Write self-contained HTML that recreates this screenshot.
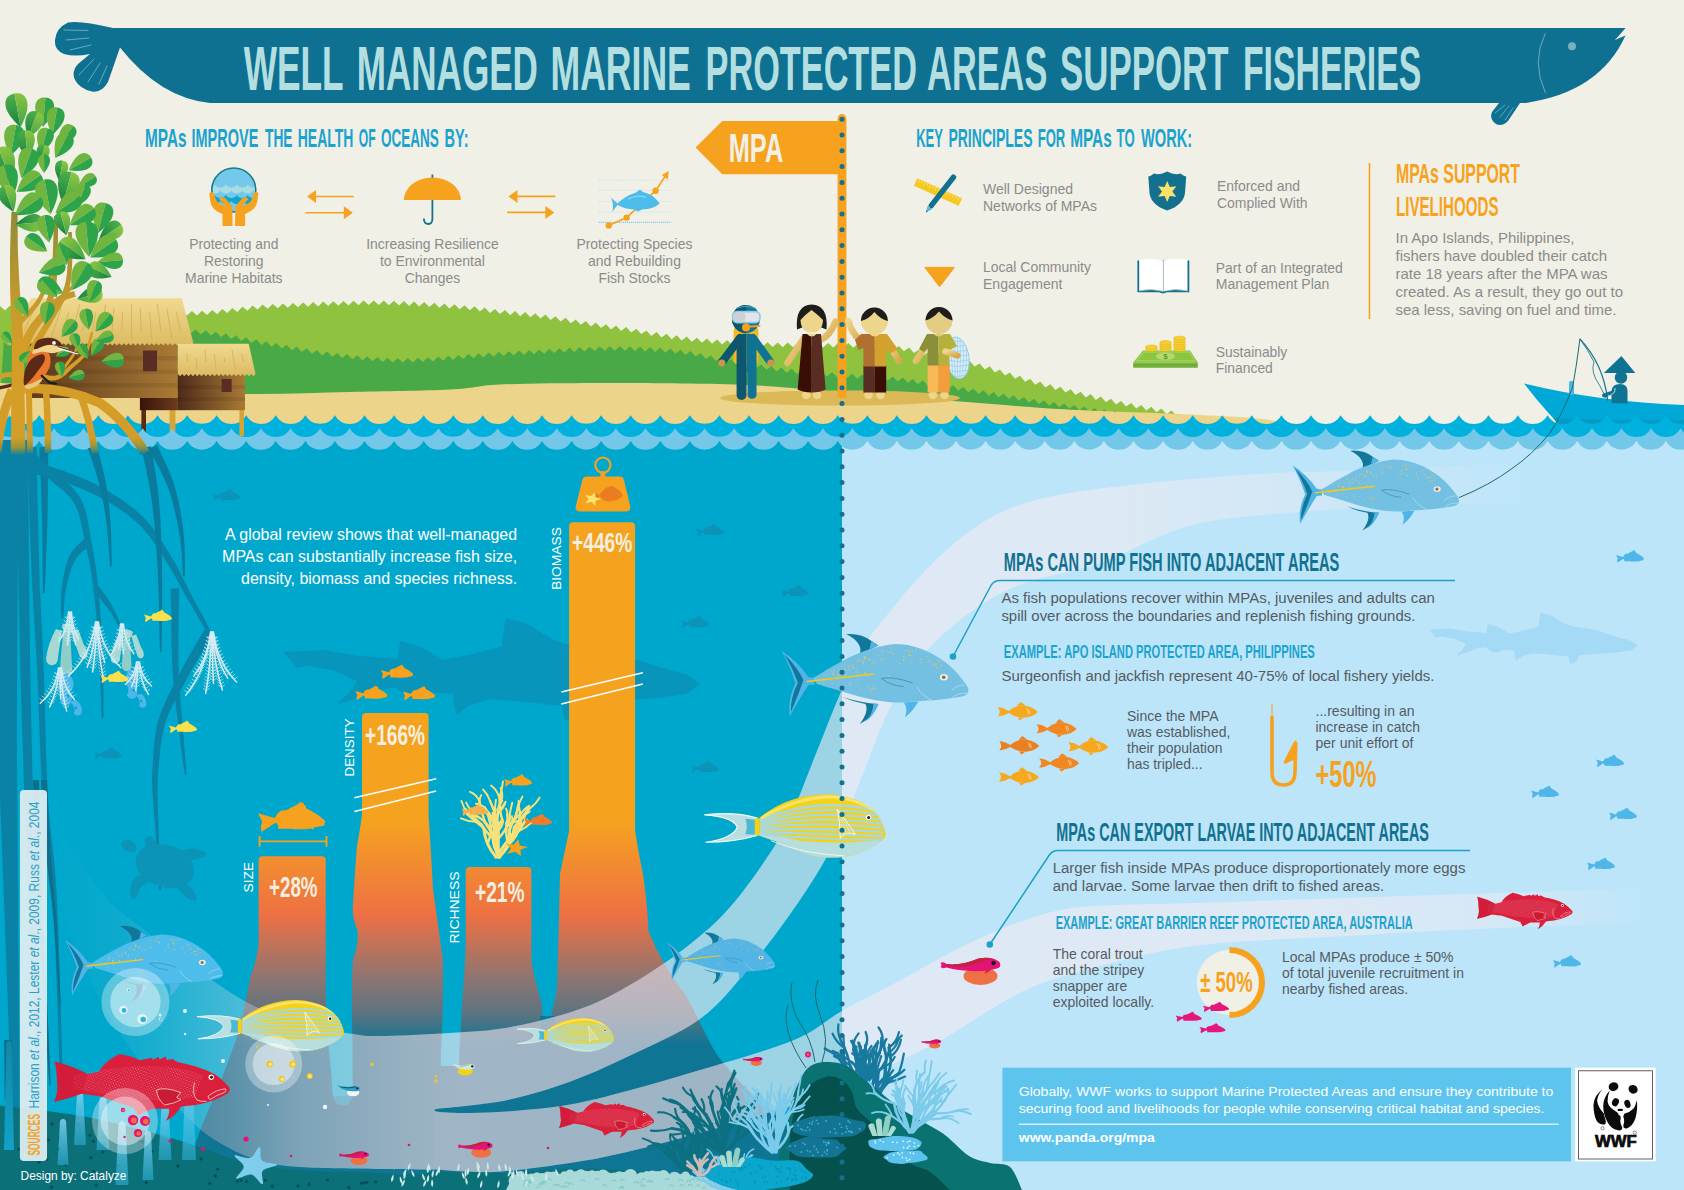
<!DOCTYPE html>
<html><head><meta charset="utf-8"><title>Well Managed Marine Protected Areas Support Fisheries</title>
<style>
html,body{margin:0;padding:0;background:#f1f0e6;}
body{width:1684px;height:1190px;overflow:hidden;}
svg{display:block;font-family:"Liberation Sans", Arial, sans-serif;}
text{white-space:pre;}
</style></head><body>
<svg width="1684" height="1190" viewBox="0 0 1684 1190">
<defs>
<linearGradient id="roof" x1="0" y1="0" x2="0" y2="1"><stop offset="0" stop-color="#f0d98f"/><stop offset="1" stop-color="#dcbb62"/></linearGradient>
<linearGradient id="wall" x1="0" y1="0" x2="1" y2="0"><stop offset="0" stop-color="#5e3a1e"/><stop offset="1" stop-color="#a87a34"/></linearGradient>
<linearGradient id="wall2" x1="0" y1="0" x2="1" y2="0"><stop offset="0" stop-color="#4e2a1a"/><stop offset="1" stop-color="#a87a34"/></linearGradient>
<linearGradient id="under" x1="0" y1="0" x2="1" y2="0"><stop offset="0" stop-color="#3a120a"/><stop offset="1" stop-color="#6b3c1e"/></linearGradient>
<clipPath id="cl"><rect x="0" y="400" width="842" height="100"/></clipPath>
<clipPath id="cr"><rect x="842" y="400" width="842" height="100"/></clipPath>
<path id="snap" d="M0.0,11.8 L16.6,16.6 L19.8,11.8 L23.0,9.1 L28.3,8.8 L32.1,6.9 L33.1,5.6 L34.7,6.1 L35.3,4.5 L36.9,5.1 L37.4,3.2 L39.0,4.0 L39.8,1.6 L41.4,2.4 L41.7,0.0 L44.1,2.1 L44.6,0.0 L46.5,4.0 L47.6,3.5 L48.1,6.9 L53.4,9.6 L60.4,13.9 L66.8,19.2 L67.3,21.1 L66.3,21.9 L66.5,24.1 L58.8,25.7 L56.1,26.2 L54.5,28.3 L53.4,27.0 L46.5,27.8 L35.3,27.8 L34.7,27.3 L19.8,27.3 L20.3,25.1 L18.7,21.6 L16.6,21.9 L3.5,30.5 L2.7,25.7 L4.3,20.3Z"/>
<path id="sf" d="M0.0,11.8 L16.6,16.6 L19.8,11.8 L23.0,9.1 L28.3,8.8 L32.1,6.9 L33.1,5.6 L34.7,6.1 L35.3,4.5 L36.9,5.1 L37.4,3.2 L39.0,4.0 L39.8,1.6 L41.4,2.4 L41.7,0.0 L44.1,2.1 L44.6,0.0 L46.5,4.0 L47.6,3.5 L48.1,6.9 L53.4,9.6 L60.4,13.9 L66.8,19.2 L67.3,21.1 L66.3,21.9 L66.5,24.1 L58.8,25.7 L56.1,26.2 L54.5,28.3 L53.4,27.0 L46.5,27.8 L35.3,27.8 L34.7,27.3 L19.8,27.3 L20.3,25.1 L18.7,21.6 L16.6,21.9 L3.5,30.5 L2.7,25.7 L4.3,20.3Z" transform="translate(-14,-7.5) scale(0.416)"/>
<g id="jack">
<path d="M0,17.8 Q16,28 27,44 L33,45 L33,51.5 L27,52 Q18,66 8.3,83.5 Q6,66 14,50 Q8,32 0,17.8Z" fill="#4fb4e6"/>
<path d="M2.5,21 Q16,34 22,47 Q17,62 9.5,79 Q9,64 16.5,50 Q11,34 2.5,21Z" fill="#12789b"/>
<path d="M64.8,1.1 Q80,0 90,8 L97,12.5 L78.4,21.1 Q82,10 64.8,1.1Z" fill="#12789b"/>
<path d="M90,8 L97,12.5 L88,16.5Z" fill="#4fb4e6"/>
<path d="M61,64 Q80,70 97,71 Q92,84 78.4,91 Q88,78 84,71 Q72,69 61,64Z" fill="#12789b"/>
<path d="M92,70.5 L97,71 Q93,82 84,89 Q92,80 92,70.5Z" fill="#4fb4e6"/>
<path d="M122.5,69.5 L137,68.6 Q131,79 123.5,84.5 Q127,76 122.5,69.5Z" fill="#4fb4e6"/>
<path d="M31.4,45.3 C40,40 49.9,33.9 62,27.5 C78,19 96.9,12.5 114,11.1 C135.4,11 156.8,22 171,35.3 C178,42 183,49 185.3,52.4 Q187.5,55 186.7,59.6 Q184,63.5 180,63.6 Q176,64.5 169.6,65.3 C160,66.8 149.6,67.4 121.1,69.5 C110,70 95,68 78.4,63.8 C65,60 50,55 35.6,51 Z" fill="var(--jb,#74c0e3)"/>
<g fill="#e8c860" opacity="0.85"><circle cx="67.2" cy="33.6" r="0.73"/><circle cx="50.2" cy="38.0" r="0.55"/><circle cx="159.9" cy="32.5" r="0.63"/><circle cx="94.4" cy="29.2" r="0.65"/><circle cx="63.1" cy="32.8" r="0.54"/><circle cx="42.4" cy="46.0" r="0.56"/><circle cx="88.9" cy="26.3" r="0.50"/><circle cx="71.0" cy="32.3" r="0.85"/><circle cx="47.6" cy="45.2" r="0.71"/><circle cx="80.6" cy="28.8" r="0.73"/><circle cx="99.7" cy="26.7" r="0.68"/><circle cx="57.1" cy="49.4" r="0.48"/><circle cx="153.5" cy="31.3" r="0.83"/><circle cx="109.5" cy="14.8" r="0.74"/><circle cx="145.7" cy="23.7" r="0.80"/><circle cx="56.2" cy="42.4" r="0.76"/><circle cx="51.7" cy="41.3" r="0.83"/><circle cx="141.2" cy="32.9" r="0.65"/><circle cx="63.7" cy="37.1" r="0.65"/><circle cx="48.6" cy="47.0" r="0.81"/><circle cx="100.9" cy="17.1" r="0.55"/><circle cx="41.4" cy="49.3" r="0.59"/><circle cx="72.0" cy="34.5" r="0.78"/><circle cx="147.0" cy="26.5" r="0.52"/><circle cx="87.6" cy="26.4" r="0.84"/><circle cx="64.2" cy="41.9" r="0.76"/><circle cx="76.0" cy="40.2" r="0.59"/><circle cx="60.4" cy="33.4" r="0.62"/><circle cx="67.8" cy="37.0" r="0.62"/><circle cx="110.6" cy="19.5" r="0.57"/><circle cx="51.4" cy="40.0" r="0.66"/><circle cx="83.2" cy="23.8" r="0.77"/><circle cx="100.6" cy="21.7" r="0.48"/><circle cx="56.8" cy="42.7" r="0.75"/><circle cx="82.2" cy="29.8" r="0.84"/><circle cx="40.4" cy="47.2" r="0.80"/><circle cx="44.0" cy="46.7" r="0.84"/><circle cx="131.1" cy="28.3" r="0.52"/><circle cx="156.4" cy="27.4" r="0.63"/><circle cx="50.0" cy="45.3" r="0.64"/><circle cx="58.5" cy="39.5" r="0.50"/><circle cx="109.7" cy="18.9" r="0.63"/><circle cx="127.1" cy="17.2" r="0.74"/><circle cx="96.6" cy="22.4" r="0.54"/><circle cx="63.7" cy="35.9" r="0.63"/><circle cx="53.0" cy="37.8" r="0.69"/><circle cx="83.7" cy="25.1" r="0.84"/><circle cx="130.7" cy="18.0" r="0.65"/><circle cx="124.6" cy="17.5" r="0.66"/><circle cx="129.3" cy="22.4" r="0.71"/><circle cx="129.2" cy="29.0" r="0.82"/><circle cx="157.8" cy="28.9" r="0.67"/><circle cx="157.2" cy="34.6" r="0.60"/><circle cx="153.0" cy="31.6" r="0.70"/><circle cx="154.8" cy="34.8" r="0.76"/><circle cx="75.5" cy="28.5" r="0.60"/><circle cx="155.0" cy="31.0" r="0.79"/><circle cx="77.4" cy="27.4" r="0.79"/><circle cx="122.1" cy="27.2" r="0.82"/><circle cx="127.4" cy="21.2" r="0.59"/><circle cx="91.3" cy="29.1" r="0.65"/><circle cx="103.5" cy="18.7" r="0.48"/><circle cx="128.0" cy="22.1" r="0.56"/><circle cx="90.4" cy="31.0" r="0.56"/><circle cx="75.0" cy="36.7" r="0.77"/><circle cx="100.5" cy="18.4" r="0.61"/><circle cx="83.4" cy="40.2" r="0.84"/><circle cx="134.8" cy="17.1" r="0.78"/><circle cx="111.6" cy="21.0" r="0.78"/><circle cx="84.2" cy="24.3" r="0.61"/><circle cx="118.6" cy="30.3" r="0.76"/><circle cx="56.4" cy="41.6" r="0.69"/><circle cx="122.2" cy="23.7" r="0.80"/><circle cx="148.7" cy="28.4" r="0.82"/><circle cx="51.1" cy="50.6" r="0.71"/><circle cx="78.4" cy="35.1" r="0.47"/><circle cx="150.4" cy="32.3" r="0.60"/><circle cx="139.4" cy="29.2" r="0.78"/><circle cx="127.0" cy="22.2" r="0.57"/><circle cx="82.9" cy="26.4" r="0.58"/><circle cx="102.4" cy="25.9" r="0.59"/><circle cx="59.2" cy="42.2" r="0.55"/><circle cx="86.7" cy="34.4" r="0.49"/><circle cx="66.7" cy="35.8" r="0.57"/><circle cx="61.2" cy="31.8" r="0.47"/><circle cx="106.7" cy="19.0" r="0.74"/><circle cx="139.0" cy="26.3" r="0.80"/><circle cx="128.3" cy="19.0" r="0.64"/><circle cx="107.5" cy="43.1" r="0.82"/><circle cx="55.9" cy="46.4" r="0.58"/><circle cx="88.9" cy="26.5" r="0.47"/><circle cx="89.4" cy="55.3" r="0.6"/><circle cx="75.7" cy="52.7" r="0.6"/><circle cx="91.8" cy="55.4" r="0.6"/><circle cx="89.8" cy="58.4" r="0.6"/><circle cx="79.6" cy="57.1" r="0.6"/><circle cx="69.5" cy="52.0" r="0.6"/><circle cx="87.2" cy="54.5" r="0.6"/><circle cx="60.4" cy="52.5" r="0.6"/><circle cx="68.8" cy="50.7" r="0.6"/><circle cx="86.9" cy="54.3" r="0.6"/><circle cx="93.6" cy="55.2" r="0.6"/><circle cx="91.8" cy="52.7" r="0.6"/></g>
<path d="M25.7,48.5 L92,41" stroke="#f5c918" stroke-width="1.7" stroke-linecap="round"/>
<path d="M100,45.5 Q112,43 131,50 M100,45.5 Q110,53 122,53.5" stroke="#2d88a6" stroke-width="0.7" fill="none"/>
<path d="M135.4,54 Q141,63 150,67" stroke="#b9e0f1" stroke-width="0.7" fill="none"/>
<path d="M170,58 Q174,52.5 183,52 M171,64.5 Q176,60 186,60" stroke="#b9e0f1" stroke-width="0.7" fill="none"/>
<ellipse cx="162.5" cy="44.3" rx="4" ry="3.2" fill="#f3ecd8"/><circle cx="162.3" cy="44.3" r="1.8" fill="#7a6f6f"/>
</g>
<g id="surgeon"><clipPath id="sgc"><path d="M54.9,23.7 C62,18 73,11 85,6.5 C97.9,2 110,0 122.8,0 C135,0 147.8,3.7 157,8 C166.5,13.1 173,19 176.5,25.6 C179,31 181.5,36 181.4,40.5 C181,44 178,46 175.2,48 C170,52 166,54.5 160.2,56.7 C152,60.5 145,62.5 135.3,63 C127,63.5 118,63 110.4,61.7 C100,59.5 92,56.5 85.4,53 C78,49.5 72,47 66.7,45.5 L54.9,41.2Z"/></clipPath>
<path d="M0,20.6 Q30,17 53,23.7 L53,41.2 Q30,48 1.2,48 Q28,44.5 33,33 Q29,22.5 0,20.6Z" fill="#b9dfe0" stroke="#f4fbfa" stroke-width="1.1"/>
<path d="M41,24.5 L53,25.6 L53,40.5 L41,40 Q44,32 41,24.5Z" fill="#4bb8d6"/>
<path d="M54.9,23.7 C62,18 73,11 85,6.5 C97.9,2 110,0 122.8,0 C135,0 147.8,3.7 157,8 C166.5,13.1 173,19 176.5,25.6 C179,31 181.5,36 181.4,40.5 C181,44 178,46 175.2,48 C170,52 166,54.5 160.2,56.7 C152,60.5 145,62.5 135.3,63 C127,63.5 118,63 110.4,61.7 C100,59.5 92,56.5 85.4,53 C78,49.5 72,47 66.7,45.5 L54.9,41.2Z" fill="#f5d21a"/>
<g clip-path="url(#sgc)"><path d="M54,38 Q75,42 97.9,46.8 Q135,50.5 185,45 L185,70 L54,70Z" fill="#b5dedd"/>
<g stroke="#a8d9e0" stroke-width="2.3" fill="none"><path d="M56,25.7 Q115,0.5 179,18.3"/><path d="M56,27.7 Q115,7.0 179,22.2"/><path d="M56,29.7 Q115,13.5 179,26.1"/><path d="M56,31.7 Q115,20.0 179,30.0"/><path d="M56,33.7 Q115,26.5 179,33.9"/><path d="M56,35.7 Q115,32.9 179,37.8"/><path d="M56,37.7 Q115,39.4 179,41.7"/><path d="M56,39.7 Q115,45.9 179,45.6"/></g>
<path d="M57,24 Q85,6 122,2.5 Q150,3 172,17" stroke="#f9e36a" stroke-width="3" fill="none"/></g>
<rect x="50.5" y="23.7" width="4.6" height="17.5" rx="1.5" fill="#f5d21a"/>
<path d="M66.7,46.5 Q100,60 140,61.5" stroke="#f4fbfa" stroke-width="0.8" fill="none"/>
<path d="M133,15 Q143,28 151,40 Q141,36 136,44 Q136,28 133,15Z" fill="none" stroke="#fdfdf5" stroke-width="0.9"/>
<path d="M135,19 L146,38 M136,24 L142,38 M136.5,30 L139,40" stroke="#fdfdf5" stroke-width="0.5"/>
<circle cx="164.2" cy="23.1" r="2.6" fill="#fff"/><circle cx="164.4" cy="23.1" r="1.5" fill="#1d1d1b"/>
</g>
<pattern id="gdots" width="3.1" height="3.1" patternUnits="userSpaceOnUse" patternTransform="rotate(20)"><circle cx="1" cy="1" r="0.45" fill="#f2b8b8"/><circle cx="2.5" cy="2.4" r="0.35" fill="#cfe4ee"/></pattern>
<g id="grouper"><path d="M0.6,7.5 Q18,12 33.7,20 L44.9,17.5 Q52,6 66,0 Q78,2 86,6.2 L92,5 L98.5,3.7 L99,6 L105,2.8 L106,5.5 L112.2,2.5 L113,6 L119,5 L123.5,8.1 Q133,10 142.2,12.5 Q152,15.5 160.9,20 Q170,26 175.8,33.7 Q177.5,36.5 174,39.5 Q168,43 160.9,46.1 Q152,49.5 142.2,51.1 L129.7,52.4 L127.2,53 Q122,62 112.2,67.3 Q116,60 116,54.9 L98.5,54.9 Q92,58 84,62 Q82,57 80,54 Q62,48 46.1,42.4 L27.4,39.9 Q14,45 0,48 Q5,38 3,27.4 Q3,16 0.6,7.5Z" fill="#da1f3d"/>
<path d="M20,21 Q60,12 100,12 Q135,14 150,22 L140,44 Q100,50 60,42 Q35,36 20,36Z" fill="url(#gdots)"/>
<path d="M0.6,7.5 Q18,12 33.7,20 L27.4,39.9 Q14,45 0,48 Q5,38 3,27.4 Q3,16 0.6,7.5Z" fill="#c91a36" opacity="0.5"/>
<path d="M102.9,36.2 Q111,32.5 127.2,38.7 L123,43.5 L127.2,46 Q120,50 111,51.1 Q104,46 102.9,36.2Z" fill="#c91a36" stroke="#f6d9c0" stroke-width="0.8"/>
<path d="M140.9,28.7 Q138,40 143.4,46.1 Q147,48 153,47.5" fill="none" stroke="#f6d9c0" stroke-width="0.8"/>
<path d="M154.6,42.4 Q162,36 172,34.9 Q173.5,36.5 171,38.5 Q163,41 157,45.5 Q154,45 154.6,42.4Z" fill="none" stroke="#f6d9c0" stroke-width="0.8"/>
<circle cx="157.7" cy="23.3" r="2.7" fill="#fdf6e6"/><circle cx="158" cy="23.4" r="1.5" fill="#3a1a10"/>
</g>
<g id="larva"><ellipse cx="40" cy="18" rx="17" ry="9" fill="#ef7045"/>
<path d="M0,5 Q3,3 6,6 Q20,8 38,0.5 Q52,-2 59,4 Q61,8 58,10 Q45,14 30,13 Q15,12 6,9.5 Q2,11 0,9 Q2,7 0,5Z" fill="#e5127a"/>
<path d="M6,6 Q20,8 38,0.5 Q46,-1 52,0.5 Q40,5 22,9 Q12,9.5 6,8Z" fill="#c4233f"/>
<path d="M46,10 L50,13 L44,16Z" fill="#d9263f"/>
<circle cx="53" cy="5" r="2.2" fill="#1d1d1b"/></g>
<g id="larvay"><ellipse cx="14" cy="9.5" rx="8" ry="4.6" fill="#f5d21a"/>
<path d="M0,1 Q6,5 15,3 Q21,1.5 24,4 Q24.5,7 21,7.5 Q12,9 6,6 Q2,4 0,1Z" fill="#cfe7e4"/>
<path d="M8,5 Q14,4 18,3" stroke="#8cc63f" stroke-width="0.8" fill="none"/>
<circle cx="21.3" cy="4.6" r="1.3" fill="#1d1d1b"/></g>
<g id="larvab"><ellipse cx="17" cy="9" rx="6.5" ry="4" fill="#f2f6f4"/>
<path d="M0,1 Q6,4 15,2.5 Q21,1.5 24,4 Q24.5,7 21,7.5 Q12,8.5 6,5.5 Q2,4 0,1Z" fill="#2f9ec4"/>
<path d="M4,3.2 Q12,5 20,3" stroke="#0d566e" stroke-width="1" fill="none"/>
<circle cx="21.3" cy="4.6" r="1.2" fill="#1d1d1b"/></g>
<linearGradient id="mg" gradientUnits="userSpaceOnUse" x1="0" y1="820" x2="0" y2="1045"><stop offset="0" stop-color="#f5a21e"/><stop offset="0.06" stop-color="#f49c25"/><stop offset="0.42" stop-color="#ee7043"/><stop offset="0.70" stop-color="#8f7571"/><stop offset="0.86" stop-color="#5b7480"/><stop offset="1" stop-color="#0e7594"/></linearGradient>
<clipPath id="moundclip"><path d="M258.6,1190 L180,1190 Q192,1150 205,1118 Q222,1080 236,1040 Q246,1005 250,978 Q258.6,955 258.6,940 L258.6,860.3 Q258.6,856.3 262.6,856.3 L321.7,856.3 Q325.7,856.3 325.7,860.3 L325.7,990 Q327,1040 331,1070 Q334,1100 336,1190Z"/><path d="M362,716.9 Q362,712.9 366,712.9 L424.6,712.9 Q428.6,712.9 428.6,716.9 L428.6,817 Q431,850 432.9,888.6 Q438,925 442.9,960 Q443.5,1010 441,1050 Q440,1100 441,1190 L352,1190 Q353,1100 352.5,1040 Q351,990 352.9,960 Q358.5,945 357.7,931 Q352,918 352.9,905.7 Q355,870 357,845.7 Q360,830 362,815Z"/><path d="M465.7,871.1 Q465.7,867.1 469.7,867.1 L527.4,867.1 Q531.4,867.1 531.4,871.1 L531.4,960 Q533,975 538,990 Q541,1000 542.5,1006 L542.5,1190 L458,1190 L459,1060 Q461,1020 463,990 Q465.7,960 465.7,940Z"/><path d="M569.1,526.3 Q569.1,522.3 573.1,522.3 L631.1,522.3 Q635.1,522.3 635.1,526.3 L635.1,831 Q638,850 642.9,874 Q647,900 648.6,931.4 Q662,965 685,994 Q698,1018 706,1035 Q716,1056 728,1068 Q745,1090 770,1110 Q800,1135 830,1190 L551,1190 L551.5,1012 Q556,1000 557,985 Q558,950 559,920 Q559.5,895 560,874 Q565,850 569.1,831Z"/><path d="M324,1096 L355,1096 L355,1190 L324,1190Z M437,1066 L462,1066 L462,1190 L437,1190Z M540,1016 L555,1016 L555,1190 L540,1190Z"/></clipPath>
<linearGradient id="bandg1" gradientUnits="userSpaceOnUse" x1="50" y1="0" x2="1684" y2="0"><stop offset="0.0000" stop-color="#f0ebf2" stop-opacity="0"/><stop offset="0.0367" stop-color="#f0ebf2" stop-opacity="0.04"/><stop offset="0.0612" stop-color="#f0ebf2" stop-opacity="0.1"/><stop offset="0.0918" stop-color="#f0ebf2" stop-opacity="0.21"/><stop offset="0.1193" stop-color="#f0ebf2" stop-opacity="0.31"/><stop offset="0.1530" stop-color="#f0ebf2" stop-opacity="0.47"/><stop offset="0.2142" stop-color="#f0ebf2" stop-opacity="0.6"/><stop offset="0.2509" stop-color="#f0ebf2" stop-opacity="0.66"/><stop offset="0.6426" stop-color="#f0ebf2" stop-opacity="0.64"/><stop offset="0.7344" stop-color="#f0ebf2" stop-opacity="0.48"/><stop offset="0.8262" stop-color="#f0ebf2" stop-opacity="0.24"/><stop offset="0.9119" stop-color="#f0ebf2" stop-opacity="0"/></linearGradient>
<linearGradient id="bandg2" gradientUnits="userSpaceOnUse" x1="50" y1="0" x2="1684" y2="0"><stop offset="0.0000" stop-color="#f0ebf2" stop-opacity="0.66"/><stop offset="0.7650" stop-color="#f0ebf2" stop-opacity="0.64"/><stop offset="0.8752" stop-color="#f0ebf2" stop-opacity="0.52"/><stop offset="0.9792" stop-color="#f0ebf2" stop-opacity="0"/></linearGradient>
<linearGradient id="tube" x1="0" y1="0" x2="0" y2="1"><stop offset="0" stop-color="#7fd0ec" stop-opacity="0.9"/><stop offset="1" stop-color="#2fb4dc" stop-opacity="0.55"/></linearGradient>
<linearGradient id="tube2" x1="0" y1="0" x2="0" y2="1"><stop offset="0" stop-color="#1487a8"/><stop offset="1" stop-color="#10a2c8"/></linearGradient>
<clipPath id="globe"><circle cx="233.8" cy="190" r="21"/></clipPath>
<linearGradient id="armL" x1="0" y1="0" x2="1" y2="1"><stop offset="0" stop-color="#edd58b"/><stop offset="1" stop-color="#d9a84e"/></linearGradient>
<clipPath id="netc"><ellipse cx="957.5" cy="358" rx="11.5" ry="21" transform="rotate(-8 957.5 358)"/></clipPath>
<linearGradient id="trunk" x1="0" y1="0" x2="0" y2="1"><stop offset="0" stop-color="#8e8b36"/><stop offset="0.45" stop-color="#c99a2c"/><stop offset="1" stop-color="#d39d28"/></linearGradient>
<linearGradient id="lf1" x1="0" y1="0" x2="0" y2="1"><stop offset="0" stop-color="#8dc63f"/><stop offset="1" stop-color="#3da548"/></linearGradient>
<linearGradient id="lf2" x1="0" y1="0" x2="0" y2="1"><stop offset="0" stop-color="#4db04a"/><stop offset="1" stop-color="#17803d"/></linearGradient>
<g id="leaf"><path d="M0,0 C-6,-8 -10.8,-16 -10,-23 C-9.2,-30 -4,-31.5 0,-31.5Z" fill="#6fb53f"/><path d="M0,0 C6,-8 10.8,-16 10,-23 C9.2,-30 4,-31.5 0,-31.5Z" fill="#2da44a"/></g>
<g id="leafb"><path d="M0,0 C-6,-8 -10.8,-16 -10,-23 C-9.2,-30 -4,-31.5 0,-31.5Z" fill="url(#lf2)"/><path d="M0,0 C6,-8 10.8,-16 10,-23 C9.2,-30 4,-31.5 0,-31.5Z" fill="url(#lf1)"/></g>
<linearGradient id="trunk2" gradientUnits="userSpaceOnUse" x1="0" y1="210" x2="0" y2="455"><stop offset="0" stop-color="#8e8b36"/><stop offset="0.4" stop-color="#c99a2c"/><stop offset="0.55" stop-color="#d39d28"/><stop offset="0.93" stop-color="#d39d28"/><stop offset="0.97" stop-color="#9a923c"/><stop offset="1" stop-color="#0a82a6"/></linearGradient>
<linearGradient id="rootg" gradientUnits="userSpaceOnUse" x1="0" y1="370" x2="0" y2="455"><stop offset="0" stop-color="#d39d28"/><stop offset="0.8" stop-color="#d39d28"/><stop offset="0.9" stop-color="#9a923c"/><stop offset="1" stop-color="#0a82a6"/></linearGradient>
</defs>
<rect width="1684" height="1190" fill="#f1f0e6"/>
<rect x="0" y="430" width="842" height="760" fill="#00a7cc"/>
<rect x="842" y="430" width="842" height="760" fill="#bce5f9"/>
<path d="M0.0,425L0.0,306.0L5.0,310.4L10.1,305.6L15.1,309.9L20.2,305.1L25.2,309.5L30.3,304.6L35.4,309.0L40.4,304.2L45.4,308.6L50.5,303.8L55.5,308.2L60.6,303.4L65.6,307.8L70.7,303.1L75.7,307.6L80.8,302.9L85.8,307.5L90.9,302.9L95.9,307.5L101.0,303.0L106.0,307.8L111.1,303.5L116.1,308.5L121.2,304.4L126.2,309.5L131.3,305.4L136.3,310.6L141.4,306.7L146.4,311.9L151.5,307.9L156.6,313.1L161.6,309.1L166.7,314.2L171.7,310.1L176.8,315.1L181.8,310.8L186.9,315.5L191.9,311.0L197.0,315.5L202.0,310.7L207.1,315.1L212.1,310.1L217.2,314.2L222.2,309.1L227.3,313.1L232.3,307.9L237.4,311.9L242.4,306.7L247.5,310.7L252.5,305.5L257.6,309.6L262.6,304.6L267.7,308.8L272.7,303.9L277.8,308.2L282.8,303.4L287.9,307.7L292.9,302.9L298.0,307.2L303.0,302.4L308.1,306.8L313.1,302.0L318.2,306.4L323.2,301.6L328.3,306.0L333.3,301.3L338.4,305.7L343.4,301.0L348.5,305.4L353.5,300.7L358.6,305.2L363.6,300.6L368.7,305.1L373.7,300.5L378.8,305.1L383.8,300.6L388.9,305.2L393.9,300.8L399.0,305.5L404.0,301.1L409.1,305.9L414.1,301.6L419.2,306.4L424.2,302.1L429.3,307.1L434.3,302.8L439.4,307.8L444.4,303.5L449.5,308.5L454.5,304.3L459.6,309.3L464.6,305.2L469.7,310.3L474.7,306.3L479.8,311.6L484.8,307.6L489.9,312.9L494.9,308.9L500.0,314.1L505.0,310.0L510.1,315.2L515.1,311.1L520.2,316.2L525.2,312.1L530.3,317.2L535.3,313.3L540.4,318.5L545.4,314.6L550.5,320.0L555.5,316.2L560.6,321.5L565.6,317.8L570.7,323.2L575.7,319.4L580.8,324.8L585.8,321.0L590.9,326.5L595.9,322.6L601.0,328.0L606.0,324.2L611.0,329.5L616.1,325.6L621.1,331.0L626.2,327.1L631.2,332.5L636.3,328.7L641.3,334.1L646.4,330.4L651.4,335.9L656.5,332.1L661.5,337.6L666.6,333.8L671.6,339.2L676.7,335.3L681.7,340.6L686.8,336.6L691.8,341.8L696.9,337.7L701.9,342.8L707.0,338.6L712.0,343.7L717.1,339.5L722.1,344.4L727.2,340.2L732.2,345.1L737.3,340.8L742.3,345.7L747.4,341.4L752.4,346.2L757.5,341.8L762.5,346.7L767.6,342.2L772.6,347.0L777.7,342.5L782.7,347.2L787.8,342.6L792.8,347.3L797.9,342.7L802.9,347.3L808.0,342.7L813.0,347.4L818.1,342.8L823.1,347.4L828.2,342.9L833.2,347.6L838.3,343.1L843.3,347.7L848.4,343.1L853.4,347.7L858.5,343.1L863.5,347.7L868.6,343.2L873.6,348.0L878.7,343.7L883.7,348.7L888.8,344.6L893.8,349.8L898.9,345.9L903.9,351.3L909.0,347.6L914.0,353.0L919.1,349.4L924.1,355.0L929.2,351.4L934.2,357.0L939.3,353.5L944.3,359.2L949.4,355.8L954.4,361.6L959.5,358.2L964.5,364.0L969.6,360.7L974.6,366.6L979.7,363.4L984.7,369.4L989.8,366.3L994.8,372.4L999.9,369.4L1004.9,375.6L1010.0,372.5L1015.0,378.7L1020.1,375.7L1025.1,381.8L1030.2,378.7L1035.2,384.7L1040.3,381.5L1045.3,387.5L1050.4,384.2L1055.4,390.1L1060.5,386.8L1065.5,392.6L1070.6,389.3L1075.6,395.1L1080.7,391.7L1085.7,397.5L1090.8,394.1L1095.8,399.9L1100.9,396.4L1105.9,402.2L1111.0,398.7L1116.0,404.4L1121.1,400.9L1126.1,406.5L1131.2,402.9L1136.2,408.5L1141.3,404.9L1146.3,410.5L1151.4,406.8L1156.4,412.3L1161.5,408.6L1166.5,414.2L1171.6,410.5L1176.6,416.0L1180.0,425Z" fill="#8fc23e"/>
<path d="M-6.3,425L-6.3,413.0L-1.2,417.6L3.8,341.7L8.8,345.9L13.9,340.9L18.9,345.0L24.0,340.0L29.1,344.2L34.1,339.2L39.1,343.3L44.2,338.3L49.2,342.5L54.3,337.5L59.3,341.7L64.4,336.7L69.4,340.9L74.5,335.9L79.5,340.1L84.6,335.1L89.6,339.3L94.7,334.4L99.7,338.6L104.8,333.7L109.8,337.9L114.9,332.8L119.9,337.0L125.0,332.0L130.0,336.1L135.1,331.1L140.1,335.3L145.2,330.3L150.2,334.5L155.3,329.5L160.4,333.9L165.4,329.0L170.5,333.5L175.5,328.8L180.6,333.4L185.6,328.8L190.7,333.6L195.7,329.4L200.8,334.4L205.8,330.3L210.9,335.6L215.9,331.7L221.0,337.1L226.0,333.4L231.1,338.9L236.1,335.3L241.2,340.9L246.2,337.3L251.3,342.9L256.3,339.3L261.4,344.9L266.4,341.2L271.5,346.7L276.5,342.9L281.6,348.4L286.6,344.7L291.7,350.2L296.7,346.5L301.8,352.0L306.8,348.3L311.9,353.7L316.9,350.0L322.0,355.4L327.0,351.5L332.1,356.8L337.1,352.9L342.2,358.1L347.2,354.1L352.3,359.3L357.3,355.3L362.4,360.4L367.4,356.3L372.5,361.3L377.5,357.1L382.6,362.0L387.6,357.7L392.7,362.4L397.7,358.0L402.8,362.6L407.8,358.0L412.9,362.5L417.9,357.7L423.0,362.1L428.0,357.2L433.1,361.5L438.1,356.5L443.2,360.7L448.2,355.7L453.3,359.9L458.3,354.9L463.4,359.1L468.4,354.0L473.5,358.2L478.5,353.2L483.6,357.4L488.6,352.5L493.7,356.7L498.7,351.8L503.8,356.1L508.8,351.2L513.9,355.5L518.9,350.6L524.0,354.9L529.0,350.0L534.1,354.3L539.1,349.4L544.2,353.7L549.2,348.8L554.3,353.1L559.3,348.2L564.4,352.5L569.4,347.6L574.5,352.0L579.5,347.1L584.6,351.5L589.6,346.7L594.7,351.1L599.7,346.4L604.8,350.8L609.8,346.2L614.8,350.7L619.9,346.1L624.9,350.7L630.0,346.2L635.0,351.0L640.1,346.6L645.1,351.4L650.2,347.0L655.2,351.9L660.3,347.6L665.3,352.7L670.4,348.6L675.4,353.7L680.5,349.7L685.5,355.0L690.6,351.1L695.6,356.5L700.7,353.2L705.7,359.0L710.8,355.4L715.8,360.9L720.9,357.2L725.9,362.8L731.0,359.1L736.0,364.6L741.1,360.9L746.1,366.4L751.2,362.7L756.2,368.1L761.3,364.4L766.3,369.8L771.4,366.0L776.4,371.4L781.5,367.5L786.5,372.8L791.6,368.8L796.6,374.0L801.7,369.9L806.7,375.0L811.8,370.8L816.8,375.8L821.9,371.5L826.9,376.5L832.0,372.2L837.0,377.2L842.1,373.0L847.1,378.0L852.2,373.7L857.2,378.7L862.3,374.4L867.3,379.3L872.4,375.0L877.4,379.9L882.5,375.7L887.5,380.7L892.6,376.5L897.6,381.6L902.7,377.6L907.7,382.8L912.8,378.9L917.8,384.2L922.9,380.3L927.9,385.7L933.0,381.9L938.0,387.3L943.1,383.6L948.1,389.0L953.2,385.2L958.2,390.7L963.3,386.9L968.3,392.3L973.4,388.5L978.4,394.0L983.5,390.2L988.5,395.7L993.6,391.9L998.6,397.4L1003.7,393.6L1008.7,399.1L1013.8,395.3L1018.8,400.8L1023.9,397.0L1028.9,402.5L1034.0,398.7L1039.0,404.1L1044.1,400.3L1049.1,405.7L1054.2,401.9L1059.2,407.3L1064.3,403.5L1069.3,408.8L1074.4,405.0L1079.4,410.3L1084.5,406.4L1089.5,411.8L1094.6,407.9L1099.6,413.1L1104.7,409.2L1109.7,414.5L1114.8,410.5L1119.8,415.7L1124.9,411.7L1129.9,417.0L1135.0,413.0L1135.0,425Z" fill="#49a946"/>
<path d="M0.0,383.0C25.0,384.2 108.0,388.2 150.0,390.0C192.0,391.8 218.7,393.7 252.0,394.0C285.3,394.3 317.0,392.7 350.0,392.0C383.0,391.3 425.0,390.9 450.0,389.6C475.0,388.4 475.8,385.6 500.0,384.5C524.2,383.4 563.3,383.2 595.0,383.0C626.7,382.8 662.3,383.1 690.0,383.5C717.7,383.9 737.3,384.3 761.0,385.7C784.7,387.1 808.8,389.7 832.0,391.6C855.2,393.5 877.5,395.3 900.0,397.0C922.5,398.7 943.3,400.2 967.0,402.0C990.7,403.8 1019.8,406.5 1042.0,408.0C1064.2,409.5 1079.2,410.1 1100.0,411.0C1120.8,411.9 1145.3,412.6 1167.0,413.5C1188.7,414.4 1214.2,415.6 1230.0,416.5C1245.8,417.4 1250.3,417.6 1262.0,419.0C1273.7,420.4 1293.7,424.0 1300.0,425.0L1300,440L0,440Z" fill="#ecd48a"/>
<ellipse cx="840" cy="398" rx="120" ry="7.6" fill="#dcb957"/>
<path d="M1524,383.5 Q1600,402 1684,405 L1684,440 L1575,440 Q1548,415 1524,383.5Z" fill="#00a8d8"/>
<path d="M1553,418 Q1620,421 1684,420 L1684,440 L1575,440 Q1562,430 1553,418Z" fill="#059ac6"/>
<rect x="1569" y="381" width="5" height="14" rx="1.5" fill="#4fb6e8"/>
<path d="M1603.8,372.9 L1621.4,356 L1635.3,372.9Z" fill="#0f7393"/>
<circle cx="1621" cy="377.5" r="6.2" fill="#0f7393"/>
<path d="M1611.5,403 L1611.5,391 Q1612,384 1620,384 Q1627.5,384 1627.5,391 L1627.5,403.5Z" fill="#0f7393"/>
<path d="M1615,392 L1604,395.5" stroke="#0f7393" stroke-width="4" stroke-linecap="round" fill="none"/>
<path d="M1615,388 Q1616,394 1608,396" stroke="#f1f0e6" stroke-width="0.8" fill="none"/>
<path d="M1607.6,400.6 Q1604,365 1579.9,338.9" stroke="#12718c" stroke-width="1.2" fill="none"/>
<path d="M1579.9,338.9 Q1588,350 1594,362 Q1590,372 1600,386 Q1603,392 1606,398" stroke="#12718c" stroke-width="0.8" fill="none"/>
<path d="M-49.6,470L-49.6,415.2A16.92,16.92 0 0 0 -20.0,415.2A16.92,16.92 0 0 0 9.6,415.2A16.92,16.92 0 0 0 39.2,415.2A16.92,16.92 0 0 0 68.8,415.2A16.92,16.92 0 0 0 98.3,415.2A16.92,16.92 0 0 0 127.9,415.2A16.92,16.92 0 0 0 157.5,415.2A16.92,16.92 0 0 0 187.1,415.2A16.92,16.92 0 0 0 216.6,415.2A16.92,16.92 0 0 0 246.2,415.2A16.92,16.92 0 0 0 275.8,415.2A16.92,16.92 0 0 0 305.4,415.2A16.92,16.92 0 0 0 334.9,415.2A16.92,16.92 0 0 0 364.5,415.2A16.92,16.92 0 0 0 394.1,415.2A16.92,16.92 0 0 0 423.7,415.2A16.92,16.92 0 0 0 453.3,415.2A16.92,16.92 0 0 0 482.8,415.2A16.92,16.92 0 0 0 512.4,415.2A16.92,16.92 0 0 0 542.0,415.2A16.92,16.92 0 0 0 571.6,415.2A16.92,16.92 0 0 0 601.1,415.2A16.92,16.92 0 0 0 630.7,415.2A16.92,16.92 0 0 0 660.3,415.2A16.92,16.92 0 0 0 689.9,415.2A16.92,16.92 0 0 0 719.4,415.2A16.92,16.92 0 0 0 749.0,415.2A16.92,16.92 0 0 0 778.6,415.2A16.92,16.92 0 0 0 808.2,415.2A16.92,16.92 0 0 0 837.8,415.2A16.92,16.92 0 0 0 867.3,415.2A16.92,16.92 0 0 0 896.9,415.2A16.92,16.92 0 0 0 926.5,415.2A16.92,16.92 0 0 0 956.1,415.2A16.92,16.92 0 0 0 985.6,415.2A16.92,16.92 0 0 0 1015.2,415.2A16.92,16.92 0 0 0 1044.8,415.2A16.92,16.92 0 0 0 1074.4,415.2A16.92,16.92 0 0 0 1103.9,415.2A16.92,16.92 0 0 0 1133.5,415.2A16.92,16.92 0 0 0 1163.1,415.2A16.92,16.92 0 0 0 1192.7,415.2A16.92,16.92 0 0 0 1222.3,415.2A16.92,16.92 0 0 0 1251.8,415.2A16.92,16.92 0 0 0 1281.4,415.2A16.92,16.92 0 0 0 1311.0,415.2A16.92,16.92 0 0 0 1340.6,415.2A16.92,16.92 0 0 0 1370.1,415.2A16.92,16.92 0 0 0 1399.7,415.2A16.92,16.92 0 0 0 1429.3,415.2A16.92,16.92 0 0 0 1458.9,415.2A16.92,16.92 0 0 0 1488.5,415.2A16.92,16.92 0 0 0 1518.0,415.2A16.92,16.92 0 0 0 1547.6,415.2A16.92,16.92 0 0 0 1577.2,415.2A16.92,16.92 0 0 0 1606.8,415.2A16.92,16.92 0 0 0 1636.3,415.2A16.92,16.92 0 0 0 1665.9,415.2A16.92,16.92 0 0 0 1695.5,415.2A16.92,16.92 0 0 0 1725.1,415.2L1725.1,470Z" fill="#00b0dd"/>
<rect x="141.4" y="405" width="4.6" height="31" fill="#5a2a14"/>
<rect x="169.6" y="398" width="5.8" height="38" fill="#d8a336"/>
<rect x="239.4" y="408" width="4.6" height="28" fill="#d8a336"/>
<rect x="139.9" y="397" width="38" height="13.2" fill="url(#under)"/>
<rect x="30" y="343" width="147.8" height="55" fill="url(#wall)"/>
<rect x="30" y="356" width="147.8" height="4.5" fill="#000" opacity="0.08"/>
<rect x="30" y="369.5" width="147.8" height="4.5" fill="#000" opacity="0.08"/>
<rect x="30" y="383" width="147.8" height="4.5" fill="#000" opacity="0.08"/>
<rect x="143" y="350.5" width="14" height="20.8" fill="#5a2d24"/>
<rect x="177.8" y="372" width="67.2" height="38.2" fill="url(#wall2)"/>
<rect x="177.8" y="385" width="67.2" height="4" fill="#000" opacity="0.08"/>
<rect x="177.8" y="397" width="67.2" height="4" fill="#000" opacity="0.08"/>
<rect x="221.6" y="379" width="10" height="13" fill="#5a2d24"/>
<path d="M31,298.3L181.8,298.3L193.4,343.3L191.1,345.5L188.8,343.3L186.4,345.5L184.1,343.3L181.8,345.5L179.5,343.3L177.2,345.5L174.9,343.3L172.5,345.5L170.2,343.3L167.9,345.5L165.6,343.3L163.3,345.5L161.0,343.3L158.6,345.5L156.3,343.3L154.0,345.5L151.7,343.3L149.4,345.5L147.1,343.3L144.7,345.5L142.4,343.3L140.1,345.5L137.8,343.3L135.5,345.5L133.1,343.3L130.8,345.5L128.5,343.3L126.2,345.5L123.9,343.3L121.6,345.5L119.2,343.3L116.9,345.5L114.6,343.3L112.3,345.5L110.0,343.3L107.7,345.5L105.3,343.3L103.0,345.5L100.7,343.3L98.4,345.5L96.1,343.3L93.7,345.5L91.4,343.3L89.1,345.5L86.8,343.3L84.5,345.5L82.2,343.3L79.8,345.5L77.5,343.3L75.2,345.5L72.9,343.3L70.6,345.5L68.3,343.3L65.9,345.5L63.6,343.3L61.3,345.5L59.0,343.3L56.7,345.5L54.4,343.3L52.0,345.5L49.7,343.3L47.4,345.5L45.1,343.3L42.8,345.5L40.4,343.3L38.1,345.5L35.8,343.3L33.5,345.5L31.2,343.3L28.9,345.5L26.5,343.3L24.2,345.5L21.9,343.3L19.6,345.5L17.3,343.3L15.0,345.5L12.6,343.3L10.3,345.5L8.0,343.3Z" fill="url(#roof)"/>
<g stroke="#d0ae55" stroke-width="0.8"><line x1="34.7" y1="308.3" x2="23.9" y2="331.3"/><line x1="41.8" y1="312.3" x2="30.3" y2="339.3"/><line x1="53.8" y1="304.3" x2="43.5" y2="331.3"/><line x1="61.1" y1="308.3" x2="50.6" y2="339.3"/><line x1="68.7" y1="312.3" x2="63.1" y2="331.3"/><line x1="79.7" y1="304.3" x2="70.8" y2="339.3"/><line x1="87.5" y1="308.3" x2="82.6" y2="331.3"/><line x1="95.7" y1="312.3" x2="91.1" y2="339.3"/><line x1="105.6" y1="304.3" x2="102.2" y2="331.3"/><line x1="113.9" y1="308.3" x2="111.3" y2="339.3"/><line x1="122.6" y1="312.3" x2="121.8" y2="331.3"/><line x1="131.5" y1="304.3" x2="131.6" y2="339.3"/><line x1="140.4" y1="308.3" x2="141.4" y2="331.3"/><line x1="149.5" y1="312.3" x2="151.9" y2="339.3"/><line x1="157.4" y1="304.3" x2="160.9" y2="331.3"/><line x1="166.8" y1="308.3" x2="172.1" y2="339.3"/><line x1="176.4" y1="312.3" x2="180.5" y2="331.3"/></g>
<path d="M177.8,343.7L248.7,343.7L255.5,374L253.3,376.2L251.2,374L249.0,376.2L246.9,374L244.7,376.2L242.6,374L240.4,376.2L238.2,374L236.1,376.2L233.9,374L231.8,376.2L229.6,374L227.4,376.2L225.3,374L223.1,376.2L221.0,374L218.8,376.2L216.7,374L214.5,376.2L212.3,374L210.2,376.2L208.0,374L205.9,376.2L203.7,374L201.5,376.2L199.4,374L197.2,376.2L195.1,374L192.9,376.2L190.8,374L188.6,376.2L186.4,374L184.3,376.2L182.1,374L180.0,376.2L177.8,374Z" fill="url(#roof)"/>
<g stroke="#d0ae55" stroke-width="0.8"><line x1="186.9" y1="353.7" x2="187.2" y2="362.0"/><line x1="196.3" y1="357.7" x2="197.0" y2="370.0"/><line x1="204.9" y1="349.7" x2="205.9" y2="362.0"/><line x1="214.4" y1="353.7" x2="216.2" y2="370.0"/><line x1="224.1" y1="357.7" x2="224.7" y2="362.0"/><line x1="232.0" y1="349.7" x2="235.4" y2="370.0"/><line x1="241.8" y1="353.7" x2="243.4" y2="362.0"/></g>
<path d="M-64.3,470L-64.3,428.2A16.92,16.92 0 0 0 -34.8,428.2A16.92,16.92 0 0 0 -5.2,428.2A16.92,16.92 0 0 0 24.4,428.2A16.92,16.92 0 0 0 54.0,428.2A16.92,16.92 0 0 0 83.5,428.2A16.92,16.92 0 0 0 113.1,428.2A16.92,16.92 0 0 0 142.7,428.2A16.92,16.92 0 0 0 172.3,428.2A16.92,16.92 0 0 0 201.9,428.2A16.92,16.92 0 0 0 231.4,428.2A16.92,16.92 0 0 0 261.0,428.2A16.92,16.92 0 0 0 290.6,428.2A16.92,16.92 0 0 0 320.2,428.2A16.92,16.92 0 0 0 349.7,428.2A16.92,16.92 0 0 0 379.3,428.2A16.92,16.92 0 0 0 408.9,428.2A16.92,16.92 0 0 0 438.5,428.2A16.92,16.92 0 0 0 468.0,428.2A16.92,16.92 0 0 0 497.6,428.2A16.92,16.92 0 0 0 527.2,428.2A16.92,16.92 0 0 0 556.8,428.2A16.92,16.92 0 0 0 586.4,428.2A16.92,16.92 0 0 0 615.9,428.2A16.92,16.92 0 0 0 645.5,428.2A16.92,16.92 0 0 0 675.1,428.2A16.92,16.92 0 0 0 704.7,428.2A16.92,16.92 0 0 0 734.2,428.2A16.92,16.92 0 0 0 763.8,428.2A16.92,16.92 0 0 0 793.4,428.2A16.92,16.92 0 0 0 823.0,428.2A16.92,16.92 0 0 0 852.5,428.2A16.92,16.92 0 0 0 882.1,428.2A16.92,16.92 0 0 0 911.7,428.2A16.92,16.92 0 0 0 941.3,428.2A16.92,16.92 0 0 0 970.9,428.2A16.92,16.92 0 0 0 1000.4,428.2A16.92,16.92 0 0 0 1030.0,428.2A16.92,16.92 0 0 0 1059.6,428.2A16.92,16.92 0 0 0 1089.2,428.2A16.92,16.92 0 0 0 1118.7,428.2A16.92,16.92 0 0 0 1148.3,428.2A16.92,16.92 0 0 0 1177.9,428.2A16.92,16.92 0 0 0 1207.5,428.2A16.92,16.92 0 0 0 1237.0,428.2A16.92,16.92 0 0 0 1266.6,428.2A16.92,16.92 0 0 0 1296.2,428.2A16.92,16.92 0 0 0 1325.8,428.2A16.92,16.92 0 0 0 1355.4,428.2A16.92,16.92 0 0 0 1384.9,428.2A16.92,16.92 0 0 0 1414.5,428.2A16.92,16.92 0 0 0 1444.1,428.2A16.92,16.92 0 0 0 1473.7,428.2A16.92,16.92 0 0 0 1503.2,428.2A16.92,16.92 0 0 0 1532.8,428.2A16.92,16.92 0 0 0 1562.4,428.2A16.92,16.92 0 0 0 1592.0,428.2A16.92,16.92 0 0 0 1621.5,428.2A16.92,16.92 0 0 0 1651.1,428.2A16.92,16.92 0 0 0 1680.7,428.2A16.92,16.92 0 0 0 1710.3,428.2A16.92,16.92 0 0 0 1739.9,428.2L1739.9,470Z" fill="#73c8e9"/>
<path d="M-49.6,470L-49.6,441.0A16.92,16.92 0 0 0 -20.0,441.0A16.92,16.92 0 0 0 9.6,441.0A16.92,16.92 0 0 0 39.2,441.0A16.92,16.92 0 0 0 68.8,441.0A16.92,16.92 0 0 0 98.3,441.0A16.92,16.92 0 0 0 127.9,441.0A16.92,16.92 0 0 0 157.5,441.0A16.92,16.92 0 0 0 187.1,441.0A16.92,16.92 0 0 0 216.6,441.0A16.92,16.92 0 0 0 246.2,441.0A16.92,16.92 0 0 0 275.8,441.0A16.92,16.92 0 0 0 305.4,441.0A16.92,16.92 0 0 0 334.9,441.0A16.92,16.92 0 0 0 364.5,441.0A16.92,16.92 0 0 0 394.1,441.0A16.92,16.92 0 0 0 423.7,441.0A16.92,16.92 0 0 0 453.3,441.0A16.92,16.92 0 0 0 482.8,441.0A16.92,16.92 0 0 0 512.4,441.0A16.92,16.92 0 0 0 542.0,441.0A16.92,16.92 0 0 0 571.6,441.0A16.92,16.92 0 0 0 601.1,441.0A16.92,16.92 0 0 0 630.7,441.0A16.92,16.92 0 0 0 660.3,441.0A16.92,16.92 0 0 0 689.9,441.0A16.92,16.92 0 0 0 719.4,441.0A16.92,16.92 0 0 0 749.0,441.0A16.92,16.92 0 0 0 778.6,441.0A16.92,16.92 0 0 0 808.2,441.0A16.92,16.92 0 0 0 837.8,441.0A16.92,16.92 0 0 0 867.3,441.0A16.92,16.92 0 0 0 896.9,441.0A16.92,16.92 0 0 0 926.5,441.0A16.92,16.92 0 0 0 956.1,441.0A16.92,16.92 0 0 0 985.6,441.0A16.92,16.92 0 0 0 1015.2,441.0A16.92,16.92 0 0 0 1044.8,441.0A16.92,16.92 0 0 0 1074.4,441.0A16.92,16.92 0 0 0 1103.9,441.0A16.92,16.92 0 0 0 1133.5,441.0A16.92,16.92 0 0 0 1163.1,441.0A16.92,16.92 0 0 0 1192.7,441.0A16.92,16.92 0 0 0 1222.3,441.0A16.92,16.92 0 0 0 1251.8,441.0A16.92,16.92 0 0 0 1281.4,441.0A16.92,16.92 0 0 0 1311.0,441.0A16.92,16.92 0 0 0 1340.6,441.0A16.92,16.92 0 0 0 1370.1,441.0A16.92,16.92 0 0 0 1399.7,441.0A16.92,16.92 0 0 0 1429.3,441.0A16.92,16.92 0 0 0 1458.9,441.0A16.92,16.92 0 0 0 1488.5,441.0A16.92,16.92 0 0 0 1518.0,441.0A16.92,16.92 0 0 0 1547.6,441.0A16.92,16.92 0 0 0 1577.2,441.0A16.92,16.92 0 0 0 1606.8,441.0A16.92,16.92 0 0 0 1636.3,441.0A16.92,16.92 0 0 0 1665.9,441.0A16.92,16.92 0 0 0 1695.5,441.0A16.92,16.92 0 0 0 1725.1,441.0L1725.1,470Z" fill="#00a7cc" clip-path="url(#cl)"/>
<path d="M-49.6,470L-49.6,441.0A16.92,16.92 0 0 0 -20.0,441.0A16.92,16.92 0 0 0 9.6,441.0A16.92,16.92 0 0 0 39.2,441.0A16.92,16.92 0 0 0 68.8,441.0A16.92,16.92 0 0 0 98.3,441.0A16.92,16.92 0 0 0 127.9,441.0A16.92,16.92 0 0 0 157.5,441.0A16.92,16.92 0 0 0 187.1,441.0A16.92,16.92 0 0 0 216.6,441.0A16.92,16.92 0 0 0 246.2,441.0A16.92,16.92 0 0 0 275.8,441.0A16.92,16.92 0 0 0 305.4,441.0A16.92,16.92 0 0 0 334.9,441.0A16.92,16.92 0 0 0 364.5,441.0A16.92,16.92 0 0 0 394.1,441.0A16.92,16.92 0 0 0 423.7,441.0A16.92,16.92 0 0 0 453.3,441.0A16.92,16.92 0 0 0 482.8,441.0A16.92,16.92 0 0 0 512.4,441.0A16.92,16.92 0 0 0 542.0,441.0A16.92,16.92 0 0 0 571.6,441.0A16.92,16.92 0 0 0 601.1,441.0A16.92,16.92 0 0 0 630.7,441.0A16.92,16.92 0 0 0 660.3,441.0A16.92,16.92 0 0 0 689.9,441.0A16.92,16.92 0 0 0 719.4,441.0A16.92,16.92 0 0 0 749.0,441.0A16.92,16.92 0 0 0 778.6,441.0A16.92,16.92 0 0 0 808.2,441.0A16.92,16.92 0 0 0 837.8,441.0A16.92,16.92 0 0 0 867.3,441.0A16.92,16.92 0 0 0 896.9,441.0A16.92,16.92 0 0 0 926.5,441.0A16.92,16.92 0 0 0 956.1,441.0A16.92,16.92 0 0 0 985.6,441.0A16.92,16.92 0 0 0 1015.2,441.0A16.92,16.92 0 0 0 1044.8,441.0A16.92,16.92 0 0 0 1074.4,441.0A16.92,16.92 0 0 0 1103.9,441.0A16.92,16.92 0 0 0 1133.5,441.0A16.92,16.92 0 0 0 1163.1,441.0A16.92,16.92 0 0 0 1192.7,441.0A16.92,16.92 0 0 0 1222.3,441.0A16.92,16.92 0 0 0 1251.8,441.0A16.92,16.92 0 0 0 1281.4,441.0A16.92,16.92 0 0 0 1311.0,441.0A16.92,16.92 0 0 0 1340.6,441.0A16.92,16.92 0 0 0 1370.1,441.0A16.92,16.92 0 0 0 1399.7,441.0A16.92,16.92 0 0 0 1429.3,441.0A16.92,16.92 0 0 0 1458.9,441.0A16.92,16.92 0 0 0 1488.5,441.0A16.92,16.92 0 0 0 1518.0,441.0A16.92,16.92 0 0 0 1547.6,441.0A16.92,16.92 0 0 0 1577.2,441.0A16.92,16.92 0 0 0 1606.8,441.0A16.92,16.92 0 0 0 1636.3,441.0A16.92,16.92 0 0 0 1665.9,441.0A16.92,16.92 0 0 0 1695.5,441.0A16.92,16.92 0 0 0 1725.1,441.0L1725.1,470Z" fill="#bce5f9" clip-path="url(#cr)"/>
<path d="M-7.2,440.0L-6.9,452.8L-6.6,469.0L-6.3,488.1L-6.0,509.7L-5.7,533.0L-5.4,557.5L-5.1,582.8L-4.7,608.2L-4.3,633.2L-4.0,657.2L-3.5,679.7L-3.1,700.1L-2.6,718.9L-2.1,736.8L-1.5,754.1L-1.0,770.9L-0.4,787.3L0.2,803.3L0.8,819.2L1.5,835.0L2.1,850.9L2.7,867.0L3.4,883.3L4.0,900.2L4.7,918.0L5.4,937.0L6.1,956.9L6.8,977.2L7.6,997.6L8.3,1017.6L9.0,1037.0L9.7,1055.3L10.4,1072.1L11.0,1087.1L11.6,1099.9L12.1,1110.1L19.9,1109.9L19.9,1099.7L19.9,1086.9L19.7,1071.9L19.6,1055.1L19.4,1036.8L19.2,1017.4L19.0,997.3L18.7,976.9L18.5,956.6L18.3,936.7L18.1,917.7L18.0,899.8L17.9,883.0L17.7,866.6L17.6,850.5L17.5,834.6L17.4,818.8L17.3,802.9L17.2,786.9L17.1,770.6L17.1,753.8L17.0,736.5L17.0,718.6L17.1,699.9L17.1,679.5L17.2,657.1L17.4,633.1L17.5,608.1L17.7,582.7L17.9,557.5L18.1,532.9L18.3,509.6L18.5,488.1L18.7,469.0L19.0,452.7L19.2,440.0Z" fill="#0a82a6"/><path d="M15.8,440.1L16.1,452.5L16.4,467.9L16.7,485.9L17.1,506.0L17.5,527.9L17.9,551.3L18.3,575.7L18.8,600.8L19.3,626.2L19.9,651.4L20.5,676.2L21.2,700.1L22.0,724.3L22.8,750.0L23.7,776.8L24.7,804.2L25.8,831.9L26.8,859.5L27.9,886.6L28.9,912.7L29.9,937.6L30.9,960.7L31.8,981.7L32.6,1000.1L33.4,1016.3L34.2,1030.7L34.9,1043.6L35.6,1055.0L36.3,1065.0L37.0,1073.9L37.6,1081.8L38.2,1088.7L38.7,1094.8L39.2,1100.4L39.7,1105.4L40.1,1110.1L43.9,1109.9L43.8,1105.2L43.6,1100.1L43.3,1094.5L43.0,1088.4L42.7,1081.4L42.3,1073.6L41.9,1064.7L41.4,1054.7L40.9,1043.3L40.4,1030.5L39.9,1016.0L39.4,999.9L38.8,981.4L38.1,960.4L37.4,937.3L36.6,912.5L35.8,886.3L34.9,859.2L34.1,831.6L33.3,803.9L32.6,776.5L31.9,749.8L31.3,724.1L30.8,699.9L30.3,676.0L30.0,651.2L29.6,626.0L29.3,600.7L29.1,575.6L28.9,551.2L28.7,527.8L28.5,505.9L28.4,485.7L28.3,467.8L28.3,452.4L28.2,439.9Z" fill="#0a82a6"/><path d="M39.1,447.2L39.3,450.6L39.5,454.8L39.8,459.7L40.1,465.3L40.3,471.3L40.6,477.7L40.9,484.4L41.2,491.2L41.4,498.1L41.6,504.9L41.8,511.5L42.0,517.7L42.2,524.1L42.3,530.9L42.4,538.0L42.4,545.4L42.5,552.7L42.5,560.0L42.6,567.0L42.6,573.6L42.7,579.7L42.8,585.1L42.8,589.7L42.9,593.4L44.5,593.4L44.7,589.7L45.0,585.1L45.2,579.7L45.5,573.6L45.8,567.0L46.0,560.0L46.3,552.8L46.6,545.4L46.8,538.1L47.1,530.9L47.3,524.1L47.5,517.7L47.6,511.4L47.7,504.8L47.8,498.0L47.9,491.1L47.9,484.3L48.0,477.6L48.0,471.2L48.1,465.1L48.1,459.6L48.2,454.6L48.3,450.4L48.4,447.0Z" fill="#0a7b9d"/><path d="M27.3,447.2L27.5,453.1L27.8,460.6L28.0,469.4L28.3,479.3L28.7,490.1L29.0,501.4L29.4,513.1L29.7,524.9L30.1,536.6L30.5,547.9L30.9,558.5L31.3,568.3L31.8,577.4L32.2,586.0L32.7,594.3L33.1,602.4L33.6,610.3L34.1,618.2L34.6,626.1L35.1,634.1L35.6,642.4L36.1,650.9L36.6,659.8L37.1,669.2L37.5,679.2L38.0,689.7L38.4,700.6L38.8,711.8L39.2,723.3L39.6,734.8L40.1,746.4L40.5,757.9L41.0,769.1L41.6,780.0L42.1,790.5L42.8,800.4L43.5,809.6L44.3,817.8L45.1,825.3L46.0,832.4L46.9,839.3L47.8,846.1L48.7,853.2L49.6,860.7L50.6,869.0L51.4,878.1L52.3,888.4L53.0,900.1L53.8,913.9L54.5,929.9L55.3,947.7L56.0,966.7L56.8,986.4L57.5,1006.3L58.1,1025.8L58.8,1044.5L59.3,1061.8L59.9,1077.1L60.3,1090.1L60.7,1100.0L63.3,1100.0L63.0,1090.0L62.7,1077.0L62.3,1061.7L61.8,1044.4L61.3,1025.7L60.7,1006.2L60.1,986.3L59.5,966.6L58.9,947.6L58.3,929.8L57.6,913.7L57.0,899.9L56.3,888.1L55.6,877.8L54.8,868.6L54.0,860.3L53.2,852.7L52.4,845.5L51.6,838.7L50.8,831.8L50.0,824.8L49.3,817.3L48.6,809.2L48.0,800.1L47.5,790.2L47.1,779.7L46.6,768.9L46.3,757.6L45.9,746.2L45.6,734.7L45.3,723.1L45.0,711.6L44.7,700.4L44.3,689.5L44.0,678.9L43.7,668.9L43.3,659.5L42.9,650.6L42.5,642.0L42.1,633.8L41.8,625.7L41.4,617.8L41.0,609.9L40.6,602.0L40.3,593.9L39.9,585.6L39.6,577.0L39.3,568.0L39.0,558.3L38.7,547.6L38.4,536.4L38.1,524.7L37.9,512.9L37.6,501.2L37.4,489.9L37.2,479.1L37.0,469.2L36.8,460.4L36.7,452.9L36.6,447.0Z" fill="#0a82a6"/><path d="M5.7,470.0L7.8,470.3L10.5,470.7L13.5,471.1L16.9,471.6L20.6,472.1L24.5,472.6L28.5,473.3L32.7,474.0L36.8,474.7L41.0,475.6L45.0,476.5L48.9,477.6L52.8,478.7L56.9,480.0L61.1,481.4L65.4,482.8L69.7,484.3L74.0,485.9L78.3,487.6L82.6,489.3L86.8,491.1L90.9,493.0L94.8,494.8L98.6,496.7L102.4,498.7L106.0,500.7L109.6,502.8L113.2,504.9L116.6,507.1L120.0,509.4L123.3,511.7L126.5,514.0L129.7,516.5L132.7,518.9L135.6,521.5L138.4,524.0L141.1,526.6L143.6,529.4L146.0,532.2L148.4,535.1L150.7,538.1L152.9,541.2L155.0,544.3L157.2,547.4L159.2,550.6L161.3,553.7L163.3,556.8L165.3,559.9L167.2,562.9L169.1,565.9L170.9,568.9L172.6,571.9L174.3,575.0L176.0,578.0L177.6,581.0L179.3,584.1L180.9,587.2L182.6,590.2L184.3,593.3L186.0,596.4L187.8,599.5L189.6,602.6L191.5,605.7L193.3,608.9L195.2,612.0L197.0,615.2L198.8,618.3L200.6,621.3L202.3,624.3L203.9,627.3L205.4,630.1L206.7,632.9L208.0,635.7L209.2,638.5L210.3,641.4L211.4,644.4L212.3,647.2L213.3,650.0L214.1,652.7L214.9,655.2L215.6,657.5L216.3,659.5L216.9,661.3L217.4,662.8L219.9,662.0L219.5,660.5L219.0,658.7L218.5,656.7L217.9,654.3L217.2,651.8L216.4,649.1L215.6,646.2L214.7,643.2L213.7,640.2L212.7,637.2L211.6,634.2L210.4,631.3L209.1,628.3L207.7,625.4L206.1,622.3L204.5,619.2L202.9,616.0L201.1,612.9L199.4,609.7L197.6,606.4L195.8,603.2L194.1,600.1L192.4,596.9L190.7,593.8L189.1,590.7L187.6,587.6L186.0,584.5L184.5,581.4L183.0,578.3L181.4,575.2L179.8,572.0L178.2,568.9L176.5,565.8L174.8,562.6L173.0,559.4L171.1,556.3L169.1,553.1L167.2,550.0L165.3,546.7L163.3,543.5L161.2,540.2L159.1,536.9L156.9,533.7L154.6,530.5L152.2,527.3L149.6,524.2L147.0,521.1L144.1,518.2L141.2,515.3L138.2,512.6L135.1,509.8L131.8,507.2L128.5,504.6L125.1,502.1L121.6,499.6L118.1,497.2L114.4,494.9L110.7,492.6L107.0,490.4L103.2,488.3L99.2,486.1L95.1,484.1L90.9,482.1L86.6,480.1L82.2,478.2L77.8,476.4L73.3,474.6L68.9,472.9L64.6,471.3L60.3,469.8L56.1,468.4L52.0,467.0L47.9,465.8L43.6,464.7L39.2,463.6L34.8,462.7L30.6,461.9L26.4,461.1L22.4,460.4L18.7,459.8L15.3,459.2L12.3,458.7L9.8,458.2L7.8,457.8Z" fill="#0a82a6"/><path d="M16.6,451.2L18.1,452.4L20.0,454.0L22.3,455.9L24.7,458.0L27.5,460.2L30.3,462.7L33.2,465.2L36.2,467.7L39.2,470.3L42.0,472.8L44.7,475.2L47.3,477.4L49.8,479.7L52.4,481.8L54.9,483.9L57.4,485.9L59.9,487.9L62.3,489.8L64.5,491.8L66.7,493.9L68.8,496.0L70.6,498.1L72.4,500.4L73.9,502.8L75.3,505.4L76.6,508.2L77.7,511.1L78.7,514.1L79.6,517.3L80.5,520.6L81.2,524.0L82.0,527.5L82.7,531.0L83.4,534.6L84.2,538.3L85.0,541.9L85.8,545.5L86.6,549.1L87.4,552.7L88.1,556.3L88.9,559.9L89.6,563.6L90.3,567.4L90.9,571.3L91.6,575.4L92.2,579.6L92.8,584.0L93.4,588.6L94.0,593.5L94.6,598.7L95.1,604.1L95.7,609.7L96.2,615.4L96.7,621.2L97.2,627.1L97.6,633.0L98.0,638.8L98.5,644.6L98.8,650.2L99.2,655.7L99.5,661.3L99.8,667.1L100.1,673.1L100.3,679.1L100.5,685.1L100.7,691.0L100.9,696.6L101.1,701.9L101.2,706.8L101.3,711.2L101.5,714.9L101.6,717.9L103.6,717.8L103.6,714.8L103.5,711.1L103.5,706.8L103.5,701.9L103.5,696.6L103.4,690.9L103.3,685.0L103.2,679.0L103.1,673.0L103.0,667.0L102.8,661.1L102.6,655.5L102.4,650.0L102.1,644.4L101.8,638.6L101.5,632.7L101.2,626.8L100.8,620.9L100.5,615.1L100.1,609.3L99.7,603.7L99.2,598.2L98.8,593.0L98.3,588.1L97.8,583.4L97.3,578.9L96.8,574.6L96.3,570.5L95.7,566.5L95.1,562.7L94.5,558.9L93.9,555.2L93.3,551.5L92.6,547.9L92.0,544.3L91.3,540.6L90.6,537.0L90.0,533.4L89.4,529.8L88.7,526.2L88.1,522.6L87.4,519.1L86.7,515.5L85.8,512.1L84.8,508.7L83.7,505.4L82.3,502.1L80.8,499.0L79.0,496.0L77.1,493.2L74.9,490.5L72.7,488.0L70.4,485.7L68.0,483.4L65.6,481.2L63.1,479.1L60.7,477.0L58.3,474.9L55.9,472.7L53.6,470.6L51.2,468.2L48.5,465.6L45.7,463.0L42.8,460.3L39.9,457.7L37.0,455.1L34.2,452.5L31.6,450.2L29.1,448.0L27.0,446.0L25.2,444.4L23.8,443.0Z" fill="#0a82a6"/><path d="M84.9,537.9L84.2,538.7L83.4,539.6L82.3,540.7L81.0,541.9L79.5,543.3L78.0,544.8L76.4,546.5L74.8,548.2L73.3,550.1L71.8,552.1L70.4,554.3L69.3,556.5L68.3,558.8L67.4,561.2L66.6,563.7L65.8,566.3L65.1,568.9L64.5,571.7L63.9,574.4L63.4,577.2L62.9,580.0L62.5,582.7L62.1,585.4L61.7,588.0L61.4,590.7L61.2,593.6L61.1,596.5L61.0,599.5L61.0,602.4L61.0,605.3L61.0,608.1L61.0,610.8L61.1,613.2L61.2,615.3L61.2,617.1L61.3,618.6L63.2,618.7L63.4,617.2L63.5,615.4L63.7,613.2L63.8,610.8L64.0,608.2L64.1,605.4L64.3,602.6L64.6,599.7L64.9,596.8L65.2,594.0L65.6,591.2L66.1,588.7L66.6,586.2L67.2,583.6L67.8,581.0L68.5,578.3L69.2,575.7L70.0,573.1L70.8,570.6L71.6,568.1L72.5,565.7L73.4,563.5L74.4,561.5L75.3,559.7L76.4,558.0L77.6,556.5L79.0,555.0L80.4,553.5L81.9,552.1L83.5,550.8L85.0,549.5L86.5,548.4L87.9,547.3L89.2,546.3L90.4,545.4L91.4,544.6Z" fill="#0a82a6"/><path d="M92.8,590.7L93.6,591.6L94.7,592.8L95.9,594.2L97.3,595.7L98.8,597.4L100.3,599.1L101.9,601.0L103.4,602.8L105.0,604.7L106.4,606.5L107.7,608.2L108.9,609.8L110.1,611.4L111.2,613.2L112.3,615.0L113.4,616.9L114.4,618.8L115.5,620.6L116.4,622.4L117.3,624.1L118.2,625.7L118.9,627.0L119.6,628.2L120.2,629.1L122.0,628.3L121.6,627.3L121.2,626.0L120.6,624.5L120.0,622.9L119.3,621.1L118.5,619.2L117.7,617.2L116.8,615.1L115.9,613.1L115.0,611.1L114.0,609.1L113.1,607.3L112.0,605.4L110.8,603.4L109.5,601.4L108.1,599.3L106.7,597.3L105.3,595.3L103.9,593.3L102.6,591.5L101.5,589.8L100.4,588.3L99.6,587.0L98.9,586.0Z" fill="#0a82a6"/><path d="M88.0,448.3L88.6,450.1L89.4,452.4L90.3,455.0L91.2,457.9L92.3,461.0L93.3,464.4L94.4,467.9L95.5,471.4L96.6,474.9L97.6,478.4L98.5,481.7L99.3,484.8L100.0,487.8L100.7,490.8L101.4,493.7L102.0,496.6L102.7,499.5L103.2,502.5L103.8,505.4L104.3,508.5L104.8,511.5L105.3,514.7L105.8,517.9L106.2,521.3L106.7,524.9L107.1,528.8L107.5,533.0L107.9,537.4L108.2,541.8L108.6,546.2L108.9,550.4L109.2,554.5L109.5,558.2L109.7,561.5L110.0,564.3L110.2,566.5L111.8,566.5L111.8,564.2L111.7,561.4L111.7,558.1L111.6,554.4L111.5,550.3L111.4,546.0L111.3,541.6L111.2,537.2L111.0,532.8L110.8,528.6L110.6,524.6L110.4,520.9L110.1,517.5L109.9,514.2L109.6,511.0L109.3,507.8L108.9,504.7L108.6,501.7L108.2,498.6L107.8,495.6L107.4,492.6L106.9,489.6L106.4,486.5L105.9,483.4L105.2,480.1L104.5,476.6L103.7,473.0L102.8,469.4L101.9,465.7L101.0,462.2L100.2,458.7L99.3,455.5L98.6,452.5L97.9,449.9L97.4,447.6L97.0,445.8Z" fill="#0a7b9d"/><path d="M141.4,448.0L141.9,450.5L142.6,453.7L143.5,457.3L144.4,461.4L145.3,465.8L146.3,470.6L147.3,475.5L148.3,480.7L149.3,485.9L150.2,491.1L151.1,496.3L151.8,501.3L152.5,506.3L153.1,511.5L153.6,516.7L154.2,522.0L154.7,527.3L155.2,532.8L155.6,538.4L156.1,544.2L156.5,550.0L156.9,555.9L157.2,562.0L157.6,568.3L157.9,574.9L158.2,582.2L158.4,590.0L158.7,598.1L158.9,606.3L159.1,614.4L159.2,622.4L159.4,629.9L159.5,636.8L159.7,642.9L159.8,648.2L160.0,652.3L161.6,652.3L161.6,648.1L161.7,642.9L161.8,636.8L161.9,629.8L162.0,622.3L162.0,614.4L162.1,606.3L162.1,598.1L162.1,590.0L162.1,582.2L162.1,574.8L162.0,568.1L161.9,561.9L161.7,555.7L161.6,549.7L161.4,543.9L161.2,538.1L161.0,532.5L160.7,526.9L160.5,521.5L160.2,516.1L159.8,510.8L159.4,505.6L159.0,500.5L158.5,495.3L157.9,490.0L157.2,484.6L156.4,479.3L155.6,474.1L154.8,469.0L154.1,464.2L153.3,459.7L152.7,455.6L152.1,451.9L151.6,448.8L151.3,446.2Z" fill="#0a7b9d"/><path d="M148.8,449.1L149.9,451.0L151.2,453.4L152.7,456.1L154.4,459.2L156.2,462.5L158.1,466.1L160.0,469.8L161.9,473.6L163.7,477.4L165.4,481.2L167.0,484.9L168.4,488.5L169.6,492.1L170.8,495.8L171.9,499.6L173.0,503.5L174.0,507.5L174.9,511.4L175.8,515.4L176.7,519.4L177.5,523.4L178.2,527.3L178.9,531.1L179.6,534.8L180.2,538.6L180.7,542.5L181.1,546.5L181.4,550.6L181.8,554.6L182.0,558.6L182.2,562.3L182.5,565.9L182.6,569.2L182.8,572.1L183.0,574.6L183.2,576.6L184.8,576.6L184.8,574.5L184.8,572.0L184.8,569.1L184.9,565.8L184.9,562.3L184.9,558.5L184.8,554.5L184.7,550.4L184.6,546.3L184.3,542.2L184.1,538.1L183.7,534.3L183.2,530.5L182.8,526.6L182.2,522.6L181.6,518.5L181.0,514.4L180.3,510.3L179.5,506.2L178.7,502.2L177.8,498.1L176.8,494.1L175.8,490.2L174.7,486.4L173.5,482.5L172.0,478.5L170.5,474.5L168.8,470.4L167.0,466.4L165.3,462.6L163.5,458.9L161.9,455.4L160.4,452.2L159.1,449.4L158.0,447.0L157.2,445.1Z" fill="#0a7b9d"/><path d="M170.6,588.4L170.8,592.3L170.8,597.3L170.9,603.2L171.0,609.8L171.1,617.0L171.2,624.5L171.3,632.3L171.4,640.2L171.6,648.0L171.9,655.5L172.1,662.7L172.5,669.2L172.9,675.4L173.4,681.6L174.0,687.7L174.6,693.8L175.2,699.8L175.9,705.6L176.6,711.3L177.3,716.8L177.9,722.1L178.6,727.2L179.2,732.0L179.7,736.5L180.2,740.9L180.7,745.1L181.2,749.1L181.7,753.0L182.2,756.6L182.7,760.1L183.1,763.3L183.5,766.2L183.9,768.9L184.3,771.3L184.6,773.4L184.9,775.1L186.4,775.0L186.4,773.2L186.2,771.1L186.1,768.6L185.9,765.9L185.6,763.0L185.4,759.8L185.1,756.3L184.8,752.6L184.5,748.8L184.2,744.7L183.9,740.5L183.6,736.2L183.2,731.6L182.8,726.7L182.4,721.6L181.9,716.3L181.4,710.8L180.9,705.1L180.4,699.3L180.0,693.3L179.6,687.3L179.2,681.2L178.9,675.1L178.7,668.9L178.5,662.5L178.4,655.4L178.4,647.9L178.4,640.2L178.5,632.3L178.5,624.5L178.6,617.0L178.8,609.8L178.9,603.2L179.0,597.3L179.1,592.3L179.2,588.3Z" fill="#0a82a6"/><path d="M204.2,629.6L202.9,631.9L201.3,634.8L199.4,638.2L197.2,642.0L194.8,646.1L192.3,650.5L189.7,655.1L187.1,659.7L184.6,664.3L182.1,668.8L179.8,673.1L177.8,677.1L175.9,680.9L174.0,684.6L172.1,688.3L170.2,692.0L168.4,695.6L166.6,699.3L164.9,702.9L163.3,706.6L161.8,710.4L160.4,714.1L159.1,718.0L157.9,721.9L156.9,725.9L156.1,730.0L155.3,734.2L154.7,738.5L154.2,742.7L153.8,747.0L153.5,751.1L153.2,755.2L153.0,759.1L152.8,762.9L152.6,766.4L152.4,769.8L152.2,772.9L152.1,775.9L152.1,778.7L152.1,781.3L152.2,783.8L152.3,786.3L152.4,788.6L152.5,790.9L152.6,793.2L152.8,795.5L152.9,797.9L153.1,800.3L153.2,802.7L153.3,805.0L153.5,807.1L153.7,809.2L153.8,811.3L154.0,813.4L154.2,815.6L154.4,818.0L154.6,820.6L154.9,823.4L155.1,826.6L155.4,830.1L155.6,834.2L155.9,839.0L156.2,844.4L156.6,850.1L156.9,856.0L157.3,861.9L157.6,867.8L158.0,873.4L158.3,878.6L158.6,883.2L158.8,887.1L159.0,890.0L161.0,890.0L160.9,887.0L160.7,883.1L160.6,878.5L160.4,873.3L160.1,867.7L159.9,861.8L159.7,855.8L159.4,849.9L159.2,844.2L159.0,838.9L158.8,834.1L158.6,829.9L158.5,826.4L158.4,823.2L158.3,820.3L158.2,817.7L158.1,815.4L158.0,813.2L157.9,811.0L157.9,809.0L157.8,806.9L157.8,804.8L157.7,802.6L157.7,800.2L157.7,797.7L157.7,795.4L157.6,793.0L157.6,790.7L157.6,788.5L157.6,786.2L157.6,783.8L157.7,781.4L157.8,778.8L157.9,776.1L158.1,773.3L158.4,770.2L158.7,766.9L159.0,763.3L159.3,759.6L159.7,755.7L160.1,751.7L160.5,747.6L161.0,743.5L161.6,739.5L162.3,735.4L163.1,731.5L164.0,727.6L165.0,723.9L166.2,720.3L167.5,716.8L168.9,713.3L170.5,709.8L172.1,706.3L173.9,702.8L175.7,699.3L177.6,695.8L179.5,692.2L181.5,688.6L183.5,684.9L185.5,681.2L187.6,677.3L190.0,673.1L192.5,668.8L195.1,664.3L197.8,659.7L200.4,655.3L203.0,650.9L205.5,646.9L207.7,643.1L209.8,639.7L211.5,636.9L212.9,634.6Z" fill="#0a82a6"/><path d="M1.7,497.7L2.3,497.3L3.1,496.8L4.1,496.2L5.2,495.6L6.3,495.0L7.6,494.3L8.9,493.6L10.2,492.8L11.4,492.1L12.7,491.4L13.8,490.7L14.9,490.0L15.9,489.3L16.9,488.6L17.9,487.9L18.9,487.1L19.8,486.4L20.7,485.7L21.6,485.0L22.4,484.3L23.1,483.7L23.7,483.2L24.2,482.7L24.6,482.3L22.4,479.1L21.9,479.4L21.3,479.7L20.5,480.1L19.7,480.6L18.9,481.1L18.0,481.7L17.0,482.2L16.0,482.8L15.0,483.4L14.0,483.9L13.0,484.4L12.0,484.9L11.0,485.4L9.8,485.9L8.6,486.5L7.3,487.1L5.9,487.6L4.6,488.2L3.3,488.7L2.1,489.2L0.9,489.7L-0.1,490.1L-1.0,490.4L-1.7,490.7Z" fill="#0a82a6"/><path d="M-0.1,514.3L0.5,513.6L1.3,512.8L2.2,511.7L3.2,510.6L4.4,509.4L5.6,508.1L6.8,506.7L8.1,505.3L9.4,503.9L10.6,502.6L11.7,501.2L12.8,500.0L13.8,498.7L14.8,497.4L15.8,496.0L16.8,494.6L17.8,493.2L18.8,491.9L19.7,490.6L20.5,489.4L21.3,488.2L21.9,487.2L22.5,486.4L22.9,485.7L18.8,482.5L18.2,483.1L17.5,483.9L16.7,484.8L15.8,485.8L14.9,486.9L13.9,488.1L12.8,489.3L11.7,490.5L10.6,491.7L9.5,492.9L8.4,494.1L7.4,495.1L6.3,496.2L5.1,497.3L3.8,498.5L2.5,499.7L1.1,500.9L-0.2,502.2L-1.5,503.3L-2.8,504.4L-3.9,505.4L-5.0,506.3L-5.9,507.1L-6.6,507.7Z" fill="#0a82a6"/><path d="M40.9,780.2L41.2,783.5L41.4,787.8L41.8,792.7L42.1,798.3L42.5,804.3L42.9,810.8L43.3,817.4L43.7,824.2L44.2,831.0L44.7,837.7L45.2,844.1L45.7,850.2L46.3,856.0L46.9,861.7L47.5,867.4L48.2,873.0L48.9,878.6L49.6,884.3L50.3,890.0L51.0,895.7L51.7,901.6L52.3,907.6L52.9,913.8L53.5,920.1L54.1,926.9L54.7,934.4L55.2,942.3L55.8,950.4L56.4,958.7L56.9,966.9L57.4,974.9L57.9,982.5L58.3,989.4L58.7,995.6L59.0,1000.9L59.4,1005.0L60.6,1005.0L60.5,1000.8L60.3,995.5L60.0,989.3L59.7,982.4L59.4,974.8L59.0,966.8L58.6,958.6L58.2,950.3L57.8,942.1L57.3,934.2L56.9,926.7L56.5,919.9L56.0,913.5L55.5,907.3L55.0,901.3L54.4,895.4L53.9,889.6L53.3,883.9L52.7,878.2L52.2,872.6L51.7,866.9L51.2,861.3L50.7,855.6L50.3,849.8L49.9,843.8L49.5,837.4L49.2,830.7L48.8,823.9L48.5,817.1L48.3,810.5L48.0,804.1L47.8,798.0L47.5,792.4L47.4,787.5L47.2,783.2L47.1,779.8Z" fill="#0c6f8c"/><path d="M32.9,780.1L33.2,785.9L33.4,793.3L33.8,801.9L34.1,811.6L34.5,822.1L34.9,833.2L35.4,844.7L35.8,856.4L36.3,868.0L36.8,879.3L37.2,890.1L37.7,900.1L38.2,909.7L38.8,919.4L39.3,929.1L39.9,938.8L40.5,948.4L41.1,957.9L41.7,967.3L42.3,976.4L42.9,985.3L43.5,993.9L44.0,1002.2L44.5,1010.1L45.0,1017.8L45.5,1025.5L46.0,1033.0L46.4,1040.4L46.9,1047.6L47.3,1054.4L47.7,1060.9L48.1,1066.9L48.5,1072.4L48.8,1077.3L49.1,1081.5L49.4,1085.0L50.6,1085.0L50.5,1081.4L50.4,1077.2L50.2,1072.3L50.0,1066.8L49.7,1060.8L49.4,1054.3L49.1,1047.5L48.8,1040.3L48.5,1032.9L48.2,1025.3L47.8,1017.6L47.5,1009.9L47.1,1002.0L46.7,993.7L46.3,985.1L45.8,976.2L45.3,967.0L44.9,957.7L44.4,948.2L43.9,938.6L43.5,928.9L43.1,919.2L42.6,909.5L42.3,899.9L41.9,889.9L41.6,879.1L41.3,867.8L40.9,856.2L40.6,844.5L40.3,833.0L40.0,821.9L39.8,811.4L39.6,801.7L39.4,793.1L39.2,785.7L39.1,779.9Z" fill="#0c6f8c"/><path d="M4.1,1040.0L4.2,1043.1L4.2,1047.2L4.3,1052.2L4.3,1057.8L4.4,1063.8L4.4,1070.0L4.5,1076.2L4.5,1082.2L4.6,1087.8L4.6,1092.8L4.7,1096.9L4.8,1100.0L11.2,1100.0L11.3,1096.9L11.4,1092.8L11.4,1087.8L11.5,1082.2L11.5,1076.2L11.6,1070.0L11.6,1063.8L11.7,1057.8L11.7,1052.2L11.8,1047.2L11.8,1043.1L11.9,1040.0Z" fill="#0c6f8c"/>
<path d="M284.7,652.8L323.4,650.9L358.2,656.8L398.3,660.0L400.9,642.1L419.7,647.5L443.7,660.8L470.4,655.5L502.5,647.5L506.5,618.9L526.5,624.7L553.3,640.8L569.3,646.1L617.4,654.1L657.5,667.5L686.9,675.5L698.9,683.5L686.9,692.9L657.5,696.9L617.4,699.6L582.7,702.2L577.3,715.6L565.3,719.6L562.6,704.9L510.5,699.6L489.1,698.2L467.8,704.9L457.1,713.5L454.4,702.2L454.4,692.9L430.3,691.5L419.7,696.9L409.0,696.4L395.6,686.2L376.9,688.9L358.2,696.9L338.9,702.8L350.2,692.9L358.2,680.9L336.8,670.2L307.4,664.8L296.7,666.7L290.0,658.1Z" fill="#0895bb" stroke="#0895bb" stroke-width="2" stroke-linejoin="round"/>
<use href="#sf" x="226" y="496" fill="#0c93b8"/>
<use href="#sf" x="710" y="531" fill="#0c93b8"/>
<use href="#sf" x="795" y="592" fill="#0c93b8"/>
<use href="#sf" x="695" y="623" fill="#0c93b8"/>
<use href="#sf" x="108" y="754.5" fill="#0c93b8"/>
<use href="#sf" x="705" y="768" fill="#0c93b8"/>
<g fill="#0c93b8" transform="translate(165,866)"><ellipse cx="0" cy="0" rx="30" ry="21" transform="rotate(18)"/><ellipse cx="-36" cy="-20" rx="8" ry="5.5" transform="rotate(25 -36 -20)"/><path d="M-20,8 Q-38,10 -34,32 Q-28,36 -26,24 Q-22,16 -12,16Z"/><path d="M14,-14 Q30,-22 42,-12 Q36,-6 22,-6Z"/><path d="M18,16 Q30,22 32,34 Q24,36 18,28 Q12,22 10,18Z"/><path d="M-18,-18 Q-24,-30 -14,-30 Q-8,-24 -8,-20Z"/></g>
<g transform="translate(64,651) scale(1.0)"><path d="M-8,-22 Q-16,-8 -18,8 Q-17,15 -11,14 Q-6,13 -6,6 L-2,-20Z" fill="#a8d8d2"/><path d="M0,-24 Q-3,0 -4,18 Q-2,25 4,24 Q9,22 8,15 L6,-22Z" fill="#8fcdc8"/><path d="M8,-20 Q12,-4 16,6 Q20,10 23,6 Q25,1 20,-6 L14,-22Z" fill="#a8d8d2"/><path d="M-2,-26 Q4,-30 10,-25 L8,-18 L0,-18Z" fill="#a8d8d2"/></g>
<g transform="translate(125,652) scale(0.8)"><path d="M-8,-22 Q-16,-8 -18,8 Q-17,15 -11,14 Q-6,13 -6,6 L-2,-20Z" fill="#a8d8d2"/><path d="M0,-24 Q-3,0 -4,18 Q-2,25 4,24 Q9,22 8,15 L6,-22Z" fill="#8fcdc8"/><path d="M8,-20 Q12,-4 16,6 Q20,10 23,6 Q25,1 20,-6 L14,-22Z" fill="#a8d8d2"/><path d="M-2,-26 Q4,-30 10,-25 L8,-18 L0,-18Z" fill="#a8d8d2"/></g>
<g transform="translate(66,688) scale(1.0)" fill="#4db7ea"><path d="M-4,-14 Q-9,-6 -6,2 Q-2,8 -6,14 Q-2,20 4,16 Q8,10 4,4 Q10,-2 6,-10 Q2,-16 -4,-14Z"/><path d="M4,14 Q10,18 8,26 Q14,30 16,24 Q16,16 10,12Z"/><circle cx="-1" cy="-4" r="1.6" fill="#00a5cd"/><circle cx="2" cy="8" r="1.4" fill="#00a5cd"/><circle cx="10" cy="20" r="1.3" fill="#00a5cd"/></g>
<g transform="translate(132,683) scale(0.9)" fill="#4db7ea"><path d="M-4,-14 Q-9,-6 -6,2 Q-2,8 -6,14 Q-2,20 4,16 Q8,10 4,4 Q10,-2 6,-10 Q2,-16 -4,-14Z"/><path d="M4,14 Q10,18 8,26 Q14,30 16,24 Q16,16 10,12Z"/><circle cx="-1" cy="-4" r="1.6" fill="#00a5cd"/><circle cx="2" cy="8" r="1.4" fill="#00a5cd"/><circle cx="10" cy="20" r="1.3" fill="#00a5cd"/></g>
<g stroke="#d4ecf4" fill="none" stroke-linecap="round"><path d="M68.5,612.0 Q67.7,629.0 58.7,641.6" stroke-width="1.5"/><path d="M64.8,617.1 L67.8,619.3 L70.8,617.1" stroke-width="0.7"/><path d="M64.1,620.6 L67.1,622.8 L70.1,620.6" stroke-width="0.7"/><path d="M63.2,624.0 L66.2,626.2 L69.2,624.0" stroke-width="0.7"/><path d="M62.1,627.3 L65.1,629.5 L68.1,627.3" stroke-width="0.7"/><path d="M60.8,630.5 L63.8,632.7 L66.8,630.5" stroke-width="0.7"/><path d="M59.3,633.6 L62.3,635.8 L65.3,633.6" stroke-width="0.7"/><path d="M57.6,636.5 L60.6,638.7 L63.6,636.5" stroke-width="0.7"/><path d="M69.5,612.0 Q69.5,630.3 67.4,645.2" stroke-width="1.5"/><path d="M66.4,617.0 L69.4,619.2 L72.4,617.0" stroke-width="0.7"/><path d="M66.3,620.5 L69.3,622.7 L72.3,620.5" stroke-width="0.7"/><path d="M66.1,623.9 L69.1,626.1 L72.1,623.9" stroke-width="0.7"/><path d="M66.0,627.3 L69.0,629.5 L72.0,627.3" stroke-width="0.7"/><path d="M65.7,630.6 L68.7,632.8 L71.7,630.6" stroke-width="0.7"/><path d="M65.4,633.8 L68.4,636.0 L71.4,633.8" stroke-width="0.7"/><path d="M65.1,636.9 L68.1,639.1 L71.1,636.9" stroke-width="0.7"/><path d="M64.8,640.0 L67.8,642.2 L70.8,640.0" stroke-width="0.7"/><path d="M70.5,612.0 Q71.1,630.2 75.7,644.8" stroke-width="1.5"/><path d="M67.9,616.9 L70.9,619.1 L73.9,616.9" stroke-width="0.7"/><path d="M68.2,620.4 L71.2,622.6 L74.2,620.4" stroke-width="0.7"/><path d="M68.6,623.8 L71.6,626.0 L74.6,623.8" stroke-width="0.7"/><path d="M69.1,627.1 L72.1,629.3 L75.1,627.1" stroke-width="0.7"/><path d="M69.7,630.3 L72.7,632.5 L75.7,630.3" stroke-width="0.7"/><path d="M70.3,633.5 L73.3,635.7 L76.3,633.5" stroke-width="0.7"/><path d="M71.0,636.6 L74.0,638.8 L77.0,636.6" stroke-width="0.7"/><path d="M71.8,639.6 L74.8,641.8 L77.8,639.6" stroke-width="0.7"/><path d="M71.5,612.0 Q71.7,627.2 78.5,638.8" stroke-width="1.5"/><path d="M69.0,617.2 L72.0,619.4 L75.0,617.2" stroke-width="0.7"/><path d="M69.6,620.7 L72.6,622.9 L75.6,620.7" stroke-width="0.7"/><path d="M70.3,624.1 L73.3,626.3 L76.3,624.1" stroke-width="0.7"/><path d="M71.3,627.4 L74.3,629.6 L77.3,627.4" stroke-width="0.7"/><path d="M72.5,630.6 L75.5,632.8 L78.5,630.6" stroke-width="0.7"/><path d="M73.9,633.6 L76.9,635.8 L79.9,633.6" stroke-width="0.7"/></g>
<g stroke="#d4ecf4" fill="none" stroke-linecap="round"><path d="M95.5,622.0 Q91.3,654.3 68.4,676.1" stroke-width="1.5"/><path d="M91.3,626.8 L94.3,629.0 L97.3,626.8" stroke-width="0.7"/><path d="M90.6,630.3 L93.6,632.5 L96.6,630.3" stroke-width="0.7"/><path d="M89.7,633.6 L92.7,635.8 L95.7,633.6" stroke-width="0.7"/><path d="M88.7,636.9 L91.7,639.1 L94.7,636.9" stroke-width="0.7"/><path d="M87.6,640.2 L90.6,642.4 L93.6,640.2" stroke-width="0.7"/><path d="M86.4,643.3 L89.4,645.5 L92.4,643.3" stroke-width="0.7"/><path d="M85.1,646.4 L88.1,648.6 L91.1,646.4" stroke-width="0.7"/><path d="M83.6,649.5 L86.6,651.7 L89.6,649.5" stroke-width="0.7"/><path d="M82.1,652.4 L85.1,654.6 L88.1,652.4" stroke-width="0.7"/><path d="M80.4,655.3 L83.4,657.5 L86.4,655.3" stroke-width="0.7"/><path d="M78.6,658.2 L81.6,660.4 L84.6,658.2" stroke-width="0.7"/><path d="M76.7,660.9 L79.7,663.1 L82.7,660.9" stroke-width="0.7"/><path d="M74.7,663.7 L77.7,665.9 L80.7,663.7" stroke-width="0.7"/><path d="M72.5,666.3 L75.5,668.5 L78.5,666.3" stroke-width="0.7"/><path d="M70.3,668.9 L73.3,671.1 L76.3,668.9" stroke-width="0.7"/><path d="M67.9,671.4 L70.9,673.6 L73.9,671.4" stroke-width="0.7"/><path d="M96.1,622.0 Q95.0,647.2 87.2,667.2" stroke-width="1.5"/><path d="M92.7,626.9 L95.7,629.1 L98.7,626.9" stroke-width="0.7"/><path d="M92.3,630.4 L95.3,632.6 L98.3,630.4" stroke-width="0.7"/><path d="M91.9,633.8 L94.9,636.0 L97.9,633.8" stroke-width="0.7"/><path d="M91.5,637.1 L94.5,639.3 L97.5,637.1" stroke-width="0.7"/><path d="M90.9,640.4 L93.9,642.6 L96.9,640.4" stroke-width="0.7"/><path d="M90.3,643.7 L93.3,645.9 L96.3,643.7" stroke-width="0.7"/><path d="M89.7,646.9 L92.7,649.1 L95.7,646.9" stroke-width="0.7"/><path d="M88.9,650.0 L91.9,652.2 L94.9,650.0" stroke-width="0.7"/><path d="M88.1,653.1 L91.1,655.3 L94.1,653.1" stroke-width="0.7"/><path d="M87.2,656.2 L90.2,658.4 L93.2,656.2" stroke-width="0.7"/><path d="M86.3,659.1 L89.3,661.3 L92.3,659.1" stroke-width="0.7"/><path d="M85.2,662.1 L88.2,664.3 L91.2,662.1" stroke-width="0.7"/><path d="M96.7,622.0 Q96.1,649.5 92.6,671.9" stroke-width="1.5"/><path d="M93.5,627.1 L96.5,629.3 L99.5,627.1" stroke-width="0.7"/><path d="M93.3,630.6 L96.3,632.8 L99.3,630.6" stroke-width="0.7"/><path d="M93.2,634.1 L96.2,636.3 L99.2,634.1" stroke-width="0.7"/><path d="M93.0,637.6 L96.0,639.8 L99.0,637.6" stroke-width="0.7"/><path d="M92.8,641.0 L95.8,643.2 L98.8,641.0" stroke-width="0.7"/><path d="M92.5,644.4 L95.5,646.6 L98.5,644.4" stroke-width="0.7"/><path d="M92.2,647.7 L95.2,649.9 L98.2,647.7" stroke-width="0.7"/><path d="M91.9,651.0 L94.9,653.2 L97.9,651.0" stroke-width="0.7"/><path d="M91.6,654.2 L94.6,656.4 L97.6,654.2" stroke-width="0.7"/><path d="M91.3,657.4 L94.3,659.6 L97.3,657.4" stroke-width="0.7"/><path d="M90.9,660.6 L93.9,662.8 L96.9,660.6" stroke-width="0.7"/><path d="M90.5,663.7 L93.5,665.9 L96.5,663.7" stroke-width="0.7"/><path d="M90.1,666.7 L93.1,668.9 L96.1,666.7" stroke-width="0.7"/><path d="M97.3,622.0 Q98.3,653.6 103.5,679.2" stroke-width="1.5"/><path d="M94.6,627.1 L97.6,629.3 L100.6,627.1" stroke-width="0.7"/><path d="M94.8,630.8 L97.8,633.0 L100.8,630.8" stroke-width="0.7"/><path d="M95.0,634.3 L98.0,636.5 L101.0,634.3" stroke-width="0.7"/><path d="M95.3,637.9 L98.3,640.1 L101.3,637.9" stroke-width="0.7"/><path d="M95.5,641.3 L98.5,643.5 L101.5,641.3" stroke-width="0.7"/><path d="M95.8,644.8 L98.8,647.0 L101.8,644.8" stroke-width="0.7"/><path d="M96.2,648.2 L99.2,650.4 L102.2,648.2" stroke-width="0.7"/><path d="M96.5,651.6 L99.5,653.8 L102.5,651.6" stroke-width="0.7"/><path d="M96.9,654.9 L99.9,657.1 L102.9,654.9" stroke-width="0.7"/><path d="M97.4,658.2 L100.4,660.4 L103.4,658.2" stroke-width="0.7"/><path d="M97.8,661.4 L100.8,663.6 L103.8,661.4" stroke-width="0.7"/><path d="M98.3,664.6 L101.3,666.8 L104.3,664.6" stroke-width="0.7"/><path d="M98.8,667.8 L101.8,670.0 L104.8,667.8" stroke-width="0.7"/><path d="M99.4,670.9 L102.4,673.1 L105.4,670.9" stroke-width="0.7"/><path d="M99.9,673.9 L102.9,676.1 L105.9,673.9" stroke-width="0.7"/><path d="M97.9,622.0 Q98.6,644.5 104.8,662.4" stroke-width="1.5"/><path d="M95.3,627.2 L98.3,629.4 L101.3,627.2" stroke-width="0.7"/><path d="M95.6,630.8 L98.6,633.0 L101.6,630.8" stroke-width="0.7"/><path d="M96.0,634.3 L99.0,636.5 L102.0,634.3" stroke-width="0.7"/><path d="M96.4,637.8 L99.4,640.0 L102.4,637.8" stroke-width="0.7"/><path d="M96.9,641.2 L99.9,643.4 L102.9,641.2" stroke-width="0.7"/><path d="M97.6,644.5 L100.6,646.7 L103.6,644.5" stroke-width="0.7"/><path d="M98.2,647.8 L101.2,650.0 L104.2,647.8" stroke-width="0.7"/><path d="M99.0,651.0 L102.0,653.2 L105.0,651.0" stroke-width="0.7"/><path d="M99.9,654.1 L102.9,656.3 L105.9,654.1" stroke-width="0.7"/><path d="M100.8,657.2 L103.8,659.4 L106.8,657.2" stroke-width="0.7"/><path d="M98.5,622.0 Q101.8,649.3 121.0,667.8" stroke-width="1.5"/><path d="M96.7,626.9 L99.7,629.1 L102.7,626.9" stroke-width="0.7"/><path d="M97.5,630.4 L100.5,632.6 L103.5,630.4" stroke-width="0.7"/><path d="M98.4,633.7 L101.4,635.9 L104.4,633.7" stroke-width="0.7"/><path d="M99.5,637.0 L102.5,639.2 L105.5,637.0" stroke-width="0.7"/><path d="M100.7,640.3 L103.7,642.5 L106.7,640.3" stroke-width="0.7"/><path d="M102.0,643.4 L105.0,645.6 L108.0,643.4" stroke-width="0.7"/><path d="M103.5,646.4 L106.5,648.6 L109.5,646.4" stroke-width="0.7"/><path d="M105.2,649.4 L108.2,651.6 L111.2,649.4" stroke-width="0.7"/><path d="M106.9,652.3 L109.9,654.5 L112.9,652.3" stroke-width="0.7"/><path d="M108.9,655.1 L111.9,657.3 L114.9,655.1" stroke-width="0.7"/><path d="M110.9,657.9 L113.9,660.1 L116.9,657.9" stroke-width="0.7"/><path d="M113.1,660.6 L116.1,662.8 L119.1,660.6" stroke-width="0.7"/><path d="M115.5,663.1 L118.5,665.3 L121.5,663.1" stroke-width="0.7"/></g>
<g stroke="#d4ecf4" fill="none" stroke-linecap="round"><path d="M120.5,624.0 Q119.8,641.5 111.2,654.7" stroke-width="1.5"/><path d="M116.8,629.4 L119.8,631.6 L122.8,629.4" stroke-width="0.7"/><path d="M116.2,633.0 L119.2,635.2 L122.2,633.0" stroke-width="0.7"/><path d="M115.4,636.5 L118.4,638.7 L121.4,636.5" stroke-width="0.7"/><path d="M114.3,639.9 L117.3,642.1 L120.3,639.9" stroke-width="0.7"/><path d="M113.1,643.2 L116.1,645.4 L119.1,643.2" stroke-width="0.7"/><path d="M111.7,646.4 L114.7,648.6 L117.7,646.4" stroke-width="0.7"/><path d="M110.1,649.5 L113.1,651.7 L116.1,649.5" stroke-width="0.7"/><path d="M121.5,624.0 Q121.3,637.9 118.6,649.1" stroke-width="1.5"/><path d="M118.2,629.5 L121.2,631.7 L124.2,629.5" stroke-width="0.7"/><path d="M117.9,633.2 L120.9,635.4 L123.9,633.2" stroke-width="0.7"/><path d="M117.5,636.8 L120.5,639.0 L123.5,636.8" stroke-width="0.7"/><path d="M117.0,640.3 L120.0,642.5 L123.0,640.3" stroke-width="0.7"/><path d="M116.4,643.6 L119.4,645.8 L122.4,643.6" stroke-width="0.7"/><path d="M122.5,624.0 Q122.3,640.5 123.3,654.0" stroke-width="1.5"/><path d="M119.5,629.0 L122.5,631.2 L125.5,629.0" stroke-width="0.7"/><path d="M119.5,632.5 L122.5,634.7 L125.5,632.5" stroke-width="0.7"/><path d="M119.5,635.9 L122.5,638.1 L125.5,635.9" stroke-width="0.7"/><path d="M119.6,639.2 L122.6,641.4 L125.6,639.2" stroke-width="0.7"/><path d="M119.8,642.4 L122.8,644.6 L125.8,642.4" stroke-width="0.7"/><path d="M119.9,645.6 L122.9,647.8 L125.9,645.6" stroke-width="0.7"/><path d="M120.1,648.7 L123.1,650.9 L126.1,648.7" stroke-width="0.7"/><path d="M123.5,624.0 Q124.4,641.1 133.9,653.7" stroke-width="1.5"/><path d="M121.3,629.2 L124.3,631.4 L127.3,629.2" stroke-width="0.7"/><path d="M122.0,632.7 L125.0,634.9 L128.0,632.7" stroke-width="0.7"/><path d="M123.0,636.1 L126.0,638.3 L129.0,636.1" stroke-width="0.7"/><path d="M124.1,639.4 L127.1,641.6 L130.1,639.4" stroke-width="0.7"/><path d="M125.5,642.6 L128.5,644.8 L131.5,642.6" stroke-width="0.7"/><path d="M127.1,645.7 L130.1,647.9 L133.1,645.7" stroke-width="0.7"/><path d="M128.9,648.6 L131.9,650.8 L134.9,648.6" stroke-width="0.7"/></g>
<g stroke="#d4ecf4" fill="none" stroke-linecap="round"><path d="M210.5,632.0 Q206.7,668.7 185.7,695.4" stroke-width="1.5"/><path d="M206.6,637.0 L209.6,639.2 L212.6,637.0" stroke-width="0.7"/><path d="M206.0,640.6 L209.0,642.8 L212.0,640.6" stroke-width="0.7"/><path d="M205.3,644.1 L208.3,646.3 L211.3,644.1" stroke-width="0.7"/><path d="M204.5,647.5 L207.5,649.7 L210.5,647.5" stroke-width="0.7"/><path d="M203.7,650.9 L206.7,653.1 L209.7,650.9" stroke-width="0.7"/><path d="M202.8,654.3 L205.8,656.5 L208.8,654.3" stroke-width="0.7"/><path d="M201.7,657.6 L204.7,659.8 L207.7,657.6" stroke-width="0.7"/><path d="M200.6,660.8 L203.6,663.0 L206.6,660.8" stroke-width="0.7"/><path d="M199.4,664.0 L202.4,666.2 L205.4,664.0" stroke-width="0.7"/><path d="M198.1,667.1 L201.1,669.3 L204.1,667.1" stroke-width="0.7"/><path d="M196.8,670.2 L199.8,672.4 L202.8,670.2" stroke-width="0.7"/><path d="M195.3,673.3 L198.3,675.5 L201.3,673.3" stroke-width="0.7"/><path d="M193.8,676.3 L196.8,678.5 L199.8,676.3" stroke-width="0.7"/><path d="M192.2,679.2 L195.2,681.4 L198.2,679.2" stroke-width="0.7"/><path d="M190.4,682.1 L193.4,684.3 L196.4,682.1" stroke-width="0.7"/><path d="M188.6,684.9 L191.6,687.1 L194.6,684.9" stroke-width="0.7"/><path d="M186.8,687.7 L189.8,689.9 L192.8,687.7" stroke-width="0.7"/><path d="M184.8,690.5 L187.8,692.7 L190.8,690.5" stroke-width="0.7"/><path d="M211.0,632.0 Q208.4,657.4 193.9,675.9" stroke-width="1.5"/><path d="M207.0,636.9 L210.0,639.1 L213.0,636.9" stroke-width="0.7"/><path d="M206.3,640.4 L209.3,642.6 L212.3,640.4" stroke-width="0.7"/><path d="M205.5,643.8 L208.5,646.0 L211.5,643.8" stroke-width="0.7"/><path d="M204.6,647.1 L207.6,649.3 L210.6,647.1" stroke-width="0.7"/><path d="M203.6,650.3 L206.6,652.5 L209.6,650.3" stroke-width="0.7"/><path d="M202.4,653.5 L205.4,655.7 L208.4,653.5" stroke-width="0.7"/><path d="M201.2,656.6 L204.2,658.8 L207.2,656.6" stroke-width="0.7"/><path d="M199.8,659.6 L202.8,661.8 L205.8,659.6" stroke-width="0.7"/><path d="M198.2,662.6 L201.2,664.8 L204.2,662.6" stroke-width="0.7"/><path d="M196.6,665.5 L199.6,667.7 L202.6,665.5" stroke-width="0.7"/><path d="M194.8,668.3 L197.8,670.5 L200.8,668.3" stroke-width="0.7"/><path d="M192.9,671.0 L195.9,673.2 L198.9,671.0" stroke-width="0.7"/><path d="M211.5,632.0 Q210.7,665.9 205.7,693.5" stroke-width="1.5"/><path d="M208.3,636.9 L211.3,639.1 L214.3,636.9" stroke-width="0.7"/><path d="M208.2,640.4 L211.2,642.6 L214.2,640.4" stroke-width="0.7"/><path d="M208.0,643.8 L211.0,646.0 L214.0,643.8" stroke-width="0.7"/><path d="M207.8,647.2 L210.8,649.4 L213.8,647.2" stroke-width="0.7"/><path d="M207.6,650.6 L210.6,652.8 L213.6,650.6" stroke-width="0.7"/><path d="M207.4,653.9 L210.4,656.1 L213.4,653.9" stroke-width="0.7"/><path d="M207.1,657.3 L210.1,659.5 L213.1,657.3" stroke-width="0.7"/><path d="M206.8,660.5 L209.8,662.7 L212.8,660.5" stroke-width="0.7"/><path d="M206.5,663.8 L209.5,666.0 L212.5,663.8" stroke-width="0.7"/><path d="M206.2,667.0 L209.2,669.2 L212.2,667.0" stroke-width="0.7"/><path d="M205.9,670.1 L208.9,672.3 L211.9,670.1" stroke-width="0.7"/><path d="M205.5,673.3 L208.5,675.5 L211.5,673.3" stroke-width="0.7"/><path d="M205.1,676.4 L208.1,678.6 L211.1,676.4" stroke-width="0.7"/><path d="M204.7,679.4 L207.7,681.6 L210.7,679.4" stroke-width="0.7"/><path d="M204.2,682.4 L207.2,684.6 L210.2,682.4" stroke-width="0.7"/><path d="M203.8,685.4 L206.8,687.6 L209.8,685.4" stroke-width="0.7"/><path d="M203.3,688.4 L206.3,690.6 L209.3,688.4" stroke-width="0.7"/><path d="M212.0,632.0 Q212.3,660.3 213.5,683.5" stroke-width="1.5"/><path d="M209.1,636.8 L212.1,639.0 L215.1,636.8" stroke-width="0.7"/><path d="M209.1,640.2 L212.1,642.4 L215.1,640.2" stroke-width="0.7"/><path d="M209.2,643.6 L212.2,645.8 L215.2,643.6" stroke-width="0.7"/><path d="M209.3,647.0 L212.3,649.2 L215.3,647.0" stroke-width="0.7"/><path d="M209.4,650.3 L212.4,652.5 L215.4,650.3" stroke-width="0.7"/><path d="M209.4,653.6 L212.4,655.8 L215.4,653.6" stroke-width="0.7"/><path d="M209.5,656.9 L212.5,659.1 L215.5,656.9" stroke-width="0.7"/><path d="M209.6,660.1 L212.6,662.3 L215.6,660.1" stroke-width="0.7"/><path d="M209.7,663.2 L212.7,665.4 L215.7,663.2" stroke-width="0.7"/><path d="M209.9,666.3 L212.9,668.5 L215.9,666.3" stroke-width="0.7"/><path d="M210.0,669.4 L213.0,671.6 L216.0,669.4" stroke-width="0.7"/><path d="M210.1,672.4 L213.1,674.6 L216.1,672.4" stroke-width="0.7"/><path d="M210.2,675.4 L213.2,677.6 L216.2,675.4" stroke-width="0.7"/><path d="M210.4,678.4 L213.4,680.6 L216.4,678.4" stroke-width="0.7"/><path d="M212.5,632.0 Q214.1,664.3 222.4,690.0" stroke-width="1.5"/><path d="M209.9,636.9 L212.9,639.1 L215.9,636.9" stroke-width="0.7"/><path d="M210.2,640.4 L213.2,642.6 L216.2,640.4" stroke-width="0.7"/><path d="M210.5,643.8 L213.5,646.0 L216.5,643.8" stroke-width="0.7"/><path d="M210.9,647.2 L213.9,649.4 L216.9,647.2" stroke-width="0.7"/><path d="M211.3,650.6 L214.3,652.8 L217.3,650.6" stroke-width="0.7"/><path d="M211.8,653.9 L214.8,656.1 L217.8,653.9" stroke-width="0.7"/><path d="M212.2,657.2 L215.2,659.4 L218.2,657.2" stroke-width="0.7"/><path d="M212.8,660.4 L215.8,662.6 L218.8,660.4" stroke-width="0.7"/><path d="M213.3,663.6 L216.3,665.8 L219.3,663.6" stroke-width="0.7"/><path d="M214.0,666.8 L217.0,669.0 L220.0,666.8" stroke-width="0.7"/><path d="M214.6,669.9 L217.6,672.1 L220.6,669.9" stroke-width="0.7"/><path d="M215.3,673.0 L218.3,675.2 L221.3,673.0" stroke-width="0.7"/><path d="M216.1,676.1 L219.1,678.3 L222.1,676.1" stroke-width="0.7"/><path d="M216.8,679.1 L219.8,681.3 L222.8,679.1" stroke-width="0.7"/><path d="M217.7,682.0 L220.7,684.2 L223.7,682.0" stroke-width="0.7"/><path d="M218.5,685.0 L221.5,687.2 L224.5,685.0" stroke-width="0.7"/><path d="M213.0,632.0 Q215.2,658.4 227.8,678.3" stroke-width="1.5"/><path d="M210.8,637.2 L213.8,639.4 L216.8,637.2" stroke-width="0.7"/><path d="M211.4,640.8 L214.4,643.0 L217.4,640.8" stroke-width="0.7"/><path d="M212.1,644.3 L215.1,646.5 L218.1,644.3" stroke-width="0.7"/><path d="M212.9,647.8 L215.9,650.0 L218.9,647.8" stroke-width="0.7"/><path d="M213.8,651.2 L216.8,653.4 L219.8,651.2" stroke-width="0.7"/><path d="M214.8,654.6 L217.8,656.8 L220.8,654.6" stroke-width="0.7"/><path d="M215.9,657.8 L218.9,660.0 L221.9,657.8" stroke-width="0.7"/><path d="M217.1,661.0 L220.1,663.2 L223.1,661.0" stroke-width="0.7"/><path d="M218.5,664.2 L221.5,666.4 L224.5,664.2" stroke-width="0.7"/><path d="M219.9,667.2 L222.9,669.4 L225.9,667.2" stroke-width="0.7"/><path d="M221.4,670.3 L224.4,672.5 L227.4,670.3" stroke-width="0.7"/><path d="M223.1,673.2 L226.1,675.4 L229.1,673.2" stroke-width="0.7"/><path d="M213.5,632.0 Q216.9,661.5 236.5,681.9" stroke-width="1.5"/><path d="M211.6,637.0 L214.6,639.2 L217.6,637.0" stroke-width="0.7"/><path d="M212.3,640.5 L215.3,642.7 L218.3,640.5" stroke-width="0.7"/><path d="M213.2,644.0 L216.2,646.2 L219.2,644.0" stroke-width="0.7"/><path d="M214.2,647.3 L217.2,649.5 L220.2,647.3" stroke-width="0.7"/><path d="M215.3,650.6 L218.3,652.8 L221.3,650.6" stroke-width="0.7"/><path d="M216.6,653.8 L219.6,656.0 L222.6,653.8" stroke-width="0.7"/><path d="M217.9,657.0 L220.9,659.2 L223.9,657.0" stroke-width="0.7"/><path d="M219.4,660.1 L222.4,662.3 L225.4,660.1" stroke-width="0.7"/><path d="M221.1,663.1 L224.1,665.3 L227.1,663.1" stroke-width="0.7"/><path d="M222.8,666.0 L225.8,668.2 L228.8,666.0" stroke-width="0.7"/><path d="M224.7,668.9 L227.7,671.1 L230.7,668.9" stroke-width="0.7"/><path d="M226.7,671.7 L229.7,673.9 L232.7,671.7" stroke-width="0.7"/><path d="M228.8,674.4 L231.8,676.6 L234.8,674.4" stroke-width="0.7"/><path d="M231.1,677.1 L234.1,679.3 L237.1,677.1" stroke-width="0.7"/></g>
<g stroke="#d4ecf4" fill="none" stroke-linecap="round"><path d="M58.5,668.0 Q56.1,689.3 40.3,703.3" stroke-width="1.5"/><path d="M54.3,672.7 L57.3,674.9 L60.3,672.7" stroke-width="0.7"/><path d="M53.4,676.0 L56.4,678.2 L59.4,676.0" stroke-width="0.7"/><path d="M52.4,679.2 L55.4,681.4 L58.4,679.2" stroke-width="0.7"/><path d="M51.1,682.3 L54.1,684.5 L57.1,682.3" stroke-width="0.7"/><path d="M49.7,685.3 L52.7,687.5 L55.7,685.3" stroke-width="0.7"/><path d="M48.1,688.1 L51.1,690.3 L54.1,688.1" stroke-width="0.7"/><path d="M46.3,690.9 L49.3,693.1 L52.3,690.9" stroke-width="0.7"/><path d="M44.3,693.6 L47.3,695.8 L50.3,693.6" stroke-width="0.7"/><path d="M42.2,696.2 L45.2,698.4 L48.2,696.2" stroke-width="0.7"/><path d="M39.8,698.7 L42.8,700.9 L45.8,698.7" stroke-width="0.7"/><path d="M59.2,668.0 Q57.9,689.8 49.7,706.8" stroke-width="1.5"/><path d="M55.6,672.9 L58.6,675.1 L61.6,672.9" stroke-width="0.7"/><path d="M55.2,676.4 L58.2,678.6 L61.2,676.4" stroke-width="0.7"/><path d="M54.6,679.8 L57.6,682.0 L60.6,679.8" stroke-width="0.7"/><path d="M53.9,683.1 L56.9,685.3 L59.9,683.1" stroke-width="0.7"/><path d="M53.2,686.4 L56.2,688.6 L59.2,686.4" stroke-width="0.7"/><path d="M52.3,689.6 L55.3,691.8 L58.3,689.6" stroke-width="0.7"/><path d="M51.4,692.7 L54.4,694.9 L57.4,692.7" stroke-width="0.7"/><path d="M50.4,695.8 L53.4,698.0 L56.4,695.8" stroke-width="0.7"/><path d="M49.2,698.8 L52.2,701.0 L55.2,698.8" stroke-width="0.7"/><path d="M48.0,701.7 L51.0,703.9 L54.0,701.7" stroke-width="0.7"/><path d="M60.0,668.0 Q60.1,685.0 60.7,699.0" stroke-width="1.5"/><path d="M57.1,673.2 L60.1,675.4 L63.1,673.2" stroke-width="0.7"/><path d="M57.1,676.8 L60.1,679.0 L63.1,676.8" stroke-width="0.7"/><path d="M57.2,680.3 L60.2,682.5 L63.2,680.3" stroke-width="0.7"/><path d="M57.3,683.8 L60.3,686.0 L63.3,683.8" stroke-width="0.7"/><path d="M57.4,687.1 L60.4,689.3 L63.4,687.1" stroke-width="0.7"/><path d="M57.5,690.4 L60.5,692.6 L63.5,690.4" stroke-width="0.7"/><path d="M57.6,693.6 L60.6,695.8 L63.6,693.6" stroke-width="0.7"/><path d="M60.8,668.0 Q61.3,691.9 66.7,711.1" stroke-width="1.5"/><path d="M58.0,673.0 L61.0,675.2 L64.0,673.0" stroke-width="0.7"/><path d="M58.3,676.6 L61.3,678.8 L64.3,676.6" stroke-width="0.7"/><path d="M58.6,680.0 L61.6,682.2 L64.6,680.0" stroke-width="0.7"/><path d="M58.9,683.5 L61.9,685.7 L64.9,683.5" stroke-width="0.7"/><path d="M59.3,686.8 L62.3,689.0 L65.3,686.8" stroke-width="0.7"/><path d="M59.8,690.1 L62.8,692.3 L65.8,690.1" stroke-width="0.7"/><path d="M60.3,693.4 L63.3,695.6 L66.3,693.4" stroke-width="0.7"/><path d="M60.9,696.6 L63.9,698.8 L66.9,696.6" stroke-width="0.7"/><path d="M61.5,699.7 L64.5,701.9 L67.5,699.7" stroke-width="0.7"/><path d="M62.2,702.8 L65.2,705.0 L68.2,702.8" stroke-width="0.7"/><path d="M62.9,705.9 L65.9,708.1 L68.9,705.9" stroke-width="0.7"/><path d="M61.5,668.0 Q62.9,686.5 74.4,699.6" stroke-width="1.5"/><path d="M59.5,673.0 L62.5,675.2 L65.5,673.0" stroke-width="0.7"/><path d="M60.2,676.4 L63.2,678.6 L66.2,676.4" stroke-width="0.7"/><path d="M61.2,679.7 L64.2,681.9 L67.2,679.7" stroke-width="0.7"/><path d="M62.4,683.0 L65.4,685.2 L68.4,683.0" stroke-width="0.7"/><path d="M63.8,686.1 L66.8,688.3 L69.8,686.1" stroke-width="0.7"/><path d="M65.4,689.1 L68.4,691.3 L71.4,689.1" stroke-width="0.7"/><path d="M67.2,692.0 L70.2,694.2 L73.2,692.0" stroke-width="0.7"/><path d="M69.2,694.8 L72.2,697.0 L75.2,694.8" stroke-width="0.7"/></g>
<g stroke="#d4ecf4" fill="none" stroke-linecap="round"><path d="M136.5,662.0 Q135.5,675.6 125.4,684.5" stroke-width="1.5"/><path d="M132.2,667.2 L135.2,669.4 L138.2,667.2" stroke-width="0.7"/><path d="M131.0,670.6 L134.0,672.8 L137.0,670.6" stroke-width="0.7"/><path d="M129.4,673.8 L132.4,676.0 L135.4,673.8" stroke-width="0.7"/><path d="M127.4,676.8 L130.4,679.0 L133.4,676.8" stroke-width="0.7"/><path d="M125.1,679.7 L128.1,681.9 L131.1,679.7" stroke-width="0.7"/><path d="M137.2,662.0 Q136.7,675.9 131.5,686.8" stroke-width="1.5"/><path d="M133.6,667.5 L136.6,669.7 L139.6,667.5" stroke-width="0.7"/><path d="M132.9,671.2 L135.9,673.4 L138.9,671.2" stroke-width="0.7"/><path d="M132.1,674.7 L135.1,676.9 L138.1,674.7" stroke-width="0.7"/><path d="M131.1,678.2 L134.1,680.4 L137.1,678.2" stroke-width="0.7"/><path d="M129.9,681.4 L132.9,683.6 L135.9,681.4" stroke-width="0.7"/><path d="M138.0,662.0 Q137.6,677.7 135.8,690.4" stroke-width="1.5"/><path d="M134.7,667.4 L137.7,669.6 L140.7,667.4" stroke-width="0.7"/><path d="M134.5,671.1 L137.5,673.3 L140.5,671.1" stroke-width="0.7"/><path d="M134.2,674.7 L137.2,676.9 L140.2,674.7" stroke-width="0.7"/><path d="M134.0,678.2 L137.0,680.4 L140.0,678.2" stroke-width="0.7"/><path d="M133.6,681.6 L136.6,683.8 L139.6,681.6" stroke-width="0.7"/><path d="M133.3,685.0 L136.3,687.2 L139.3,685.0" stroke-width="0.7"/><path d="M138.8,662.0 Q140.1,680.4 148.4,694.4" stroke-width="1.5"/><path d="M136.6,667.0 L139.6,669.2 L142.6,667.0" stroke-width="0.7"/><path d="M137.2,670.5 L140.2,672.7 L143.2,670.5" stroke-width="0.7"/><path d="M137.9,673.8 L140.9,676.0 L143.9,673.8" stroke-width="0.7"/><path d="M138.8,677.1 L141.8,679.3 L144.8,677.1" stroke-width="0.7"/><path d="M139.8,680.3 L142.8,682.5 L145.8,680.3" stroke-width="0.7"/><path d="M141.0,683.4 L144.0,685.6 L147.0,683.4" stroke-width="0.7"/><path d="M142.3,686.5 L145.3,688.7 L148.3,686.5" stroke-width="0.7"/><path d="M143.8,689.4 L146.8,691.6 L149.8,689.4" stroke-width="0.7"/><path d="M139.5,662.0 Q140.7,676.4 151.4,685.9" stroke-width="1.5"/><path d="M137.7,666.7 L140.7,668.9 L143.7,666.7" stroke-width="0.7"/><path d="M138.7,669.9 L141.7,672.1 L144.7,669.9" stroke-width="0.7"/><path d="M140.1,673.0 L143.1,675.2 L146.1,673.0" stroke-width="0.7"/><path d="M141.7,675.9 L144.7,678.1 L147.7,675.9" stroke-width="0.7"/><path d="M143.6,678.7 L146.6,680.9 L149.6,678.7" stroke-width="0.7"/><path d="M145.9,681.3 L148.9,683.5 L151.9,681.3" stroke-width="0.7"/></g>
<use href="#sf" x="158" y="617" fill="#f9e04c"/>
<use href="#sf" x="114.5" y="678" fill="#f9e04c"/>
<use href="#sf" x="183" y="728" fill="#f9e04c"/>
<path d="M1430.0,630.0L1449.4,629.1L1466.7,632.0L1486.8,633.6L1488.1,624.7L1497.5,627.3L1509.5,634.0L1522.9,631.3L1538.9,627.3L1540.9,613.0L1550.9,616.0L1564.3,624.0L1572.3,626.7L1596.4,630.7L1616.4,637.3L1631.1,641.4L1637.1,645.4L1631.1,650.0L1616.4,652.0L1596.4,653.4L1579.0,654.7L1576.3,661.4L1570.3,663.4L1569.0,656.1L1542.9,653.4L1532.2,652.7L1521.5,656.1L1516.2,660.3L1514.8,654.7L1514.8,650.0L1502.8,649.4L1497.5,652.0L1492.1,651.8L1485.5,646.7L1476.1,648.0L1466.7,652.0L1457.1,655.0L1462.7,650.0L1466.7,644.0L1456.1,638.7L1441.4,636.0L1436.0,636.9L1432.7,632.7Z" fill="#a5daf6" stroke="#a5daf6" stroke-width="1" stroke-linejoin="round"/>
<use href="#sf" x="1630" y="557.5" fill="#4fb6e8"/>
<use href="#sf" x="1610" y="762" fill="#4fb6e8"/>
<use href="#sf" x="1545" y="793" fill="#4fb6e8"/>
<use href="#sf" x="1623" y="815" fill="#4fb6e8"/>
<use href="#sf" x="1601" y="865" fill="#4fb6e8"/>
<use href="#sf" x="1567" y="962.5" fill="#4fb6e8"/>
<g fill="url(#mg)"><path d="M258.6,1190 L180,1190 Q192,1150 205,1118 Q222,1080 236,1040 Q246,1005 250,978 Q258.6,955 258.6,940 L258.6,860.3 Q258.6,856.3 262.6,856.3 L321.7,856.3 Q325.7,856.3 325.7,860.3 L325.7,990 Q327,1040 331,1070 Q334,1100 336,1190Z"/><path d="M362,716.9 Q362,712.9 366,712.9 L424.6,712.9 Q428.6,712.9 428.6,716.9 L428.6,817 Q431,850 432.9,888.6 Q438,925 442.9,960 Q443.5,1010 441,1050 Q440,1100 441,1190 L352,1190 Q353,1100 352.5,1040 Q351,990 352.9,960 Q358.5,945 357.7,931 Q352,918 352.9,905.7 Q355,870 357,845.7 Q360,830 362,815Z"/><path d="M465.7,871.1 Q465.7,867.1 469.7,867.1 L527.4,867.1 Q531.4,867.1 531.4,871.1 L531.4,960 Q533,975 538,990 Q541,1000 542.5,1006 L542.5,1190 L458,1190 L459,1060 Q461,1020 463,990 Q465.7,960 465.7,940Z"/><path d="M569.1,526.3 Q569.1,522.3 573.1,522.3 L631.1,522.3 Q635.1,522.3 635.1,526.3 L635.1,831 Q638,850 642.9,874 Q647,900 648.6,931.4 Q662,965 685,994 Q698,1018 706,1035 Q716,1056 728,1068 Q745,1090 770,1110 Q800,1135 830,1190 L551,1190 L551.5,1012 Q556,1000 557,985 Q558,950 559,920 Q559.5,895 560,874 Q565,850 569.1,831Z"/></g>
<path d="M324,1096 L355,1096 L355,1190 L324,1190Z M437,1066 L462,1066 L462,1190 L437,1190Z M540,1016 L555,1016 L555,1190 L540,1190Z" fill="#0e7594"/>
<path d="M331.5,1080 L332.5,1092 Q333.5,1105.5 343,1105.5 Q352.5,1105.5 352.5,1092 L352.5,1080Z" fill="#00a7cc"/>
<path d="M441,1050 L441,1056 Q441.5,1064 450,1064 Q458.5,1064 459,1056 L459,1050Z" fill="#00a7cc"/>
<path d="M541.5,1000 Q541.8,1016.5 547,1016.5 Q552.2,1016.5 552,1000Z" fill="#00a7cc"/>
<text x="572.0" y="552.0" font-size="28" fill="#f5efe0" font-weight="bold" textLength="60.3" lengthAdjust="spacingAndGlyphs" >+446%</text>
<text x="365.1" y="745.1" font-size="29" fill="#f5efe0" font-weight="bold" textLength="60.0" lengthAdjust="spacingAndGlyphs" >+166%</text>
<text x="269.0" y="896.5" font-size="29" fill="#f5efe0" font-weight="bold" textLength="48.5" lengthAdjust="spacingAndGlyphs" >+28%</text>
<text x="475.0" y="901.5" font-size="29" fill="#f5efe0" font-weight="bold" textLength="49.5" lengthAdjust="spacingAndGlyphs" >+21%</text>
<text transform="translate(561.3,590) rotate(-90)" font-size="13.5" fill="#ffffff" textLength="63" lengthAdjust="spacingAndGlyphs">BIOMASS</text>
<text transform="translate(354.3,776.5) rotate(-90)" font-size="13.5" fill="#ffffff" textLength="58" lengthAdjust="spacingAndGlyphs">DENSITY</text>
<text transform="translate(253,892.5) rotate(-90)" font-size="13.5" fill="#ffffff" textLength="30.5" lengthAdjust="spacingAndGlyphs">SIZE</text>
<text transform="translate(458.5,943.5) rotate(-90)" font-size="13.5" fill="#ffffff" textLength="72" lengthAdjust="spacingAndGlyphs">RICHNESS</text>
<line x1="561.3" y1="692" x2="642.8" y2="672.8" stroke="#ffffff" stroke-width="1.5"/>
<line x1="561.3" y1="704.1" x2="642.8" y2="684" stroke="#ffffff" stroke-width="1.5"/>
<line x1="354.4" y1="797.7" x2="436.2" y2="778.7" stroke="#ffffff" stroke-width="1.5"/>
<line x1="354.4" y1="811.4" x2="436.2" y2="790.9" stroke="#ffffff" stroke-width="1.5"/>
<circle cx="602.9" cy="465.1" r="7.6" fill="none" stroke="#f6a21e" stroke-width="2.2"/>
<rect x="600.4" y="471.5" width="5" height="6" fill="#f6a21e"/>
<path d="M587,476.6 L619.3,476.6 Q623,476.6 624,480 L630.3,506.5 Q631,511.4 626,511.4 L580,511.4 Q575,511.4 575.7,506.5 L582.3,480 Q583.3,476.6 587,476.6Z" fill="#f6a21e"/>
<path d="M599,496 Q603,487.5 612,486 L616,488 Q621,491 623,496 Q618,501 609,501.5 Q603,501 599,496Z" fill="#ea7d22"/><path d="M594,491.5 L600,496 L595,500.5Z" fill="#ea7d22"/>
<polygon points="595.2,492.1 595.5,497.2 601.5,498.9 595.6,500.8 595.4,505.8 591.4,501.9 585.3,503.3 588.7,499.0 585.1,494.9 591.3,496.1" fill="#f9e36e"/>
<use href="#snap" x="258" y="801.4" fill="#f6a21e"/>
<path d="M259.4,841.4 L326.7,841.4 M259.6,836 L259.6,846.8 M326.5,836 L326.5,846.8" stroke="#f6a21e" stroke-width="1.9" fill="none"/>
<g fill="#f6a21e" transform="translate(397,673) scale(1.15)"><use href="#sf"/></g>
<g fill="#f6a21e" transform="translate(371.4,694) scale(1.15)"><use href="#sf"/></g>
<g fill="#f6a21e" transform="translate(419,694.5) scale(1.15)"><use href="#sf"/></g>
<g stroke="#f7e27a" fill="none" stroke-linecap="round"><path d="M496.0,857.0Q485.2,844.5 483.7,828.1" stroke-width="3.0"/><path d="M487.7,844.1Q492.0,832.7 490.2,820.7" stroke-width="2.4"/><path d="M490.7,829.4Q495.5,821.5 492.5,812.7" stroke-width="1.9"/><path d="M490.7,825.9Q488.5,818.0 486.4,809.9" stroke-width="1.9"/><path d="M490.2,820.7Q494.2,815.5 496.1,809.3" stroke-width="1.9"/><path d="M483.7,828.1Q475.2,821.3 467.1,814.0" stroke-width="2.4"/><path d="M476.1,821.9Q468.2,821.6 461.0,818.3" stroke-width="1.9"/><path d="M467.1,814.0Q464.0,807.6 461.4,801.0" stroke-width="1.9"/><path d="M498.8,857.0Q496.9,837.4 484.8,821.8" stroke-width="3.0"/><path d="M490.5,830.4Q485.2,818.9 473.3,814.7" stroke-width="2.4"/><path d="M478.0,816.8Q469.8,816.1 464.5,809.7" stroke-width="1.9"/><path d="M478.0,816.8Q470.5,814.8 465.6,808.8" stroke-width="1.9"/><path d="M473.3,814.7Q469.3,808.9 466.2,802.6" stroke-width="1.9"/><path d="M484.8,821.8Q481.3,811.7 479.3,801.2" stroke-width="2.4"/><path d="M480.7,807.8Q478.1,801.4 481.2,795.1" stroke-width="1.9"/><path d="M479.3,801.2Q476.8,794.3 469.9,791.8" stroke-width="1.9"/><path d="M499.9,857.0Q490.1,843.8 494.4,827.9" stroke-width="3.0"/><path d="M493.1,838.4Q485.9,832.4 481.5,824.2" stroke-width="2.4"/><path d="M487.6,833.0Q484.8,829.3 482.0,825.7" stroke-width="1.9"/><path d="M481.5,824.2Q477.0,819.5 471.8,815.7" stroke-width="1.9"/><path d="M494.8,847.4Q493.3,839.2 497.0,831.7" stroke-width="2.4"/><path d="M495.1,836.8Q494.5,831.5 493.5,826.3" stroke-width="1.9"/><path d="M497.0,831.7Q502.0,827.8 503.1,821.5" stroke-width="1.9"/><path d="M494.4,827.9Q498.4,820.3 497.8,811.6" stroke-width="2.4"/><path d="M497.0,821.3Q494.6,817.4 495.4,812.9" stroke-width="1.9"/><path d="M497.8,811.6Q497.5,805.3 502.2,801.0" stroke-width="1.9"/><path d="M498.4,857.0Q498.2,840.1 498.2,823.2" stroke-width="3.0"/><path d="M498.2,832.4Q495.4,821.4 488.5,812.4" stroke-width="2.4"/><path d="M494.6,822.3Q494.5,816.7 494.2,811.1" stroke-width="1.9"/><path d="M488.5,812.4Q484.4,805.0 476.0,803.8" stroke-width="1.9"/><path d="M498.2,835.1Q497.7,825.0 490.2,818.3" stroke-width="2.4"/><path d="M496.5,827.2Q497.1,821.6 497.2,816.1" stroke-width="1.9"/><path d="M490.2,818.3Q485.9,813.4 484.7,807.0" stroke-width="1.9"/><path d="M498.2,823.2Q494.9,811.6 490.0,800.7" stroke-width="2.4"/><path d="M494.7,812.3Q495.1,806.0 495.9,799.8" stroke-width="1.9"/><path d="M490.0,800.7Q487.8,794.3 483.1,789.5" stroke-width="1.9"/><path d="M498.3,857.0Q491.2,837.4 502.2,819.7" stroke-width="3.0"/><path d="M496.2,834.7Q493.3,823.0 498.6,812.3" stroke-width="2.4"/><path d="M496.7,816.9Q499.6,809.3 504.7,803.1" stroke-width="1.9"/><path d="M498.6,812.3Q504.2,808.3 505.6,801.6" stroke-width="1.9"/><path d="M495.5,841.2Q505.5,832.6 509.4,820.0" stroke-width="2.4"/><path d="M505.7,828.8Q510.8,822.4 516.2,816.3" stroke-width="1.9"/><path d="M506.9,826.4Q512.3,822.2 518.9,820.3" stroke-width="1.9"/><path d="M509.4,820.0Q509.6,811.1 512.3,802.6" stroke-width="1.9"/><path d="M502.2,819.7Q498.3,807.3 500.3,794.6" stroke-width="2.4"/><path d="M499.7,800.2Q498.5,791.1 491.1,785.6" stroke-width="1.9"/><path d="M499.7,805.9Q504.3,797.2 500.8,788.0" stroke-width="1.9"/><path d="M500.3,794.6Q502.3,788.1 503.0,781.4" stroke-width="1.9"/><path d="M499.1,857.0Q510.9,845.9 509.2,829.7" stroke-width="3.0"/><path d="M507.7,844.1Q505.6,833.6 506.3,822.9" stroke-width="2.4"/><path d="M506.1,828.9Q506.9,821.6 511.9,816.2" stroke-width="1.9"/><path d="M506.3,822.9Q509.3,815.8 506.1,808.7" stroke-width="1.9"/><path d="M509.2,829.7Q514.6,820.2 517.8,809.8" stroke-width="2.4"/><path d="M513.0,822.3Q516.4,817.4 520.5,813.0" stroke-width="1.9"/><path d="M515.5,816.3Q516.9,810.4 518.1,804.5" stroke-width="1.9"/><path d="M517.8,809.8Q518.6,802.7 522.5,796.6" stroke-width="1.9"/><path d="M498.7,857.0Q512.5,845.2 514.2,827.2" stroke-width="3.0"/><path d="M511.5,839.2Q519.6,831.4 524.8,821.4" stroke-width="2.4"/><path d="M519.4,830.1Q522.6,824.3 527.3,819.6" stroke-width="1.9"/><path d="M518.4,831.5Q525.9,827.9 531.9,822.3" stroke-width="1.9"/><path d="M524.8,821.4Q523.5,814.6 527.9,809.2" stroke-width="1.9"/><path d="M509.2,844.2Q518.4,836.2 519.4,824.0" stroke-width="2.4"/><path d="M517.8,831.9Q522.1,826.5 520.5,819.9" stroke-width="1.9"/><path d="M516.2,835.5Q518.1,828.5 521.5,822.2" stroke-width="1.9"/><path d="M519.4,824.0Q522.7,816.1 529.7,811.4" stroke-width="1.9"/><path d="M514.2,827.2Q521.3,817.7 529.2,808.9" stroke-width="2.4"/><path d="M522.5,816.6Q526.5,811.6 529.3,805.7" stroke-width="1.9"/><path d="M529.2,808.9Q535.7,804.5 539.6,797.6" stroke-width="1.9"/><path d="M495.8,857.0Q505.2,844.1 514.9,831.4" stroke-width="3.0"/><path d="M508.3,840.1Q510.6,832.0 510.0,823.6" stroke-width="2.4"/><path d="M510.1,829.5Q512.2,823.9 512.6,817.9" stroke-width="1.9"/><path d="M510.0,823.6Q506.6,819.3 507.1,813.9" stroke-width="1.9"/><path d="M514.9,831.4Q519.5,822.3 520.2,812.1" stroke-width="2.4"/><path d="M519.7,816.6Q522.5,810.4 528.2,806.4" stroke-width="1.9"/><path d="M520.2,812.1Q518.2,806.5 518.6,800.6" stroke-width="1.9"/></g>
<g fill="#f6a21e" transform="translate(518,781.5) scale(1.0)"><use href="#sf"/></g>
<g fill="#f6b04e" transform="translate(475,811) scale(0.95)"><use href="#sf"/></g>
<g fill="#ee7d2a" transform="translate(538,821) scale(1.0)"><use href="#sf"/></g>
<polygon points="518.4,839.2 519.7,845.5 527.9,847.0 520.4,849.8 521.0,856.2 515.0,851.7 507.2,854.1 511.0,848.4 505.6,843.6 513.9,844.6" fill="#f6a21e"/>
<text x="517.1" y="540.0" font-size="15.8" fill="#ffffff" text-anchor="end" textLength="292.0" lengthAdjust="spacingAndGlyphs" >A global review shows that well-managed</text>
<text x="517.1" y="561.9" font-size="15.8" fill="#ffffff" text-anchor="end" textLength="295.0" lengthAdjust="spacingAndGlyphs" >MPAs can substantially increase fish size,</text>
<text x="517.1" y="583.8" font-size="15.8" fill="#ffffff" text-anchor="end" textLength="276.0" lengthAdjust="spacingAndGlyphs" >density, biomass and species richness.</text>
<path d="M47.0,807.0C51.7,815.0 64.8,839.5 75.0,855.0C85.2,870.5 96.4,887.5 108.0,900.0C119.6,912.5 130.0,918.7 144.5,930.0C159.0,941.3 177.8,955.8 195.0,968.0C212.2,980.2 230.5,993.7 248.0,1003.0C265.5,1012.3 282.5,1018.8 300.0,1024.0C317.5,1029.2 339.7,1032.0 353.0,1034.0C366.3,1036.0 363.8,1036.2 380.0,1036.0C396.2,1035.8 427.8,1034.6 450.0,1033.0C472.2,1031.4 489.8,1031.1 513.0,1026.6C536.2,1022.0 566.0,1014.8 589.0,1005.7C612.0,996.6 632.5,983.6 651.0,972.0C669.5,960.4 686.7,947.0 700.0,936.0C713.3,925.0 720.3,918.3 731.0,906.0C741.7,893.7 754.3,876.3 764.0,862.0C773.7,847.7 780.2,838.5 789.0,820.0C797.8,801.5 808.5,772.0 817.0,751.0C825.5,730.0 832.5,711.1 840.0,694.0C847.5,676.9 854.0,661.9 862.0,648.6C870.0,635.3 878.0,626.4 888.0,614.0C898.0,601.6 909.0,587.3 922.0,574.0C935.0,560.7 950.2,545.4 966.0,534.0C981.8,522.6 994.7,513.3 1017.0,505.7C1039.3,498.1 1062.5,493.7 1100.0,488.6C1137.5,483.5 1201.7,477.9 1242.0,475.0C1282.3,472.1 1309.0,472.3 1342.0,471.0C1375.0,469.7 1407.0,468.3 1440.0,467.0C1473.0,465.7 1523.3,463.7 1540.0,463.0L1540,503C1520.0,503.5 1460.0,504.5 1420.0,506.0C1380.0,507.5 1338.0,508.8 1300.0,512.0C1262.0,515.2 1225.3,516.5 1192.0,525.0C1158.7,533.5 1129.2,552.9 1100.0,563.0C1070.8,573.1 1040.3,576.2 1017.0,585.7C993.7,595.2 977.2,606.7 960.0,620.0C942.8,633.3 926.4,649.5 914.0,665.7C901.6,681.9 894.2,699.0 885.7,717.0C877.2,735.0 871.6,753.0 863.0,774.0C854.4,795.0 844.5,822.0 834.0,843.0C823.5,864.0 814.2,879.1 800.0,900.0C785.8,920.9 765.3,948.8 748.6,968.6C731.9,988.4 720.3,1004.3 700.0,1019.0C679.7,1033.7 648.7,1046.5 627.0,1057.0C605.3,1067.5 589.0,1074.7 570.0,1081.7C551.0,1088.7 529.7,1094.8 513.0,1098.8C496.3,1102.8 482.2,1103.9 470.0,1105.5C457.8,1107.1 446.0,1107.8 440.0,1108.5C434.0,1109.2 435.0,1109.8 434.0,1110.0L434,1169.5C425.0,1169.4 402.3,1169.4 380.0,1169.0C357.7,1168.6 320.5,1168.5 300.0,1167.0C279.5,1165.5 271.2,1164.5 257.0,1160.0C242.8,1155.5 227.0,1147.5 215.0,1140.0C203.0,1132.5 195.8,1125.8 185.0,1115.0C174.2,1104.2 164.2,1094.2 150.0,1075.0C135.8,1055.8 115.0,1029.2 100.0,1000.0C85.0,970.8 68.8,932.2 60.0,900.0C51.2,867.8 49.2,822.5 47.0,807.0Z" fill="url(#bandg1)"/>
<path d="M434.0,1110.0C435.0,1110.3 434.0,1111.5 440.0,1112.0C446.0,1112.5 457.8,1113.2 470.0,1113.0C482.2,1112.8 496.3,1112.4 513.0,1111.0C529.7,1109.6 551.0,1107.8 570.0,1104.5C589.0,1101.2 605.3,1096.8 627.0,1091.0C648.7,1085.2 672.2,1078.5 700.0,1070.0C727.8,1061.5 770.3,1049.8 794.0,1040.0C817.7,1030.2 824.5,1020.8 842.0,1011.0C859.5,1001.2 882.3,990.0 899.0,981.0C915.7,972.0 927.7,964.5 942.0,957.0C956.3,949.5 970.7,942.3 985.0,936.0C999.3,929.7 1011.8,923.8 1028.0,919.0C1044.2,914.2 1054.5,909.7 1082.0,907.0C1109.5,904.3 1149.0,904.5 1193.0,903.0C1237.0,901.5 1295.0,899.7 1346.0,898.0C1397.0,896.3 1442.7,894.7 1499.0,893.0C1555.3,891.3 1653.2,888.8 1684.0,888.0L1684,922C1653.2,923.0 1555.3,925.7 1499.0,928.0C1442.7,930.3 1397.0,933.0 1346.0,936.0C1295.0,939.0 1237.0,940.2 1193.0,946.0C1149.0,951.8 1109.5,963.8 1082.0,971.0C1054.5,978.2 1044.2,982.0 1028.0,989.0C1011.8,996.0 999.3,1004.5 985.0,1013.0C970.7,1021.5 956.3,1032.0 942.0,1040.0C927.7,1048.0 915.7,1052.8 899.0,1061.0C882.3,1069.2 859.5,1081.7 842.0,1089.0C824.5,1096.3 817.7,1097.7 794.0,1105.0C770.3,1112.3 727.8,1125.2 700.0,1133.0C672.2,1140.8 648.7,1147.0 627.0,1152.0C605.3,1157.0 592.2,1159.7 570.0,1163.0C547.8,1166.3 516.7,1170.9 494.0,1172.0C471.3,1173.1 444.0,1169.9 434.0,1169.5Z" fill="url(#bandg2)"/>
<g clip-path="url(#moundclip)"><path d="M47.0,807.0C51.7,815.0 64.8,839.5 75.0,855.0C85.2,870.5 96.4,887.5 108.0,900.0C119.6,912.5 130.0,918.7 144.5,930.0C159.0,941.3 177.8,955.8 195.0,968.0C212.2,980.2 230.5,993.7 248.0,1003.0C265.5,1012.3 282.5,1018.8 300.0,1024.0C317.5,1029.2 339.7,1032.0 353.0,1034.0C366.3,1036.0 363.8,1036.2 380.0,1036.0C396.2,1035.8 427.8,1034.6 450.0,1033.0C472.2,1031.4 489.8,1031.1 513.0,1026.6C536.2,1022.0 566.0,1014.8 589.0,1005.7C612.0,996.6 632.5,983.6 651.0,972.0C669.5,960.4 686.7,947.0 700.0,936.0C713.3,925.0 720.3,918.3 731.0,906.0C741.7,893.7 754.3,876.3 764.0,862.0C773.7,847.7 780.2,838.5 789.0,820.0C797.8,801.5 808.5,772.0 817.0,751.0C825.5,730.0 832.5,711.1 840.0,694.0C847.5,676.9 854.0,661.9 862.0,648.6C870.0,635.3 878.0,626.4 888.0,614.0C898.0,601.6 909.0,587.3 922.0,574.0C935.0,560.7 950.2,545.4 966.0,534.0C981.8,522.6 994.7,513.3 1017.0,505.7C1039.3,498.1 1062.5,493.7 1100.0,488.6C1137.5,483.5 1201.7,477.9 1242.0,475.0C1282.3,472.1 1309.0,472.3 1342.0,471.0C1375.0,469.7 1407.0,468.3 1440.0,467.0C1473.0,465.7 1523.3,463.7 1540.0,463.0L1540,503C1520.0,503.5 1460.0,504.5 1420.0,506.0C1380.0,507.5 1338.0,508.8 1300.0,512.0C1262.0,515.2 1225.3,516.5 1192.0,525.0C1158.7,533.5 1129.2,552.9 1100.0,563.0C1070.8,573.1 1040.3,576.2 1017.0,585.7C993.7,595.2 977.2,606.7 960.0,620.0C942.8,633.3 926.4,649.5 914.0,665.7C901.6,681.9 894.2,699.0 885.7,717.0C877.2,735.0 871.6,753.0 863.0,774.0C854.4,795.0 844.5,822.0 834.0,843.0C823.5,864.0 814.2,879.1 800.0,900.0C785.8,920.9 765.3,948.8 748.6,968.6C731.9,988.4 720.3,1004.3 700.0,1019.0C679.7,1033.7 648.7,1046.5 627.0,1057.0C605.3,1067.5 589.0,1074.7 570.0,1081.7C551.0,1088.7 529.7,1094.8 513.0,1098.8C496.3,1102.8 482.2,1103.9 470.0,1105.5C457.8,1107.1 446.0,1107.8 440.0,1108.5C434.0,1109.2 435.0,1109.8 434.0,1110.0L434,1169.5C425.0,1169.4 402.3,1169.4 380.0,1169.0C357.7,1168.6 320.5,1168.5 300.0,1167.0C279.5,1165.5 271.2,1164.5 257.0,1160.0C242.8,1155.5 227.0,1147.5 215.0,1140.0C203.0,1132.5 195.8,1125.8 185.0,1115.0C174.2,1104.2 164.2,1094.2 150.0,1075.0C135.8,1055.8 115.0,1029.2 100.0,1000.0C85.0,970.8 68.8,932.2 60.0,900.0C51.2,867.8 49.2,822.5 47.0,807.0Z" fill="#968296" opacity="0.2"/><path d="M434.0,1110.0C435.0,1110.3 434.0,1111.5 440.0,1112.0C446.0,1112.5 457.8,1113.2 470.0,1113.0C482.2,1112.8 496.3,1112.4 513.0,1111.0C529.7,1109.6 551.0,1107.8 570.0,1104.5C589.0,1101.2 605.3,1096.8 627.0,1091.0C648.7,1085.2 672.2,1078.5 700.0,1070.0C727.8,1061.5 770.3,1049.8 794.0,1040.0C817.7,1030.2 824.5,1020.8 842.0,1011.0C859.5,1001.2 882.3,990.0 899.0,981.0C915.7,972.0 927.7,964.5 942.0,957.0C956.3,949.5 970.7,942.3 985.0,936.0C999.3,929.7 1011.8,923.8 1028.0,919.0C1044.2,914.2 1054.5,909.7 1082.0,907.0C1109.5,904.3 1149.0,904.5 1193.0,903.0C1237.0,901.5 1295.0,899.7 1346.0,898.0C1397.0,896.3 1442.7,894.7 1499.0,893.0C1555.3,891.3 1653.2,888.8 1684.0,888.0L1684,922C1653.2,923.0 1555.3,925.7 1499.0,928.0C1442.7,930.3 1397.0,933.0 1346.0,936.0C1295.0,939.0 1237.0,940.2 1193.0,946.0C1149.0,951.8 1109.5,963.8 1082.0,971.0C1054.5,978.2 1044.2,982.0 1028.0,989.0C1011.8,996.0 999.3,1004.5 985.0,1013.0C970.7,1021.5 956.3,1032.0 942.0,1040.0C927.7,1048.0 915.7,1052.8 899.0,1061.0C882.3,1069.2 859.5,1081.7 842.0,1089.0C824.5,1096.3 817.7,1097.7 794.0,1105.0C770.3,1112.3 727.8,1125.2 700.0,1133.0C672.2,1140.8 648.7,1147.0 627.0,1152.0C605.3,1157.0 592.2,1159.7 570.0,1163.0C547.8,1166.3 516.7,1170.9 494.0,1172.0C471.3,1173.1 444.0,1169.9 434.0,1169.5Z" fill="#968296" opacity="0.2"/></g>
<g stroke="#0d7080" fill="none" stroke-linecap="round"><path d="M725.1,1152.0Q708.1,1143.7 690.7,1136.2" stroke-width="3.4"/><path d="M697.8,1139.3Q686.6,1129.7 671.9,1128.3" stroke-width="2.7"/><path d="M686.8,1132.2Q678.7,1134.2 670.4,1134.8" stroke-width="2.2"/><path d="M688.7,1133.2Q684.3,1126.4 677.0,1122.7" stroke-width="2.2"/><path d="M671.9,1128.3Q661.7,1131.9 651.0,1130.6" stroke-width="2.2"/><path d="M690.7,1136.2Q686.8,1123.0 674.3,1117.5" stroke-width="2.7"/><path d="M683.0,1123.3Q675.9,1117.8 675.1,1108.9" stroke-width="2.2"/><path d="M674.3,1117.5Q667.3,1111.6 658.1,1112.3" stroke-width="2.2"/><path d="M721.1,1152.0Q707.0,1144.5 697.5,1131.7" stroke-width="3.4"/><path d="M706.6,1141.8Q698.1,1141.7 691.8,1136.2" stroke-width="2.7"/><path d="M700.4,1140.9Q695.1,1142.4 689.8,1140.7" stroke-width="2.2"/><path d="M691.8,1136.2Q685.6,1135.2 681.7,1130.2" stroke-width="2.2"/><path d="M697.5,1131.7Q694.6,1124.2 692.6,1116.4" stroke-width="2.7"/><path d="M693.8,1120.7Q688.4,1117.4 686.7,1111.3" stroke-width="2.2"/><path d="M694.7,1123.6Q693.0,1118.9 690.2,1114.7" stroke-width="2.2"/><path d="M692.6,1116.4Q695.9,1112.2 694.9,1107.0" stroke-width="2.2"/><path d="M725.3,1152.0Q709.7,1137.2 693.9,1122.5" stroke-width="3.4"/><path d="M713.4,1140.7Q703.8,1131.0 695.8,1120.0" stroke-width="2.7"/><path d="M702.4,1128.6Q700.5,1121.0 694.5,1116.1" stroke-width="2.2"/><path d="M695.8,1120.0Q689.1,1112.4 680.5,1107.2" stroke-width="2.2"/><path d="M693.9,1122.5Q689.6,1109.8 677.8,1103.6" stroke-width="2.7"/><path d="M682.9,1106.9Q677.5,1101.0 669.7,1099.6" stroke-width="2.2"/><path d="M677.8,1103.6Q670.0,1102.1 663.1,1098.3" stroke-width="2.2"/><path d="M726.5,1152.0Q714.4,1141.5 708.4,1126.7" stroke-width="3.4"/><path d="M711.8,1133.9Q708.2,1125.0 700.9,1119.0" stroke-width="2.7"/><path d="M708.1,1126.9Q701.5,1125.6 696.5,1121.2" stroke-width="2.2"/><path d="M700.9,1119.0Q699.3,1112.0 692.9,1108.5" stroke-width="2.2"/><path d="M708.4,1126.7Q701.9,1120.5 694.5,1115.5" stroke-width="2.7"/><path d="M701.3,1120.5Q700.4,1114.3 695.9,1110.0" stroke-width="2.2"/><path d="M694.5,1115.5Q689.5,1111.1 682.9,1112.0" stroke-width="2.2"/><path d="M724.9,1152.0Q715.8,1133.1 705.9,1114.6" stroke-width="3.4"/><path d="M710.7,1123.7Q705.4,1113.7 697.6,1105.3" stroke-width="2.7"/><path d="M703.9,1112.9Q705.2,1105.5 701.5,1099.1" stroke-width="2.2"/><path d="M697.6,1105.3Q693.4,1100.8 691.6,1094.9" stroke-width="2.2"/><path d="M705.9,1114.6Q697.6,1106.8 693.3,1096.3" stroke-width="2.7"/><path d="M697.2,1103.9Q693.2,1097.0 690.4,1089.6" stroke-width="2.2"/><path d="M693.3,1096.3Q686.2,1094.3 683.0,1087.6" stroke-width="2.2"/><path d="M721.8,1152.0Q725.3,1136.1 716.8,1122.3" stroke-width="3.4"/><path d="M721.4,1132.5Q725.5,1125.3 723.7,1117.1" stroke-width="2.7"/><path d="M723.8,1126.5Q724.7,1122.0 725.5,1117.6" stroke-width="2.2"/><path d="M723.7,1117.1Q724.4,1112.7 722.4,1108.7" stroke-width="2.2"/><path d="M716.8,1122.3Q713.2,1112.7 710.6,1102.8" stroke-width="2.7"/><path d="M712.7,1110.2Q713.6,1102.6 708.6,1096.8" stroke-width="2.2"/><path d="M710.6,1102.8Q709.5,1096.4 712.8,1090.7" stroke-width="2.2"/><path d="M724.4,1152.0Q728.1,1131.0 720.8,1111.1" stroke-width="3.4"/><path d="M724.7,1126.3Q730.8,1115.7 729.0,1103.6" stroke-width="2.7"/><path d="M729.4,1109.4Q728.7,1102.2 728.8,1095.0" stroke-width="2.2"/><path d="M729.4,1108.9Q727.4,1101.7 725.5,1094.5" stroke-width="2.2"/><path d="M729.0,1103.6Q734.2,1096.6 736.4,1088.2" stroke-width="2.2"/><path d="M724.4,1124.6Q729.4,1111.1 722.9,1098.3" stroke-width="2.7"/><path d="M725.1,1103.7Q719.8,1097.1 721.8,1088.8" stroke-width="2.2"/><path d="M722.9,1098.3Q722.2,1090.9 716.4,1086.3" stroke-width="2.2"/><path d="M720.8,1111.1Q725.2,1097.6 728.2,1083.7" stroke-width="2.7"/><path d="M726.8,1089.9Q731.3,1081.4 735.4,1072.7" stroke-width="2.2"/><path d="M725.4,1095.2Q732.8,1091.8 734.7,1083.9" stroke-width="2.2"/><path d="M728.2,1083.7Q732.8,1077.8 734.4,1070.6" stroke-width="2.2"/><path d="M723.4,1152.0Q720.3,1134.0 727.4,1117.3" stroke-width="3.4"/><path d="M722.9,1133.5Q718.8,1121.6 725.2,1110.6" stroke-width="2.7"/><path d="M721.3,1124.9Q718.8,1118.5 717.7,1111.7" stroke-width="2.2"/><path d="M725.2,1110.6Q722.8,1104.0 722.2,1096.9" stroke-width="2.2"/><path d="M727.4,1117.3Q729.1,1105.4 733.3,1094.1" stroke-width="2.7"/><path d="M729.6,1106.3Q732.6,1099.4 732.9,1091.8" stroke-width="2.2"/><path d="M729.9,1105.1Q728.9,1096.4 734.3,1089.5" stroke-width="2.2"/><path d="M733.3,1094.1Q730.0,1088.0 731.6,1081.1" stroke-width="2.2"/><path d="M721.5,1152.0Q725.9,1137.0 731.0,1122.1" stroke-width="3.4"/><path d="M728.7,1128.8Q737.1,1122.8 739.2,1112.7" stroke-width="2.7"/><path d="M737.1,1119.0Q737.7,1113.3 739.9,1108.0" stroke-width="2.2"/><path d="M739.2,1112.7Q741.3,1107.0 746.9,1104.9" stroke-width="2.2"/><path d="M726.0,1137.2Q730.2,1126.1 726.7,1114.9" stroke-width="2.7"/><path d="M728.3,1124.3Q724.8,1117.5 724.4,1109.9" stroke-width="2.2"/><path d="M728.2,1127.8Q727.9,1121.2 727.0,1114.5" stroke-width="2.2"/><path d="M726.7,1114.9Q727.1,1107.4 729.9,1100.4" stroke-width="2.2"/><path d="M731.0,1122.1Q730.9,1113.0 738.0,1107.3" stroke-width="2.7"/><path d="M731.9,1115.9Q735.3,1110.8 740.4,1107.4" stroke-width="2.2"/><path d="M738.0,1107.3Q739.8,1101.9 737.0,1097.0" stroke-width="2.2"/><path d="M725.2,1152.0Q739.4,1141.0 739.4,1123.0" stroke-width="3.4"/><path d="M734.6,1141.6Q742.6,1137.7 749.3,1131.8" stroke-width="2.7"/><path d="M742.5,1137.0Q744.2,1130.8 749.2,1126.7" stroke-width="2.2"/><path d="M749.3,1131.8Q753.9,1130.7 757.0,1127.1" stroke-width="2.2"/><path d="M736.3,1138.3Q738.3,1129.2 745.1,1122.7" stroke-width="2.7"/><path d="M742.2,1125.9Q745.6,1122.9 749.5,1120.6" stroke-width="2.2"/><path d="M738.6,1131.7Q742.7,1126.8 748.7,1124.6" stroke-width="2.2"/><path d="M745.1,1122.7Q744.4,1117.9 746.6,1113.6" stroke-width="2.2"/><path d="M739.4,1123.0Q745.4,1114.3 750.9,1105.3" stroke-width="2.7"/><path d="M745.3,1114.2Q748.4,1108.7 749.1,1102.4" stroke-width="2.2"/><path d="M746.8,1111.9Q752.6,1111.0 756.0,1106.1" stroke-width="2.2"/><path d="M750.9,1105.3Q756.6,1100.6 758.7,1093.5" stroke-width="2.2"/></g>
<g stroke="#0d7080" fill="none" stroke-linecap="round"><path d="M687.8,1172.0Q677.5,1168.6 674.0,1158.4" stroke-width="3.0"/><path d="M677.1,1164.5Q671.8,1159.4 670.1,1152.4" stroke-width="2.4"/><path d="M673.1,1159.5Q672.6,1155.4 673.0,1151.4" stroke-width="1.9"/><path d="M670.1,1152.4Q667.9,1147.8 669.7,1143.0" stroke-width="1.9"/><path d="M674.0,1158.4Q669.8,1155.2 668.7,1149.9" stroke-width="2.4"/><path d="M670.7,1154.9Q669.9,1152.1 667.5,1150.6" stroke-width="1.9"/><path d="M670.1,1153.9Q667.4,1150.9 667.9,1146.8" stroke-width="1.9"/><path d="M668.7,1149.9Q666.4,1148.1 663.7,1147.1" stroke-width="1.9"/><path d="M689.4,1172.0Q676.5,1164.6 671.5,1150.6" stroke-width="3.0"/><path d="M677.1,1161.2Q669.8,1157.7 664.3,1151.9" stroke-width="2.4"/><path d="M671.9,1158.3Q667.7,1157.1 665.6,1153.3" stroke-width="1.9"/><path d="M664.3,1151.9Q660.5,1148.5 656.3,1145.9" stroke-width="1.9"/><path d="M676.0,1159.7Q675.2,1151.6 672.3,1144.0" stroke-width="2.4"/><path d="M675.1,1153.9Q674.3,1148.8 673.6,1143.7" stroke-width="1.9"/><path d="M673.9,1148.8Q676.9,1144.4 676.0,1139.2" stroke-width="1.9"/><path d="M672.3,1144.0Q670.0,1140.3 669.9,1136.0" stroke-width="1.9"/><path d="M671.5,1150.6Q663.5,1144.1 653.2,1143.2" stroke-width="2.4"/><path d="M662.3,1145.3Q655.0,1143.5 648.1,1146.3" stroke-width="1.9"/><path d="M653.2,1143.2Q648.3,1139.9 642.6,1138.4" stroke-width="1.9"/><path d="M688.1,1172.0Q683.7,1163.3 680.0,1154.2" stroke-width="3.0"/><path d="M682.4,1159.9Q682.6,1154.6 679.8,1150.0" stroke-width="2.4"/><path d="M681.1,1152.6Q680.7,1149.3 682.5,1146.4" stroke-width="1.9"/><path d="M679.8,1150.0Q678.7,1147.0 678.1,1143.7" stroke-width="1.9"/><path d="M681.5,1157.9Q679.2,1152.2 679.6,1146.0" stroke-width="2.4"/><path d="M679.6,1150.0Q679.8,1146.7 681.8,1144.0" stroke-width="1.9"/><path d="M680.0,1152.5Q678.5,1149.4 676.3,1146.9" stroke-width="1.9"/><path d="M679.6,1146.0Q677.4,1143.7 675.8,1140.9" stroke-width="1.9"/><path d="M680.0,1154.2Q679.9,1147.3 675.8,1141.7" stroke-width="2.4"/><path d="M677.3,1144.2Q676.6,1140.6 674.1,1138.0" stroke-width="1.9"/><path d="M675.8,1141.7Q674.3,1137.0 670.4,1133.9" stroke-width="1.9"/><path d="M687.6,1172.0Q688.5,1159.7 682.6,1148.8" stroke-width="3.0"/><path d="M687.2,1162.3Q691.3,1155.6 690.8,1147.8" stroke-width="2.4"/><path d="M690.2,1155.0Q693.4,1152.6 694.7,1148.9" stroke-width="1.9"/><path d="M690.8,1147.8Q690.7,1143.2 692.8,1139.1" stroke-width="1.9"/><path d="M682.6,1148.8Q684.6,1141.6 683.0,1134.2" stroke-width="2.4"/><path d="M683.6,1143.0Q685.9,1138.1 688.8,1133.6" stroke-width="1.9"/><path d="M683.0,1134.2Q682.2,1128.8 679.5,1124.0" stroke-width="1.9"/><path d="M688.0,1172.0Q683.9,1161.1 687.4,1150.1" stroke-width="3.0"/><path d="M686.0,1164.1Q686.8,1158.6 689.0,1153.5" stroke-width="2.4"/><path d="M687.9,1156.3Q689.1,1152.8 687.7,1149.3" stroke-width="1.9"/><path d="M689.0,1153.5Q688.1,1149.5 689.7,1145.7" stroke-width="1.9"/><path d="M686.0,1164.3Q687.2,1156.8 683.8,1150.0" stroke-width="2.4"/><path d="M685.8,1155.6Q684.1,1150.7 682.6,1145.8" stroke-width="1.9"/><path d="M686.2,1157.9Q683.4,1154.8 683.1,1150.7" stroke-width="1.9"/><path d="M683.8,1150.0Q681.5,1145.4 682.3,1140.4" stroke-width="1.9"/><path d="M687.4,1150.1Q690.8,1145.1 693.2,1139.6" stroke-width="2.4"/><path d="M690.7,1144.8Q693.6,1142.9 694.8,1139.6" stroke-width="1.9"/><path d="M693.2,1139.6Q694.2,1136.1 693.3,1132.5" stroke-width="1.9"/><path d="M692.8,1172.0Q695.2,1161.9 698.8,1152.2" stroke-width="3.0"/><path d="M694.7,1165.0Q698.1,1158.1 696.0,1150.8" stroke-width="2.4"/><path d="M696.8,1155.7Q700.7,1152.0 701.0,1146.6" stroke-width="1.9"/><path d="M696.5,1159.7Q693.4,1155.9 694.1,1151.1" stroke-width="1.9"/><path d="M696.0,1150.8Q697.8,1146.8 700.5,1143.4" stroke-width="1.9"/><path d="M696.7,1158.4Q694.1,1150.4 698.3,1143.2" stroke-width="2.4"/><path d="M695.7,1152.5Q692.6,1148.2 693.9,1143.1" stroke-width="1.9"/><path d="M696.2,1148.2Q695.8,1143.7 692.5,1140.5" stroke-width="1.9"/><path d="M698.3,1143.2Q695.3,1137.9 697.2,1132.1" stroke-width="1.9"/><path d="M698.8,1152.2Q695.4,1145.1 696.7,1137.3" stroke-width="2.4"/><path d="M696.8,1146.1Q696.6,1141.3 693.4,1137.8" stroke-width="1.9"/><path d="M696.7,1137.3Q696.8,1133.0 694.7,1129.2" stroke-width="1.9"/><path d="M692.5,1172.0Q700.1,1160.3 706.9,1148.2" stroke-width="3.0"/><path d="M701.1,1158.3Q704.6,1151.5 704.4,1143.8" stroke-width="2.4"/><path d="M704.0,1149.8Q705.8,1145.9 705.4,1141.6" stroke-width="1.9"/><path d="M704.4,1143.8Q704.5,1139.0 702.9,1134.5" stroke-width="1.9"/><path d="M706.9,1148.2Q706.9,1139.8 709.8,1131.8" stroke-width="2.4"/><path d="M707.7,1139.5Q711.0,1135.4 714.0,1130.9" stroke-width="1.9"/><path d="M709.8,1131.8Q710.3,1127.6 712.4,1123.8" stroke-width="1.9"/></g>
<g stroke="#187a9f" fill="none" stroke-linecap="round"><path d="M868.7,1110.0Q868.2,1085.6 850.5,1068.7" stroke-width="3.4"/><path d="M864.1,1088.0Q854.6,1078.2 850.2,1065.3" stroke-width="2.7"/><path d="M855.2,1076.3Q851.5,1068.0 842.8,1065.6" stroke-width="2.2"/><path d="M850.2,1065.3Q843.0,1059.9 834.9,1055.7" stroke-width="2.2"/><path d="M862.3,1084.2Q866.1,1070.1 858.3,1057.9" stroke-width="2.7"/><path d="M862.6,1067.6Q858.7,1058.8 863.0,1050.1" stroke-width="2.2"/><path d="M858.3,1057.9Q856.7,1048.8 852.7,1040.4" stroke-width="2.2"/><path d="M850.5,1068.7Q848.2,1053.6 840.7,1040.3" stroke-width="2.7"/><path d="M844.5,1048.0Q836.5,1042.6 832.6,1033.7" stroke-width="2.2"/><path d="M840.7,1040.3Q837.2,1032.6 838.4,1024.3" stroke-width="2.2"/><path d="M867.0,1110.0Q858.5,1092.2 853.0,1073.3" stroke-width="3.4"/><path d="M860.8,1095.8Q851.6,1089.3 843.5,1081.6" stroke-width="2.7"/><path d="M851.9,1089.0Q847.1,1084.6 840.9,1082.4" stroke-width="2.2"/><path d="M848.5,1086.1Q845.5,1080.0 839.2,1077.6" stroke-width="2.2"/><path d="M843.5,1081.6Q837.4,1076.5 835.4,1068.8" stroke-width="2.2"/><path d="M853.0,1073.3Q841.2,1066.6 837.6,1053.5" stroke-width="2.7"/><path d="M844.9,1067.0Q842.0,1059.1 834.0,1056.2" stroke-width="2.2"/><path d="M841.3,1062.2Q837.9,1056.1 831.8,1052.6" stroke-width="2.2"/><path d="M837.6,1053.5Q830.5,1052.6 824.7,1048.5" stroke-width="2.2"/><path d="M868.7,1110.0Q869.8,1089.4 856.2,1074.0" stroke-width="3.4"/><path d="M861.3,1080.7Q860.5,1069.4 851.8,1062.1" stroke-width="2.7"/><path d="M857.5,1068.6Q857.6,1062.1 855.1,1056.0" stroke-width="2.2"/><path d="M851.8,1062.1Q845.8,1058.9 841.1,1054.1" stroke-width="2.2"/><path d="M856.2,1074.0Q857.9,1061.5 853.3,1049.7" stroke-width="2.7"/><path d="M856.2,1060.7Q859.7,1054.0 861.0,1046.6" stroke-width="2.2"/><path d="M853.3,1049.7Q852.7,1040.5 858.6,1033.4" stroke-width="2.2"/><path d="M865.5,1110.0Q856.3,1089.9 861.0,1068.2" stroke-width="3.4"/><path d="M859.4,1081.7Q861.3,1068.8 858.0,1056.2" stroke-width="2.7"/><path d="M859.7,1065.7Q858.8,1057.7 852.1,1053.4" stroke-width="2.2"/><path d="M860.1,1071.1Q864.5,1063.6 867.9,1055.6" stroke-width="2.2"/><path d="M858.0,1056.2Q855.7,1048.0 851.0,1040.8" stroke-width="2.2"/><path d="M859.4,1082.8Q845.7,1073.3 843.9,1056.7" stroke-width="2.7"/><path d="M845.1,1063.2Q841.8,1054.0 832.5,1050.8" stroke-width="2.2"/><path d="M843.9,1056.7Q844.6,1046.3 843.3,1035.9" stroke-width="2.2"/><path d="M861.0,1068.2Q861.7,1057.5 865.7,1047.4" stroke-width="2.7"/><path d="M862.7,1056.8Q861.1,1049.8 859.2,1042.9" stroke-width="2.2"/><path d="M863.4,1054.3Q865.0,1047.7 866.9,1041.2" stroke-width="2.2"/><path d="M865.7,1047.4Q868.8,1039.7 865.6,1032.0" stroke-width="2.2"/><path d="M868.2,1110.0Q863.6,1090.3 869.8,1071.1" stroke-width="3.4"/><path d="M866.4,1088.3Q866.9,1075.2 865.0,1062.2" stroke-width="2.7"/><path d="M866.3,1075.9Q872.2,1070.8 872.2,1063.0" stroke-width="2.2"/><path d="M865.0,1062.2Q866.1,1053.3 871.4,1046.0" stroke-width="2.2"/><path d="M867.4,1080.8Q870.0,1067.9 869.6,1054.7" stroke-width="2.7"/><path d="M869.7,1060.1Q866.4,1053.0 864.9,1045.3" stroke-width="2.2"/><path d="M869.6,1054.7Q872.4,1047.5 878.5,1042.7" stroke-width="2.2"/><path d="M869.8,1071.1Q862.6,1063.8 860.2,1053.7" stroke-width="2.7"/><path d="M864.2,1063.7Q867.4,1057.3 864.6,1050.7" stroke-width="2.2"/><path d="M860.2,1053.7Q860.0,1048.0 858.3,1042.6" stroke-width="2.2"/><path d="M868.0,1110.0Q864.7,1093.6 869.0,1077.4" stroke-width="3.4"/><path d="M866.8,1089.6Q863.8,1077.7 863.8,1065.4" stroke-width="2.7"/><path d="M864.2,1074.1Q856.6,1067.9 855.7,1058.1" stroke-width="2.2"/><path d="M864.8,1079.2Q862.2,1071.2 855.1,1066.7" stroke-width="2.2"/><path d="M863.8,1065.4Q863.3,1057.8 865.9,1050.5" stroke-width="2.2"/><path d="M869.0,1077.4Q866.7,1065.8 871.5,1055.0" stroke-width="2.7"/><path d="M869.2,1061.7Q868.1,1056.0 865.4,1050.9" stroke-width="2.2"/><path d="M868.3,1067.7Q862.6,1060.4 864.8,1051.4" stroke-width="2.2"/><path d="M871.5,1055.0Q873.4,1049.0 876.4,1043.4" stroke-width="2.2"/><path d="M867.0,1110.0Q877.9,1092.6 878.1,1072.1" stroke-width="3.4"/><path d="M877.4,1081.5Q871.7,1066.8 879.6,1053.1" stroke-width="2.7"/><path d="M875.0,1069.7Q871.2,1060.0 873.9,1049.9" stroke-width="2.2"/><path d="M875.0,1070.8Q872.1,1061.2 874.2,1051.4" stroke-width="2.2"/><path d="M879.6,1053.1Q881.2,1045.4 881.4,1037.5" stroke-width="2.2"/><path d="M873.7,1096.5Q870.8,1084.2 875.6,1072.6" stroke-width="2.7"/><path d="M873.8,1078.0Q877.3,1068.9 872.6,1060.3" stroke-width="2.2"/><path d="M872.7,1084.8Q876.6,1078.7 878.7,1071.7" stroke-width="2.2"/><path d="M875.6,1072.6Q873.7,1066.4 876.5,1060.5" stroke-width="2.2"/><path d="M878.1,1072.1Q888.0,1061.4 889.8,1046.9" stroke-width="2.7"/><path d="M888.7,1052.8Q896.5,1048.0 898.4,1038.9" stroke-width="2.2"/><path d="M889.8,1046.9Q896.5,1041.9 901.8,1035.5" stroke-width="2.2"/><path d="M863.2,1110.0Q859.2,1089.7 872.4,1073.9" stroke-width="3.4"/><path d="M865.3,1085.4Q872.7,1073.9 884.2,1066.5" stroke-width="2.7"/><path d="M876.1,1072.7Q878.5,1064.4 881.2,1056.1" stroke-width="2.2"/><path d="M884.2,1066.5Q891.6,1064.0 894.7,1056.9" stroke-width="2.2"/><path d="M864.1,1088.6Q864.7,1076.1 860.5,1064.2" stroke-width="2.7"/><path d="M863.9,1079.7Q862.1,1073.1 862.2,1066.2" stroke-width="2.2"/><path d="M862.4,1070.6Q862.2,1063.3 864.8,1056.5" stroke-width="2.2"/><path d="M860.5,1064.2Q854.7,1056.4 856.5,1046.7" stroke-width="2.2"/><path d="M872.4,1073.9Q873.1,1062.7 878.7,1053.0" stroke-width="2.7"/><path d="M875.8,1058.8Q881.3,1052.5 881.6,1044.1" stroke-width="2.2"/><path d="M878.7,1053.0Q881.4,1045.3 886.5,1039.0" stroke-width="2.2"/><path d="M868.5,1110.0Q885.4,1091.7 885.5,1066.9" stroke-width="3.4"/><path d="M879.0,1094.9Q874.0,1079.1 876.0,1062.7" stroke-width="2.7"/><path d="M876.3,1083.3Q873.5,1073.4 869.1,1064.0" stroke-width="2.2"/><path d="M875.5,1074.6Q864.4,1068.1 861.3,1055.7" stroke-width="2.2"/><path d="M876.0,1062.7Q875.3,1051.8 877.9,1041.1" stroke-width="2.2"/><path d="M879.5,1093.9Q886.8,1081.1 899.1,1072.8" stroke-width="2.7"/><path d="M887.4,1082.9Q896.6,1080.8 905.1,1076.6" stroke-width="2.2"/><path d="M899.1,1072.8Q902.3,1063.4 903.9,1053.5" stroke-width="2.2"/><path d="M885.5,1066.9Q888.0,1054.8 882.4,1043.7" stroke-width="2.7"/><path d="M885.9,1054.8Q882.7,1047.6 885.4,1040.1" stroke-width="2.2"/><path d="M882.4,1043.7Q883.9,1034.8 878.6,1027.5" stroke-width="2.2"/><path d="M867.0,1110.0Q871.4,1089.0 887.6,1074.8" stroke-width="3.4"/><path d="M874.1,1091.1Q884.9,1087.4 891.1,1077.9" stroke-width="2.7"/><path d="M886.2,1083.8Q888.0,1076.1 893.2,1070.2" stroke-width="2.2"/><path d="M882.7,1086.7Q885.5,1080.0 890.1,1074.4" stroke-width="2.2"/><path d="M891.1,1077.9Q899.0,1075.8 904.4,1069.7" stroke-width="2.2"/><path d="M887.6,1074.8Q893.5,1061.5 888.7,1047.8" stroke-width="2.7"/><path d="M890.7,1056.7Q899.0,1050.2 900.9,1039.8" stroke-width="2.2"/><path d="M890.8,1059.3Q890.0,1051.9 889.1,1044.5" stroke-width="2.2"/><path d="M888.7,1047.8Q897.0,1042.0 899.0,1032.1" stroke-width="2.2"/></g>
<path d="M0.0,1105.6C14.8,1107.6 59.3,1111.8 89.0,1117.5C118.7,1123.2 153.3,1132.9 178.0,1140.0C202.7,1147.1 217.2,1155.0 237.0,1160.0C256.8,1165.0 273.2,1167.8 297.0,1170.0C320.8,1172.2 354.5,1171.2 380.0,1173.0C405.5,1174.8 425.0,1178.5 450.0,1181.0C475.0,1183.5 516.7,1186.8 530.0,1188.0L530,1190L0,1190Z" fill="#0b7078"/>
<g fill="#075057"><path d="M215.4,1174.1l2,2l-2,2l-2,-2Z"/><path d="M434.8,1185.6l2,2l-2,2l-2,-2Z"/><path d="M241.1,1178.2l2,2l-2,2l-2,-2Z"/><path d="M90.9,1155.7l2,2l-2,2l-2,-2Z"/><path d="M297.9,1183.9l2,2l-2,2l-2,-2Z"/><path d="M48.8,1138.2l2,2l-2,2l-2,-2Z"/><path d="M47.2,1172.9l2,2l-2,2l-2,-2Z"/><path d="M327.4,1177.8l2,2l-2,2l-2,-2Z"/><path d="M309.1,1182.5l2,2l-2,2l-2,-2Z"/><path d="M78.2,1122.6l2,2l-2,2l-2,-2Z"/><path d="M250.7,1170.2l2,2l-2,2l-2,-2Z"/><path d="M93.4,1139.3l2,2l-2,2l-2,-2Z"/><path d="M19.0,1147.3l2,2l-2,2l-2,-2Z"/><path d="M209.8,1181.4l2,2l-2,2l-2,-2Z"/><path d="M246.4,1179.6l2,2l-2,2l-2,-2Z"/><path d="M237.4,1179.3l2,2l-2,2l-2,-2Z"/><path d="M217.7,1167.2l2,2l-2,2l-2,-2Z"/><path d="M395.7,1184.4l2,2l-2,2l-2,-2Z"/><path d="M151.6,1149.5l2,2l-2,2l-2,-2Z"/><path d="M139.4,1138.9l2,2l-2,2l-2,-2Z"/><path d="M361.3,1181.3l2,2l-2,2l-2,-2Z"/><path d="M398.7,1182.8l2,2l-2,2l-2,-2Z"/><path d="M450.5,1186.2l2,2l-2,2l-2,-2Z"/><path d="M5.3,1127.7l2,2l-2,2l-2,-2Z"/><path d="M428.3,1185.2l2,2l-2,2l-2,-2Z"/><path d="M460.9,1187.2l2,2l-2,2l-2,-2Z"/><path d="M39.0,1160.1l2,2l-2,2l-2,-2Z"/><path d="M367.0,1180.4l2,2l-2,2l-2,-2Z"/><path d="M45.5,1139.9l2,2l-2,2l-2,-2Z"/><path d="M453.3,1186.3l2,2l-2,2l-2,-2Z"/><path d="M59.9,1135.4l2,2l-2,2l-2,-2Z"/><path d="M52.0,1121.9l2,2l-2,2l-2,-2Z"/><path d="M375.6,1180.0l2,2l-2,2l-2,-2Z"/><path d="M265.1,1178.3l2,2l-2,2l-2,-2Z"/><path d="M93.7,1169.5l2,2l-2,2l-2,-2Z"/><path d="M65.9,1162.4l2,2l-2,2l-2,-2Z"/><path d="M59.2,1147.0l2,2l-2,2l-2,-2Z"/><path d="M104.0,1142.6l2,2l-2,2l-2,-2Z"/><path d="M456.5,1186.3l2,2l-2,2l-2,-2Z"/><path d="M146.4,1180.4l2,2l-2,2l-2,-2Z"/><path d="M103.0,1149.9l2,2l-2,2l-2,-2Z"/><path d="M402.3,1184.3l2,2l-2,2l-2,-2Z"/><path d="M51.7,1185.3l2,2l-2,2l-2,-2Z"/><path d="M104.2,1142.0l2,2l-2,2l-2,-2Z"/><path d="M364.3,1180.8l2,2l-2,2l-2,-2Z"/><path d="M142.8,1139.9l2,2l-2,2l-2,-2Z"/><path d="M46.9,1157.3l2,2l-2,2l-2,-2Z"/><path d="M118.0,1163.6l2,2l-2,2l-2,-2Z"/><path d="M177.8,1164.1l2,2l-2,2l-2,-2Z"/><path d="M451.0,1186.6l2,2l-2,2l-2,-2Z"/><path d="M272.2,1184.3l2,2l-2,2l-2,-2Z"/><path d="M90.0,1133.3l2,2l-2,2l-2,-2Z"/><path d="M427.4,1185.7l2,2l-2,2l-2,-2Z"/><path d="M121.0,1141.1l2,2l-2,2l-2,-2Z"/><path d="M348.8,1185.5l2,2l-2,2l-2,-2Z"/><path d="M96.4,1183.0l2,2l-2,2l-2,-2Z"/><path d="M415.2,1184.7l2,2l-2,2l-2,-2Z"/><path d="M201.0,1157.0l2,2l-2,2l-2,-2Z"/></g>
<path d="M4.0,1150 L6.5,1042.5 Q9,1038.75 11.5,1042.5 L14.0,1150Z" fill="url(#tube2)"/>
<path d="M57.5,1165 L60.0,1121.0 Q63,1116.5 66.0,1121.0 L68.5,1165Z" fill="url(#tube)"/>
<path d="M74.0,1145 L77.0,1093.0 Q80,1088.5 83.0,1093.0 L86.0,1145Z" fill="url(#tube)"/>
<path d="M96.5,1150 L99.5,1098.5 Q103,1093.25 106.5,1098.5 L109.5,1150Z" fill="url(#tube)"/>
<path d="M115.5,1185 L118.5,1123.5 Q122,1118.25 125.5,1123.5 L128.5,1185Z" fill="url(#tube)"/>
<path d="M158.5,1160 L161.5,1103.5 Q165,1098.25 168.5,1103.5 L171.5,1160Z" fill="url(#tube)"/>
<path d="M182.0,1160 L185.5,1078.5 Q189,1073.25 192.5,1078.5 L196.0,1160Z" fill="url(#tube)"/>
<path d="M142.5,1180 L145.0,1133.0 Q148,1128.5 151.0,1133.0 L153.5,1180Z" fill="url(#tube)"/>
<path d="M380,1190 L386,1178 Q440,1168 513,1174 Q560,1166 620,1170 Q670,1172 720,1184 L740,1190Z" fill="#0b7078"/>
<g fill="#a7dad9"><circle cx="515.0" cy="1180.8" r="6.4"/><circle cx="520.5" cy="1175.1" r="4.2"/><circle cx="526.0" cy="1179.6" r="5.8"/><circle cx="531.5" cy="1178.4" r="4.8"/><circle cx="537.0" cy="1177.8" r="5.5"/><circle cx="542.5" cy="1177.4" r="4.4"/><circle cx="548.0" cy="1176.4" r="5.0"/><circle cx="553.5" cy="1178.0" r="6.5"/><circle cx="559.0" cy="1179.2" r="5.4"/><circle cx="564.5" cy="1176.0" r="4.7"/><circle cx="570.0" cy="1173.5" r="4.1"/><circle cx="575.5" cy="1176.0" r="4.8"/><circle cx="581.0" cy="1175.4" r="6.2"/><circle cx="586.5" cy="1176.2" r="5.4"/><circle cx="592.0" cy="1174.4" r="4.1"/><circle cx="597.5" cy="1175.0" r="4.3"/><circle cx="603.0" cy="1176.1" r="6.5"/><circle cx="608.5" cy="1177.1" r="4.5"/><circle cx="614.0" cy="1178.4" r="6.0"/><circle cx="619.5" cy="1177.5" r="6.3"/><circle cx="625.0" cy="1177.8" r="6.0"/><circle cx="630.5" cy="1175.4" r="6.5"/><circle cx="636.0" cy="1179.1" r="4.4"/><circle cx="641.5" cy="1178.0" r="5.8"/><circle cx="647.0" cy="1176.4" r="5.3"/><circle cx="652.5" cy="1176.7" r="6.3"/><circle cx="658.0" cy="1177.0" r="6.1"/><circle cx="663.5" cy="1176.3" r="6.2"/><circle cx="669.0" cy="1179.8" r="5.2"/><circle cx="674.5" cy="1178.0" r="6.3"/><circle cx="680.0" cy="1179.2" r="5.2"/><circle cx="685.5" cy="1176.4" r="4.8"/><circle cx="691.0" cy="1179.6" r="4.4"/><circle cx="696.5" cy="1181.1" r="4.7"/><circle cx="702.0" cy="1181.4" r="4.8"/><circle cx="707.5" cy="1182.0" r="5.8"/><circle cx="713.0" cy="1179.7" r="5.3"/><circle cx="718.5" cy="1180.9" r="5.5"/><path d="M506,1190 L513,1176 L722,1180 L738,1190Z"/></g>
<g fill="none" stroke="#7cc4c4" stroke-width="0.9"><path d="M580.8,1181.9a2,2 0 0 1 4,0" /><path d="M619.8,1188.4a2,2 0 0 1 4,0" /><path d="M641.5,1180.7a2,2 0 0 1 4,0" /><path d="M680.0,1186.5a2,2 0 0 1 4,0" /><path d="M697.0,1181.7a2,2 0 0 1 4,0" /><path d="M665.2,1180.5a2,2 0 0 1 4,0" /><path d="M647.3,1182.5a2,2 0 0 1 4,0" /><path d="M564.2,1187.9a2,2 0 0 1 4,0" /><path d="M540.7,1184.7a2,2 0 0 1 4,0" /><path d="M686.5,1182.2a2,2 0 0 1 4,0" /><path d="M561.0,1187.9a2,2 0 0 1 4,0" /><path d="M602.5,1186.5a2,2 0 0 1 4,0" /><path d="M526.2,1183.3a2,2 0 0 1 4,0" /><path d="M553.5,1186.1a2,2 0 0 1 4,0" /><path d="M536.2,1188.6a2,2 0 0 1 4,0" /><path d="M524.9,1186.6a2,2 0 0 1 4,0" /><path d="M524.1,1182.3a2,2 0 0 1 4,0" /><path d="M678.6,1181.4a2,2 0 0 1 4,0" /><path d="M555.8,1186.2a2,2 0 0 1 4,0" /><path d="M595.2,1180.4a2,2 0 0 1 4,0" /><path d="M713.1,1181.4a2,2 0 0 1 4,0" /><path d="M527.1,1183.1a2,2 0 0 1 4,0" /><path d="M640.0,1186.7a2,2 0 0 1 4,0" /><path d="M542.1,1183.0a2,2 0 0 1 4,0" /><path d="M526.0,1184.0a2,2 0 0 1 4,0" /><path d="M669.4,1186.7a2,2 0 0 1 4,0" /><path d="M695.9,1186.8a2,2 0 0 1 4,0" /><path d="M688.2,1186.3a2,2 0 0 1 4,0" /><path d="M612.2,1182.0a2,2 0 0 1 4,0" /><path d="M648.9,1182.8a2,2 0 0 1 4,0" /><path d="M539.9,1184.0a2,2 0 0 1 4,0" /><path d="M690.6,1181.1a2,2 0 0 1 4,0" /><path d="M634.1,1183.5a2,2 0 0 1 4,0" /><path d="M620.4,1181.3a2,2 0 0 1 4,0" /><path d="M707.1,1182.3a2,2 0 0 1 4,0" /><path d="M638.2,1183.8a2,2 0 0 1 4,0" /><path d="M523.5,1185.0a2,2 0 0 1 4,0" /><path d="M547.4,1180.5a2,2 0 0 1 4,0" /><path d="M526.5,1181.5a2,2 0 0 1 4,0" /><path d="M538.7,1185.7a2,2 0 0 1 4,0" /><path d="M619.1,1188.9a2,2 0 0 1 4,0" /><path d="M702.2,1189.0a2,2 0 0 1 4,0" /><path d="M565.3,1184.0a2,2 0 0 1 4,0" /><path d="M568.9,1185.3a2,2 0 0 1 4,0" /><path d="M641.7,1187.2a2,2 0 0 1 4,0" /></g>
<g fill="#cfeae6"><path transform="translate(510.0,1171.1) rotate(-4)" d="M0,-5 Q2.2,0 0,3 Q-2.2,0 0,-5Z"/><path transform="translate(478.5,1166.1) rotate(-23)" d="M0,-5 Q2.2,0 0,3 Q-2.2,0 0,-5Z"/><path transform="translate(458.3,1168.2) rotate(11)" d="M0,-5 Q2.2,0 0,3 Q-2.2,0 0,-5Z"/><path transform="translate(429.4,1168.0) rotate(-16)" d="M0,-5 Q2.2,0 0,3 Q-2.2,0 0,-5Z"/><path transform="translate(427.8,1170.3) rotate(1)" d="M0,-5 Q2.2,0 0,3 Q-2.2,0 0,-5Z"/><path transform="translate(467.9,1172.2) rotate(7)" d="M0,-5 Q2.2,0 0,3 Q-2.2,0 0,-5Z"/><path transform="translate(424.5,1184.1) rotate(23)" d="M0,-5 Q2.2,0 0,3 Q-2.2,0 0,-5Z"/><path transform="translate(513.4,1174.7) rotate(1)" d="M0,-5 Q2.2,0 0,3 Q-2.2,0 0,-5Z"/><path transform="translate(487.9,1167.0) rotate(-4)" d="M0,-5 Q2.2,0 0,3 Q-2.2,0 0,-5Z"/><path transform="translate(478.3,1169.6) rotate(-20)" d="M0,-5 Q2.2,0 0,3 Q-2.2,0 0,-5Z"/><path transform="translate(526.1,1173.3) rotate(1)" d="M0,-5 Q2.2,0 0,3 Q-2.2,0 0,-5Z"/><path transform="translate(546.5,1178.2) rotate(-11)" d="M0,-5 Q2.2,0 0,3 Q-2.2,0 0,-5Z"/><path transform="translate(557.2,1173.4) rotate(-24)" d="M0,-5 Q2.2,0 0,3 Q-2.2,0 0,-5Z"/><path transform="translate(505.9,1168.0) rotate(-10)" d="M0,-5 Q2.2,0 0,3 Q-2.2,0 0,-5Z"/><path transform="translate(532.6,1179.5) rotate(-24)" d="M0,-5 Q2.2,0 0,3 Q-2.2,0 0,-5Z"/><path transform="translate(465.6,1174.2) rotate(-1)" d="M0,-5 Q2.2,0 0,3 Q-2.2,0 0,-5Z"/><path transform="translate(423.8,1177.8) rotate(-21)" d="M0,-5 Q2.2,0 0,3 Q-2.2,0 0,-5Z"/><path transform="translate(436.9,1173.5) rotate(22)" d="M0,-5 Q2.2,0 0,3 Q-2.2,0 0,-5Z"/><path transform="translate(401.2,1181.1) rotate(-15)" d="M0,-5 Q2.2,0 0,3 Q-2.2,0 0,-5Z"/><path transform="translate(486.3,1173.8) rotate(-2)" d="M0,-5 Q2.2,0 0,3 Q-2.2,0 0,-5Z"/><path transform="translate(517.6,1173.9) rotate(-19)" d="M0,-5 Q2.2,0 0,3 Q-2.2,0 0,-5Z"/><path transform="translate(408.9,1167.6) rotate(18)" d="M0,-5 Q2.2,0 0,3 Q-2.2,0 0,-5Z"/><path transform="translate(498.3,1185.2) rotate(10)" d="M0,-5 Q2.2,0 0,3 Q-2.2,0 0,-5Z"/><path transform="translate(392.2,1179.2) rotate(14)" d="M0,-5 Q2.2,0 0,3 Q-2.2,0 0,-5Z"/><path transform="translate(512.4,1176.0) rotate(-7)" d="M0,-5 Q2.2,0 0,3 Q-2.2,0 0,-5Z"/><path transform="translate(466.6,1182.0) rotate(-12)" d="M0,-5 Q2.2,0 0,3 Q-2.2,0 0,-5Z"/><path transform="translate(478.5,1175.6) rotate(23)" d="M0,-5 Q2.2,0 0,3 Q-2.2,0 0,-5Z"/><path transform="translate(526.3,1184.6) rotate(17)" d="M0,-5 Q2.2,0 0,3 Q-2.2,0 0,-5Z"/><path transform="translate(439.0,1170.6) rotate(-1)" d="M0,-5 Q2.2,0 0,3 Q-2.2,0 0,-5Z"/><path transform="translate(432.6,1174.6) rotate(9)" d="M0,-5 Q2.2,0 0,3 Q-2.2,0 0,-5Z"/><path transform="translate(546.0,1177.7) rotate(16)" d="M0,-5 Q2.2,0 0,3 Q-2.2,0 0,-5Z"/><path transform="translate(404.5,1173.1) rotate(25)" d="M0,-5 Q2.2,0 0,3 Q-2.2,0 0,-5Z"/><path transform="translate(413.2,1174.3) rotate(-22)" d="M0,-5 Q2.2,0 0,3 Q-2.2,0 0,-5Z"/><path transform="translate(402.8,1183.9) rotate(24)" d="M0,-5 Q2.2,0 0,3 Q-2.2,0 0,-5Z"/><path transform="translate(499.5,1168.6) rotate(-10)" d="M0,-5 Q2.2,0 0,3 Q-2.2,0 0,-5Z"/><path transform="translate(427.9,1179.4) rotate(9)" d="M0,-5 Q2.2,0 0,3 Q-2.2,0 0,-5Z"/><path transform="translate(463.5,1176.5) rotate(-19)" d="M0,-5 Q2.2,0 0,3 Q-2.2,0 0,-5Z"/><path transform="translate(481.0,1185.0) rotate(13)" d="M0,-5 Q2.2,0 0,3 Q-2.2,0 0,-5Z"/><path transform="translate(404.5,1176.3) rotate(11)" d="M0,-5 Q2.2,0 0,3 Q-2.2,0 0,-5Z"/><path transform="translate(432.2,1183.9) rotate(-2)" d="M0,-5 Q2.2,0 0,3 Q-2.2,0 0,-5Z"/><path transform="translate(509.0,1174.1) rotate(25)" d="M0,-5 Q2.2,0 0,3 Q-2.2,0 0,-5Z"/><path transform="translate(522.6,1177.5) rotate(-18)" d="M0,-5 Q2.2,0 0,3 Q-2.2,0 0,-5Z"/></g>
<path d="M806,1068 Q780,1030 788,1005" stroke="#1c6a6c" stroke-width="1" fill="none"/>
<path d="M815,1062 Q812,1040 798,1020 Q788,1000 792,982" stroke="#1c6a6c" stroke-width="1" fill="none"/>
<path d="M822,1062 Q830,1040 820,1015 Q812,995 818,980" stroke="#1c6a6c" stroke-width="1" fill="none"/>
<circle cx="808" cy="1054.5" r="3" fill="#e5187a"/><circle cx="808" cy="1054.5" r="1.2" fill="#f36d3c"/>
<path d="M770.0,1190.0C772.7,1180.0 782.3,1145.0 786.0,1130.0C789.7,1115.0 789.7,1108.3 792.0,1100.0C794.3,1091.7 797.3,1085.3 800.0,1080.0C802.7,1074.7 804.7,1070.9 808.0,1068.0C811.3,1065.1 815.0,1063.2 820.0,1062.4C825.0,1061.6 833.0,1062.1 838.0,1063.0C843.0,1063.9 846.0,1065.5 850.0,1068.0C854.0,1070.5 857.0,1074.0 862.0,1078.0C867.0,1082.0 873.7,1087.0 880.0,1092.0C886.3,1097.0 892.5,1102.8 900.0,1108.0C907.5,1113.2 917.5,1118.5 925.0,1123.0C932.5,1127.5 937.7,1129.5 945.0,1135.0C952.3,1140.5 961.5,1151.3 969.0,1156.0C976.5,1160.7 983.2,1161.2 990.0,1163.0C996.8,1164.8 1004.7,1162.5 1010.0,1167.0C1015.3,1171.5 1020.0,1186.2 1022.0,1190.0Z" fill="#0b7272"/>
<path d="M790.0,1190.0C790.0,1181.7 789.0,1154.2 790.0,1140.0C791.0,1125.8 793.3,1113.7 796.0,1105.0C798.7,1096.3 801.0,1092.7 806.0,1088.0C811.0,1083.3 820.0,1078.0 826.0,1076.7C832.0,1075.4 837.7,1077.5 842.0,1080.0C846.3,1082.5 849.3,1087.0 852.0,1092.0C854.7,1097.0 853.3,1103.7 858.0,1110.0C862.7,1116.3 872.2,1121.7 880.0,1130.0C887.8,1138.3 896.7,1153.0 905.0,1160.0C913.3,1167.0 922.5,1167.0 930.0,1172.0C937.5,1177.0 946.7,1187.0 950.0,1190.0Z" fill="#05514e"/>
<g stroke="#7ccbea" fill="none" stroke-linecap="round"><path d="M771.7,1152.0Q758.4,1142.1 749.5,1128.2" stroke-width="2.8"/><path d="M753.7,1134.2Q749.5,1123.2 739.3,1117.4" stroke-width="2.2"/><path d="M749.9,1126.9Q743.6,1126.0 738.4,1122.4" stroke-width="1.8"/><path d="M746.7,1123.1Q742.0,1117.1 734.4,1115.8" stroke-width="1.8"/><path d="M739.3,1117.4Q737.3,1109.6 733.0,1102.8" stroke-width="1.8"/><path d="M749.5,1128.2Q740.5,1124.4 732.4,1118.9" stroke-width="2.2"/><path d="M741.7,1124.5Q735.5,1123.6 729.3,1122.2" stroke-width="1.8"/><path d="M732.4,1118.9Q729.5,1112.6 724.9,1107.3" stroke-width="1.8"/><path d="M776.0,1152.0Q772.8,1129.8 753.6,1118.1" stroke-width="2.8"/><path d="M766.7,1129.5Q761.4,1115.6 749.4,1106.8" stroke-width="2.2"/><path d="M756.4,1113.0Q749.9,1105.6 740.6,1102.7" stroke-width="1.8"/><path d="M749.4,1106.8Q742.3,1102.2 734.1,1100.2" stroke-width="1.8"/><path d="M768.2,1131.5Q756.2,1121.0 756.4,1105.1" stroke-width="2.2"/><path d="M756.9,1111.3Q758.7,1102.8 755.3,1094.8" stroke-width="1.8"/><path d="M757.9,1116.1Q758.1,1105.7 751.0,1098.1" stroke-width="1.8"/><path d="M756.4,1105.1Q748.4,1098.3 741.9,1089.9" stroke-width="1.8"/><path d="M753.6,1118.1Q750.8,1107.7 746.0,1098.2" stroke-width="2.2"/><path d="M749.2,1105.1Q750.6,1099.4 751.4,1093.6" stroke-width="1.8"/><path d="M746.0,1098.2Q744.0,1091.7 745.7,1085.2" stroke-width="1.8"/><path d="M771.7,1152.0Q759.9,1141.4 760.9,1125.6" stroke-width="2.8"/><path d="M761.1,1132.2Q753.1,1128.9 750.9,1120.6" stroke-width="2.2"/><path d="M753.9,1126.9Q751.2,1122.1 746.8,1118.9" stroke-width="1.8"/><path d="M750.9,1120.6Q746.6,1117.9 743.2,1114.1" stroke-width="1.8"/><path d="M760.9,1125.6Q756.7,1118.8 749.0,1116.3" stroke-width="2.2"/><path d="M754.3,1118.8Q751.7,1113.5 745.9,1112.2" stroke-width="1.8"/><path d="M755.0,1119.2Q753.4,1114.7 749.8,1111.5" stroke-width="1.8"/><path d="M749.0,1116.3Q744.3,1115.0 739.5,1114.2" stroke-width="1.8"/><path d="M771.8,1152.0Q766.7,1135.2 765.5,1117.7" stroke-width="2.8"/><path d="M766.3,1126.4Q763.5,1113.0 770.0,1100.9" stroke-width="2.2"/><path d="M765.6,1115.1Q766.2,1106.4 767.2,1097.8" stroke-width="1.8"/><path d="M767.2,1107.4Q765.7,1099.2 767.7,1091.2" stroke-width="1.8"/><path d="M770.0,1100.9Q771.1,1092.3 771.7,1083.6" stroke-width="1.8"/><path d="M768.3,1138.1Q758.9,1129.8 754.5,1118.1" stroke-width="2.2"/><path d="M758.1,1125.6Q752.8,1121.0 751.6,1114.2" stroke-width="1.8"/><path d="M754.5,1118.1Q749.6,1112.0 741.9,1110.5" stroke-width="1.8"/><path d="M765.5,1117.7Q763.1,1107.9 759.3,1098.5" stroke-width="2.2"/><path d="M762.8,1108.2Q762.9,1100.7 759.6,1093.8" stroke-width="1.8"/><path d="M760.9,1102.8Q754.9,1100.1 751.7,1094.4" stroke-width="1.8"/><path d="M759.3,1098.5Q756.2,1092.9 752.4,1087.7" stroke-width="1.8"/><path d="M772.3,1152.0Q771.7,1138.2 769.5,1124.5" stroke-width="2.8"/><path d="M771.4,1139.9Q766.7,1133.1 764.8,1125.1" stroke-width="2.2"/><path d="M768.1,1134.3Q762.3,1131.4 760.0,1125.3" stroke-width="1.8"/><path d="M764.8,1125.1Q763.9,1119.3 762.5,1113.6" stroke-width="1.8"/><path d="M770.8,1134.3Q775.1,1126.2 772.1,1117.6" stroke-width="2.2"/><path d="M773.2,1126.3Q775.5,1122.2 773.6,1118.0" stroke-width="1.8"/><path d="M772.1,1117.6Q772.9,1111.8 771.4,1106.1" stroke-width="1.8"/><path d="M769.5,1124.5Q773.4,1116.4 775.8,1107.8" stroke-width="2.2"/><path d="M772.8,1117.0Q771.0,1111.2 772.3,1105.3" stroke-width="1.8"/><path d="M775.8,1107.8Q778.9,1102.6 783.9,1099.1" stroke-width="1.8"/><path d="M776.4,1152.0Q778.2,1134.8 773.5,1118.2" stroke-width="2.8"/><path d="M776.3,1132.2Q780.4,1123.2 782.3,1113.5" stroke-width="2.2"/><path d="M779.5,1124.0Q786.3,1121.1 788.7,1114.1" stroke-width="1.8"/><path d="M780.5,1121.0Q783.2,1115.9 788.5,1113.6" stroke-width="1.8"/><path d="M782.3,1113.5Q785.4,1106.9 785.3,1099.6" stroke-width="1.8"/><path d="M773.5,1118.2Q769.7,1108.0 762.6,1099.5" stroke-width="2.2"/><path d="M768.1,1107.1Q770.9,1101.4 768.4,1095.5" stroke-width="1.8"/><path d="M769.0,1108.6Q763.2,1105.5 757.8,1101.9" stroke-width="1.8"/><path d="M762.6,1099.5Q761.7,1093.2 756.2,1089.9" stroke-width="1.8"/><path d="M773.6,1152.0Q777.0,1135.5 779.7,1118.8" stroke-width="2.8"/><path d="M775.9,1140.4Q778.9,1128.0 785.3,1117.1" stroke-width="2.2"/><path d="M779.1,1130.1Q782.3,1120.8 777.7,1112.2" stroke-width="1.8"/><path d="M785.3,1117.1Q790.8,1109.6 793.3,1100.7" stroke-width="1.8"/><path d="M777.0,1134.6Q775.8,1122.0 779.2,1109.9" stroke-width="2.2"/><path d="M776.8,1125.4Q780.1,1118.5 781.9,1111.1" stroke-width="1.8"/><path d="M779.2,1109.9Q779.7,1100.7 786.5,1094.5" stroke-width="1.8"/><path d="M779.7,1118.8Q785.8,1108.1 790.3,1096.7" stroke-width="2.2"/><path d="M785.0,1108.7Q782.6,1102.4 784.9,1096.1" stroke-width="1.8"/><path d="M785.3,1108.2Q788.8,1102.4 793.8,1097.7" stroke-width="1.8"/><path d="M790.3,1096.7Q794.1,1090.7 795.9,1083.9" stroke-width="1.8"/><path d="M775.6,1152.0Q780.2,1133.2 788.2,1115.6" stroke-width="2.8"/><path d="M781.6,1132.1Q774.7,1120.2 777.8,1106.8" stroke-width="2.2"/><path d="M777.6,1122.2Q781.3,1114.3 781.8,1105.5" stroke-width="1.8"/><path d="M777.8,1106.8Q780.4,1099.1 778.3,1091.1" stroke-width="1.8"/><path d="M782.1,1130.6Q779.0,1116.0 786.2,1103.0" stroke-width="2.2"/><path d="M781.6,1116.2Q788.2,1109.4 787.7,1099.9" stroke-width="1.8"/><path d="M786.2,1103.0Q785.5,1094.4 790.3,1087.3" stroke-width="1.8"/><path d="M788.2,1115.6Q798.0,1105.1 798.4,1090.8" stroke-width="2.2"/><path d="M797.5,1098.3Q805.4,1093.3 809.7,1085.0" stroke-width="1.8"/><path d="M796.4,1102.2Q802.1,1096.9 803.1,1089.3" stroke-width="1.8"/><path d="M798.4,1090.8Q800.2,1083.0 801.0,1075.1" stroke-width="1.8"/><path d="M774.6,1152.0Q776.8,1133.4 787.5,1117.9" stroke-width="2.8"/><path d="M780.7,1129.9Q780.6,1116.4 779.8,1102.9" stroke-width="2.2"/><path d="M780.2,1111.7Q782.8,1102.8 784.1,1093.6" stroke-width="1.8"/><path d="M780.1,1108.7Q775.4,1101.5 773.5,1093.1" stroke-width="1.8"/><path d="M779.8,1102.9Q780.5,1093.5 781.0,1084.1" stroke-width="1.8"/><path d="M778.2,1136.2Q782.3,1128.0 784.3,1119.0" stroke-width="2.2"/><path d="M782.8,1124.8Q785.9,1120.2 786.1,1114.7" stroke-width="1.8"/><path d="M784.3,1119.0Q783.7,1113.4 783.0,1107.8" stroke-width="1.8"/><path d="M787.5,1117.9Q792.1,1108.5 802.1,1105.2" stroke-width="2.2"/><path d="M795.3,1108.6Q800.8,1109.1 804.6,1105.0" stroke-width="1.8"/><path d="M791.7,1111.8Q798.1,1112.3 803.9,1109.5" stroke-width="1.8"/><path d="M802.1,1105.2Q805.8,1100.7 809.7,1096.3" stroke-width="1.8"/><path d="M773.4,1152.0Q786.2,1143.5 789.6,1128.5" stroke-width="2.8"/><path d="M785.1,1139.9Q789.8,1133.6 788.4,1125.8" stroke-width="2.2"/><path d="M788.4,1132.8Q787.1,1127.8 788.3,1122.8" stroke-width="1.8"/><path d="M788.4,1125.8Q786.1,1122.1 786.6,1117.8" stroke-width="1.8"/><path d="M789.6,1128.5Q796.5,1122.5 805.5,1120.9" stroke-width="2.2"/><path d="M797.6,1123.4Q804.3,1124.2 810.1,1120.8" stroke-width="1.8"/><path d="M796.6,1123.9Q797.7,1117.8 802.8,1114.4" stroke-width="1.8"/><path d="M805.5,1120.9Q809.6,1118.4 814.4,1117.5" stroke-width="1.8"/></g>
<g stroke="#7ccbea" fill="none" stroke-linecap="round"><path d="M910.3,1132.0Q896.4,1120.8 894.1,1103.1" stroke-width="2.8"/><path d="M901.8,1123.0Q894.4,1116.7 885.3,1113.1" stroke-width="2.2"/><path d="M892.5,1116.5Q889.8,1110.1 885.5,1104.5" stroke-width="1.8"/><path d="M885.3,1113.1Q878.6,1110.7 872.0,1113.2" stroke-width="1.8"/><path d="M894.1,1103.1Q882.3,1100.9 874.4,1092.0" stroke-width="2.2"/><path d="M878.1,1095.6Q872.7,1092.3 866.5,1093.5" stroke-width="1.8"/><path d="M874.4,1092.0Q873.1,1085.8 868.4,1081.6" stroke-width="1.8"/><path d="M909.3,1132.0Q906.2,1117.5 899.0,1104.5" stroke-width="2.8"/><path d="M904.5,1116.2Q903.2,1107.2 902.6,1098.0" stroke-width="2.2"/><path d="M903.4,1107.4Q905.6,1102.6 903.2,1097.9" stroke-width="1.8"/><path d="M903.4,1107.5Q901.1,1103.3 900.3,1098.5" stroke-width="1.8"/><path d="M902.6,1098.0Q903.1,1092.7 905.5,1088.0" stroke-width="1.8"/><path d="M899.0,1104.5Q901.1,1097.1 898.5,1089.8" stroke-width="2.2"/><path d="M899.7,1094.7Q897.4,1091.6 896.2,1088.0" stroke-width="1.8"/><path d="M898.5,1089.8Q896.8,1085.9 894.2,1082.5" stroke-width="1.8"/><path d="M909.2,1132.0Q900.4,1118.8 904.4,1103.5" stroke-width="2.8"/><path d="M903.6,1118.4Q897.1,1111.1 897.9,1101.4" stroke-width="2.2"/><path d="M898.3,1108.3Q898.1,1102.5 895.0,1097.6" stroke-width="1.8"/><path d="M897.9,1101.4Q896.9,1095.1 892.5,1090.5" stroke-width="1.8"/><path d="M903.2,1111.6Q898.7,1102.7 900.2,1093.0" stroke-width="2.2"/><path d="M900.1,1102.2Q900.0,1095.2 899.8,1088.2" stroke-width="1.8"/><path d="M900.6,1104.4Q897.8,1097.8 891.8,1094.2" stroke-width="1.8"/><path d="M900.2,1093.0Q902.3,1086.8 903.3,1080.3" stroke-width="1.8"/><path d="M904.4,1103.5Q896.7,1097.7 896.5,1088.1" stroke-width="2.2"/><path d="M899.2,1097.9Q895.8,1094.8 894.0,1090.5" stroke-width="1.8"/><path d="M896.5,1088.1Q895.4,1083.2 897.1,1078.5" stroke-width="1.8"/><path d="M911.9,1132.0Q915.7,1111.3 914.5,1090.2" stroke-width="2.8"/><path d="M914.7,1106.0Q927.7,1095.7 928.5,1079.2" stroke-width="2.2"/><path d="M926.7,1089.3Q934.2,1081.9 939.7,1073.0" stroke-width="1.8"/><path d="M923.2,1096.8Q921.0,1084.6 929.2,1075.3" stroke-width="1.8"/><path d="M928.5,1079.2Q930.6,1070.2 931.7,1061.1" stroke-width="1.8"/><path d="M914.5,1090.2Q916.6,1079.4 924.8,1071.9" stroke-width="2.2"/><path d="M916.8,1082.9Q915.5,1076.7 917.1,1070.6" stroke-width="1.8"/><path d="M924.8,1071.9Q924.2,1066.0 925.8,1060.3" stroke-width="1.8"/><path d="M912.8,1132.0Q921.0,1116.6 918.8,1099.3" stroke-width="2.8"/><path d="M918.8,1113.6Q911.8,1106.3 913.3,1096.3" stroke-width="2.2"/><path d="M914.2,1106.3Q911.1,1101.0 908.2,1095.6" stroke-width="1.8"/><path d="M913.3,1096.3Q908.6,1091.5 905.1,1085.6" stroke-width="1.8"/><path d="M918.8,1099.3Q918.9,1091.0 919.2,1082.6" stroke-width="2.2"/><path d="M918.9,1092.7Q921.6,1087.6 921.4,1081.9" stroke-width="1.8"/><path d="M919.2,1082.6Q919.1,1078.2 920.1,1074.0" stroke-width="1.8"/><path d="M911.7,1132.0Q913.4,1111.3 928.1,1096.7" stroke-width="2.8"/><path d="M915.0,1116.8Q914.8,1105.4 921.7,1096.3" stroke-width="2.2"/><path d="M916.9,1104.9Q918.7,1097.3 922.6,1090.5" stroke-width="1.8"/><path d="M921.7,1096.3Q926.4,1092.4 929.3,1087.1" stroke-width="1.8"/><path d="M928.1,1096.7Q936.8,1091.8 943.9,1084.9" stroke-width="2.2"/><path d="M935.0,1092.3Q940.3,1089.1 946.3,1091.0" stroke-width="1.8"/><path d="M943.9,1084.9Q948.5,1081.6 954.0,1080.4" stroke-width="1.8"/><path d="M909.3,1132.0Q920.2,1119.5 923.8,1103.3" stroke-width="2.8"/><path d="M921.9,1110.3Q928.9,1102.6 936.9,1095.8" stroke-width="2.2"/><path d="M928.8,1103.1Q928.9,1096.5 933.6,1091.7" stroke-width="1.8"/><path d="M936.9,1095.8Q940.7,1090.2 945.1,1085.1" stroke-width="1.8"/><path d="M921.2,1112.3Q927.4,1105.5 935.9,1101.8" stroke-width="2.2"/><path d="M926.7,1107.2Q929.2,1101.5 934.8,1099.0" stroke-width="1.8"/><path d="M928.3,1106.0Q933.8,1102.5 935.3,1096.1" stroke-width="1.8"/><path d="M935.9,1101.8Q940.5,1102.0 945.0,1101.0" stroke-width="1.8"/><path d="M923.8,1103.3Q929.1,1093.2 935.9,1083.9" stroke-width="2.2"/><path d="M928.1,1095.7Q934.6,1090.5 938.4,1083.1" stroke-width="1.8"/><path d="M935.9,1083.9Q940.1,1077.5 946.2,1072.9" stroke-width="1.8"/><path d="M913.2,1132.0Q922.2,1119.9 933.7,1110.2" stroke-width="2.8"/><path d="M928.9,1114.4Q936.5,1106.8 937.1,1096.0" stroke-width="2.2"/><path d="M936.4,1100.8Q934.6,1093.7 935.6,1086.4" stroke-width="1.8"/><path d="M935.0,1105.4Q939.8,1102.6 941.8,1097.5" stroke-width="1.8"/><path d="M937.1,1096.0Q943.8,1094.1 948.0,1088.6" stroke-width="1.8"/><path d="M933.7,1110.2Q936.4,1101.4 939.8,1092.9" stroke-width="2.2"/><path d="M936.2,1102.6Q938.5,1097.6 941.5,1092.8" stroke-width="1.8"/><path d="M939.8,1092.9Q942.3,1088.5 947.0,1086.4" stroke-width="1.8"/><path d="M910.6,1132.0Q920.1,1119.5 934.4,1112.8" stroke-width="2.8"/><path d="M921.4,1120.8Q924.5,1111.4 930.6,1103.6" stroke-width="2.2"/><path d="M928.2,1106.8Q932.0,1102.9 935.4,1098.8" stroke-width="1.8"/><path d="M930.6,1103.6Q934.0,1098.7 938.1,1094.3" stroke-width="1.8"/><path d="M934.4,1112.8Q942.1,1105.4 947.2,1095.9" stroke-width="2.2"/><path d="M943.7,1101.7Q948.7,1096.3 948.4,1089.0" stroke-width="1.8"/><path d="M947.2,1095.9Q952.0,1090.5 956.1,1084.7" stroke-width="1.8"/><path d="M909.2,1132.0Q923.4,1123.8 936.0,1113.2" stroke-width="2.8"/><path d="M928.2,1119.4Q937.2,1118.9 946.2,1117.8" stroke-width="2.2"/><path d="M940.2,1118.4Q946.1,1114.7 952.9,1116.5" stroke-width="1.8"/><path d="M946.2,1117.8Q953.1,1118.8 958.5,1123.1" stroke-width="1.8"/><path d="M936.0,1113.2Q947.4,1113.8 958.4,1110.5" stroke-width="2.2"/><path d="M952.3,1112.0Q959.9,1108.5 968.2,1109.3" stroke-width="1.8"/><path d="M958.4,1110.5Q965.0,1111.1 970.9,1114.1" stroke-width="1.8"/></g>
<g stroke="#7ccbea" fill="none" stroke-linecap="round"><path d="M735.8,1200.0Q725.3,1190.1 711.6,1185.6" stroke-width="2.4"/><path d="M718.3,1188.2Q708.5,1187.0 703.4,1178.6" stroke-width="1.9"/><path d="M705.9,1182.0Q700.4,1179.7 694.8,1177.7" stroke-width="1.5"/><path d="M710.0,1185.4Q707.0,1182.0 703.4,1179.1" stroke-width="1.5"/><path d="M703.4,1178.6Q697.1,1176.3 692.7,1171.4" stroke-width="1.5"/><path d="M718.6,1188.4Q712.7,1180.1 703.8,1175.1" stroke-width="1.9"/><path d="M710.4,1179.6Q709.2,1174.0 704.2,1171.2" stroke-width="1.5"/><path d="M703.8,1175.1Q703.7,1169.2 700.5,1164.3" stroke-width="1.5"/><path d="M711.6,1185.6Q709.2,1175.5 700.8,1169.5" stroke-width="1.9"/><path d="M705.3,1173.6Q703.0,1168.4 699.2,1164.2" stroke-width="1.5"/><path d="M700.8,1169.5Q698.9,1163.6 695.8,1158.2" stroke-width="1.5"/><path d="M737.3,1200.0Q727.6,1193.0 720.1,1183.8" stroke-width="2.4"/><path d="M726.4,1190.8Q721.2,1186.4 714.4,1186.6" stroke-width="1.9"/><path d="M722.6,1188.3Q718.6,1188.7 715.3,1186.5" stroke-width="1.5"/><path d="M714.4,1186.6Q711.0,1185.0 707.9,1182.7" stroke-width="1.5"/><path d="M724.7,1189.0Q718.0,1185.3 715.2,1178.1" stroke-width="1.9"/><path d="M720.1,1185.6Q716.4,1183.3 714.4,1179.2" stroke-width="1.5"/><path d="M715.2,1178.1Q711.5,1173.6 705.7,1173.8" stroke-width="1.5"/><path d="M720.1,1183.8Q716.0,1177.7 710.0,1173.4" stroke-width="1.9"/><path d="M713.0,1175.8Q711.6,1171.0 710.0,1166.4" stroke-width="1.5"/><path d="M713.9,1176.5Q713.2,1171.1 710.4,1166.5" stroke-width="1.5"/><path d="M710.0,1173.4Q705.8,1170.2 701.0,1167.8" stroke-width="1.5"/><path d="M735.7,1200.0Q728.6,1188.1 719.0,1178.1" stroke-width="2.4"/><path d="M728.1,1188.7Q723.6,1181.8 726.0,1173.9" stroke-width="1.9"/><path d="M725.3,1181.7Q728.9,1177.2 729.2,1171.5" stroke-width="1.5"/><path d="M725.2,1179.0Q721.9,1175.2 722.4,1170.3" stroke-width="1.5"/><path d="M726.0,1173.9Q725.0,1169.1 722.8,1164.6" stroke-width="1.5"/><path d="M719.0,1178.1Q720.9,1168.2 714.5,1160.3" stroke-width="1.9"/><path d="M718.1,1166.4Q720.1,1161.3 718.0,1156.2" stroke-width="1.5"/><path d="M718.9,1169.2Q719.7,1163.1 717.1,1157.6" stroke-width="1.5"/><path d="M714.5,1160.3Q713.1,1153.1 706.9,1149.2" stroke-width="1.5"/><path d="M736.6,1200.0Q726.0,1190.4 727.2,1176.0" stroke-width="2.4"/><path d="M728.8,1188.8Q732.3,1181.9 729.2,1174.9" stroke-width="1.9"/><path d="M730.4,1178.9Q730.7,1175.0 727.8,1172.3" stroke-width="1.5"/><path d="M729.2,1174.9Q732.0,1170.8 732.4,1165.8" stroke-width="1.5"/><path d="M730.0,1191.5Q723.6,1184.8 721.0,1175.9" stroke-width="1.9"/><path d="M722.3,1179.6Q723.8,1172.7 719.3,1167.2" stroke-width="1.5"/><path d="M721.0,1175.9Q715.0,1173.5 709.7,1169.8" stroke-width="1.5"/><path d="M727.2,1176.0Q724.5,1169.7 719.9,1164.5" stroke-width="1.9"/><path d="M723.8,1169.7Q721.4,1166.4 721.6,1162.2" stroke-width="1.5"/><path d="M719.9,1164.5Q718.4,1159.7 714.9,1156.2" stroke-width="1.5"/><path d="M735.2,1200.0Q732.1,1189.8 728.7,1179.6" stroke-width="2.4"/><path d="M731.7,1188.6Q733.6,1182.3 729.9,1176.8" stroke-width="1.9"/><path d="M732.3,1183.5Q731.3,1179.4 728.4,1176.3" stroke-width="1.5"/><path d="M729.9,1176.8Q729.8,1172.6 729.7,1168.4" stroke-width="1.5"/><path d="M728.7,1179.6Q724.3,1173.5 726.1,1166.1" stroke-width="1.9"/><path d="M726.0,1173.8Q722.2,1172.2 721.2,1168.2" stroke-width="1.5"/><path d="M726.1,1166.1Q723.2,1163.4 723.4,1159.3" stroke-width="1.5"/><path d="M737.7,1200.0Q733.8,1188.4 737.2,1176.7" stroke-width="2.4"/><path d="M735.9,1182.9Q739.0,1177.2 738.0,1170.7" stroke-width="1.9"/><path d="M738.2,1175.4Q740.1,1171.5 742.0,1167.5" stroke-width="1.5"/><path d="M738.0,1170.7Q738.8,1166.1 742.1,1162.8" stroke-width="1.5"/><path d="M737.2,1176.7Q741.7,1170.0 742.9,1162.0" stroke-width="1.9"/><path d="M742.1,1165.8Q743.7,1161.6 746.5,1158.1" stroke-width="1.5"/><path d="M742.9,1162.0Q747.4,1158.7 751.5,1154.9" stroke-width="1.5"/><path d="M732.6,1200.0Q739.1,1186.9 736.2,1172.6" stroke-width="2.4"/><path d="M737.1,1180.5Q736.0,1172.9 732.5,1166.0" stroke-width="1.9"/><path d="M734.2,1169.8Q730.5,1167.5 728.6,1163.5" stroke-width="1.5"/><path d="M732.5,1166.0Q734.9,1161.9 734.2,1157.1" stroke-width="1.5"/><path d="M736.2,1172.6Q739.0,1164.0 746.0,1158.2" stroke-width="1.9"/><path d="M743.3,1160.7Q748.4,1158.5 752.8,1155.2" stroke-width="1.5"/><path d="M746.0,1158.2Q747.5,1151.7 753.7,1149.0" stroke-width="1.5"/><path d="M735.0,1200.0Q738.5,1189.0 742.9,1178.3" stroke-width="2.4"/><path d="M739.1,1188.1Q741.5,1179.9 746.5,1172.9" stroke-width="1.9"/><path d="M741.9,1180.7Q744.5,1175.2 744.7,1169.0" stroke-width="1.5"/><path d="M746.5,1172.9Q749.5,1167.0 755.6,1164.5" stroke-width="1.5"/><path d="M740.5,1184.5Q738.2,1177.4 740.6,1170.3" stroke-width="1.9"/><path d="M739.4,1177.9Q739.7,1173.4 738.8,1169.1" stroke-width="1.5"/><path d="M740.6,1170.3Q741.7,1166.6 742.3,1162.7" stroke-width="1.5"/><path d="M742.9,1178.3Q742.4,1170.4 743.9,1162.6" stroke-width="1.9"/><path d="M743.1,1167.5Q744.6,1162.3 748.8,1159.0" stroke-width="1.5"/><path d="M742.9,1170.9Q742.0,1165.3 738.0,1161.2" stroke-width="1.5"/><path d="M743.9,1162.6Q742.7,1158.1 744.5,1153.9" stroke-width="1.5"/></g>
<path d="M865.8,1127.2C865.2,1128.9 863.0,1130.9 860.8,1132.3C858.7,1133.8 856.7,1135.1 852.8,1135.9C848.9,1136.7 842.9,1136.8 837.5,1137.1C832.0,1137.4 825.8,1137.9 820.3,1137.7C814.8,1137.5 808.9,1136.8 804.3,1135.8C799.8,1134.8 794.8,1133.1 793.0,1131.7C791.2,1130.2 793.6,1128.6 793.7,1127.2C793.9,1125.8 791.9,1124.5 793.7,1123.1C795.6,1121.7 800.3,1119.9 804.9,1118.7C809.5,1117.5 816.0,1116.6 821.3,1116.1C826.6,1115.6 831.2,1115.2 836.7,1115.8C842.1,1116.4 849.3,1118.6 853.9,1119.7C858.5,1120.8 862.3,1121.1 864.3,1122.3C866.3,1123.6 866.4,1125.5 865.8,1127.2Z" fill="#137493"/>
<g fill="#3fb5d8"><circle cx="848.7" cy="1131.5" r="0.9"/><circle cx="852.1" cy="1132.2" r="0.9"/><circle cx="816.4" cy="1120.3" r="0.9"/><circle cx="847.1" cy="1128.6" r="0.9"/><circle cx="809.7" cy="1123.2" r="0.9"/><circle cx="842.3" cy="1133.6" r="0.9"/><circle cx="839.6" cy="1123.8" r="0.9"/><circle cx="845.9" cy="1132.1" r="0.9"/><circle cx="805.9" cy="1130.6" r="0.9"/><circle cx="807.7" cy="1127.4" r="0.9"/><circle cx="841.4" cy="1127.6" r="0.9"/><circle cx="801.0" cy="1128.9" r="0.9"/><circle cx="802.8" cy="1130.1" r="0.9"/><circle cx="798.1" cy="1125.5" r="0.9"/><circle cx="818.2" cy="1123.7" r="0.9"/><circle cx="834.6" cy="1128.7" r="0.9"/><circle cx="859.6" cy="1128.9" r="0.9"/><circle cx="849.8" cy="1122.6" r="0.9"/><circle cx="850.4" cy="1131.1" r="0.9"/><circle cx="851.3" cy="1132.3" r="0.9"/><circle cx="812.5" cy="1121.8" r="0.9"/><circle cx="812.0" cy="1124.1" r="0.9"/><circle cx="848.3" cy="1121.2" r="0.9"/><circle cx="830.2" cy="1132.2" r="0.9"/><circle cx="826.1" cy="1121.0" r="0.9"/><circle cx="809.7" cy="1129.9" r="0.9"/><circle cx="846.5" cy="1126.4" r="0.9"/><circle cx="835.7" cy="1133.2" r="0.9"/></g>
<path d="M846.3,1148.0C846.4,1149.4 843.3,1150.9 841.5,1152.4C839.6,1153.9 838.2,1156.2 835.1,1157.1C832.0,1157.9 827.2,1157.4 822.9,1157.4C818.6,1157.4 813.4,1157.3 809.3,1157.2C805.2,1157.1 801.2,1157.4 798.2,1156.6C795.2,1155.8 793.5,1153.8 791.3,1152.3C789.2,1150.9 785.4,1149.5 785.3,1148.0C785.1,1146.5 788.6,1144.3 790.4,1143.1C792.2,1141.9 793.2,1141.7 796.2,1140.7C799.3,1139.6 804.5,1137.0 808.8,1136.6C813.2,1136.3 817.7,1137.9 822.2,1138.4C826.7,1138.9 832.8,1138.9 835.9,1139.8C838.9,1140.7 838.8,1142.4 840.6,1143.8C842.3,1145.2 846.1,1146.6 846.3,1148.0Z" fill="#137493"/>
<g fill="#3fb5d8"><circle cx="827.8" cy="1143.0" r="0.9"/><circle cx="823.9" cy="1141.7" r="0.9"/><circle cx="790.0" cy="1146.2" r="0.9"/><circle cx="801.4" cy="1152.0" r="0.9"/><circle cx="825.9" cy="1142.6" r="0.9"/><circle cx="829.0" cy="1143.4" r="0.9"/><circle cx="814.2" cy="1146.4" r="0.9"/><circle cx="817.8" cy="1152.2" r="0.9"/><circle cx="827.2" cy="1149.8" r="0.9"/><circle cx="827.2" cy="1150.5" r="0.9"/><circle cx="805.1" cy="1144.4" r="0.9"/><circle cx="807.4" cy="1150.6" r="0.9"/><circle cx="813.0" cy="1155.6" r="0.9"/><circle cx="803.3" cy="1143.1" r="0.9"/><circle cx="826.7" cy="1153.9" r="0.9"/><circle cx="824.4" cy="1152.1" r="0.9"/><circle cx="837.2" cy="1147.6" r="0.9"/><circle cx="795.0" cy="1145.7" r="0.9"/><circle cx="828.8" cy="1142.2" r="0.9"/><circle cx="816.4" cy="1149.4" r="0.9"/><circle cx="810.2" cy="1151.7" r="0.9"/><circle cx="822.1" cy="1155.4" r="0.9"/><circle cx="826.5" cy="1144.9" r="0.9"/></g>
<path d="M921.4,1143.7C921.2,1144.7 920.6,1145.9 919.4,1146.9C918.1,1148.0 916.7,1149.4 913.8,1150.1C910.9,1150.8 906.0,1150.9 902.1,1151.0C898.2,1151.1 894.2,1151.0 890.4,1150.9C886.5,1150.7 882.4,1150.8 879.1,1150.2C875.9,1149.6 872.6,1148.3 870.8,1147.2C869.1,1146.1 868.8,1144.9 868.6,1143.7C868.4,1142.5 867.7,1141.0 869.4,1140.1C871.2,1139.3 875.7,1139.2 879.1,1138.5C882.5,1137.9 885.9,1136.8 889.8,1136.4C893.7,1136.0 898.6,1136.0 902.5,1136.2C906.4,1136.4 910.3,1136.9 913.3,1137.7C916.3,1138.5 919.1,1139.9 920.4,1140.9C921.8,1141.9 921.6,1142.7 921.4,1143.7Z" fill="#5dc3ee"/>
<g fill="#d8eff8"><circle cx="918.5" cy="1145.7" r="0.9"/><circle cx="903.2" cy="1141.2" r="0.9"/><circle cx="909.9" cy="1141.2" r="0.9"/><circle cx="914.5" cy="1146.7" r="0.9"/><circle cx="875.1" cy="1141.1" r="0.9"/><circle cx="892.7" cy="1142.2" r="0.9"/><circle cx="880.1" cy="1140.4" r="0.9"/><circle cx="907.6" cy="1141.9" r="0.9"/><circle cx="875.4" cy="1142.9" r="0.9"/><circle cx="907.5" cy="1148.0" r="0.9"/><circle cx="897.1" cy="1142.5" r="0.9"/><circle cx="883.2" cy="1141.9" r="0.9"/><circle cx="903.6" cy="1147.5" r="0.9"/><circle cx="914.3" cy="1142.9" r="0.9"/><circle cx="909.3" cy="1146.2" r="0.9"/></g>
<path d="M927.3,1157.0C927.8,1157.9 928.2,1159.0 926.8,1159.7C925.4,1160.5 921.5,1161.2 918.8,1161.7C916.1,1162.2 913.3,1162.5 910.4,1162.8C907.5,1163.2 904.6,1163.9 901.4,1163.9C898.1,1163.8 893.6,1163.4 891.1,1162.8C888.7,1162.1 888.0,1160.9 886.7,1160.0C885.4,1159.0 883.2,1158.0 883.4,1157.0C883.5,1156.0 886.4,1154.5 887.8,1153.7C889.2,1152.8 889.8,1152.6 892.0,1152.2C894.3,1151.7 898.2,1151.2 901.4,1151.0C904.6,1150.8 908.1,1151.0 911.2,1151.0C914.2,1150.9 917.7,1150.2 919.8,1150.8C921.9,1151.3 922.6,1153.0 923.9,1154.1C925.1,1155.1 926.8,1156.1 927.3,1157.0Z" fill="#5dc3ee"/>
<g fill="#d8eff8"><circle cx="887.2" cy="1157.7" r="0.9"/><circle cx="909.7" cy="1159.4" r="0.9"/><circle cx="906.0" cy="1158.1" r="0.9"/><circle cx="897.7" cy="1153.0" r="0.9"/><circle cx="902.4" cy="1157.4" r="0.9"/><circle cx="902.1" cy="1152.8" r="0.9"/><circle cx="899.5" cy="1154.6" r="0.9"/><circle cx="913.5" cy="1153.5" r="0.9"/><circle cx="893.7" cy="1155.0" r="0.9"/><circle cx="907.3" cy="1160.4" r="0.9"/><circle cx="910.3" cy="1153.0" r="0.9"/></g>
<path d="M813.1,1175.0C813.1,1177.1 809.7,1179.8 806.2,1181.6C802.7,1183.4 797.8,1184.5 792.2,1185.7C786.6,1186.9 779.7,1187.8 772.5,1188.8C765.4,1189.8 756.3,1191.9 749.2,1191.7C742.1,1191.6 735.5,1189.5 729.8,1188.0C724.1,1186.4 719.4,1184.7 715.1,1182.6C710.8,1180.4 705.2,1177.5 704.1,1175.0C703.0,1172.5 704.5,1169.6 708.7,1167.6C713.0,1165.6 723.0,1164.5 729.6,1162.8C736.2,1161.1 741.2,1157.8 748.3,1157.4C755.5,1157.0 764.3,1160.0 772.3,1160.6C780.3,1161.1 790.9,1159.4 796.5,1160.8C802.2,1162.1 803.6,1166.5 806.3,1168.9C809.1,1171.3 813.1,1172.9 813.1,1175.0Z" fill="#0aa6cd"/>
<g fill="#0890b4"><circle cx="761.1" cy="1168.6" r="0.9"/><circle cx="726.0" cy="1182.0" r="0.9"/><circle cx="759.8" cy="1165.7" r="0.9"/><circle cx="789.3" cy="1167.8" r="0.9"/><circle cx="775.5" cy="1166.5" r="0.9"/><circle cx="750.9" cy="1173.5" r="0.9"/><circle cx="800.5" cy="1169.1" r="0.9"/><circle cx="737.8" cy="1182.3" r="0.9"/><circle cx="795.5" cy="1175.9" r="0.9"/><circle cx="741.9" cy="1170.7" r="0.9"/><circle cx="722.3" cy="1180.4" r="0.9"/><circle cx="781.5" cy="1181.1" r="0.9"/><circle cx="787.0" cy="1178.7" r="0.9"/><circle cx="789.4" cy="1169.0" r="0.9"/><circle cx="805.7" cy="1176.9" r="0.9"/><circle cx="741.6" cy="1168.1" r="0.9"/><circle cx="754.4" cy="1181.1" r="0.9"/><circle cx="776.8" cy="1183.2" r="0.9"/><circle cx="806.4" cy="1178.4" r="0.9"/><circle cx="791.9" cy="1180.4" r="0.9"/><circle cx="734.6" cy="1171.8" r="0.9"/><circle cx="755.1" cy="1182.5" r="0.9"/><circle cx="737.7" cy="1184.9" r="0.9"/><circle cx="739.2" cy="1168.5" r="0.9"/><circle cx="743.0" cy="1168.1" r="0.9"/><circle cx="765.3" cy="1176.4" r="0.9"/><circle cx="805.3" cy="1173.0" r="0.9"/><circle cx="792.7" cy="1180.0" r="0.9"/><circle cx="771.1" cy="1164.4" r="0.9"/><circle cx="777.3" cy="1176.6" r="0.9"/><circle cx="731.1" cy="1180.6" r="0.9"/><circle cx="796.5" cy="1179.7" r="0.9"/><circle cx="761.9" cy="1167.4" r="0.9"/><circle cx="778.8" cy="1169.2" r="0.9"/><circle cx="776.1" cy="1168.9" r="0.9"/><circle cx="736.2" cy="1179.1" r="0.9"/><circle cx="749.4" cy="1164.6" r="0.9"/><circle cx="794.9" cy="1178.9" r="0.9"/><circle cx="781.9" cy="1166.8" r="0.9"/><circle cx="763.9" cy="1181.9" r="0.9"/><circle cx="778.2" cy="1171.5" r="0.9"/><circle cx="790.4" cy="1173.0" r="0.9"/><circle cx="719.8" cy="1173.8" r="0.9"/><circle cx="745.1" cy="1167.0" r="0.9"/><circle cx="787.4" cy="1168.2" r="0.9"/><circle cx="795.2" cy="1170.4" r="0.9"/><circle cx="750.9" cy="1173.6" r="0.9"/><circle cx="780.7" cy="1172.0" r="0.9"/><circle cx="762.6" cy="1177.5" r="0.9"/><circle cx="739.2" cy="1170.2" r="0.9"/><circle cx="735.4" cy="1166.6" r="0.9"/><circle cx="802.1" cy="1171.3" r="0.9"/><circle cx="776.9" cy="1169.0" r="0.9"/><circle cx="801.7" cy="1178.3" r="0.9"/><circle cx="794.4" cy="1174.8" r="0.9"/><circle cx="790.7" cy="1169.9" r="0.9"/><circle cx="727.2" cy="1181.9" r="0.9"/><circle cx="788.3" cy="1177.6" r="0.9"/><circle cx="756.2" cy="1171.9" r="0.9"/><circle cx="732.0" cy="1172.6" r="0.9"/><circle cx="766.7" cy="1182.2" r="0.9"/><circle cx="759.2" cy="1165.6" r="0.9"/></g>
<g transform="translate(730,1167) scale(0.8)"><path d="M-3,0 L-5,-18 Q-3,-23 2,-19 L3,0Z" fill="#a9dcd0"/><path d="M2,0 L6,-22 Q10,-27 13,-22 L9,0Z" fill="#8fcfc3"/><path d="M-9,0 L-14,-12 Q-12,-17 -7,-14 L-3,0Z" fill="#a9dcd0"/><path d="M8,0 L13,-11 Q17,-14 19,-9 L13,0Z" fill="#a9dcd0"/></g>
<g transform="translate(880,1136) scale(0.85)"><path d="M-3,0 L-5,-18 Q-3,-23 2,-19 L3,0Z" fill="#a9dcd0"/><path d="M2,0 L6,-22 Q10,-27 13,-22 L9,0Z" fill="#8fcfc3"/><path d="M-9,0 L-14,-12 Q-12,-17 -7,-14 L-3,0Z" fill="#a9dcd0"/><path d="M8,0 L13,-11 Q17,-14 19,-9 L13,0Z" fill="#a9dcd0"/></g>
<g stroke="#cbbcb8" fill="none" stroke-linecap="round"><path d="M700.0,1175.0Q694.9,1172.1 692.4,1166.7" stroke-width="3.0"/><path d="M694.0,1169.5Q690.4,1167.5 687.1,1165.2" stroke-width="2.4"/><path d="M692.4,1166.7Q689.7,1164.1 687.1,1161.4" stroke-width="2.4"/><path d="M701.0,1175.0Q700.7,1168.6 697.8,1163.0" stroke-width="3.0"/><path d="M698.9,1165.4Q700.0,1162.4 699.7,1159.1" stroke-width="2.4"/><path d="M699.8,1168.0Q699.7,1164.6 700.4,1161.3" stroke-width="2.4"/><path d="M697.8,1163.0Q694.4,1159.8 694.3,1155.1" stroke-width="2.4"/><path d="M698.2,1175.0Q700.6,1168.2 702.1,1161.2" stroke-width="3.0"/><path d="M700.6,1167.3Q702.9,1162.2 707.8,1159.3" stroke-width="2.4"/><path d="M702.1,1161.2Q704.8,1156.9 708.2,1153.1" stroke-width="2.4"/><path d="M702.9,1175.0Q709.2,1171.7 710.6,1164.7" stroke-width="3.0"/><path d="M709.7,1167.8Q714.2,1166.2 718.2,1163.4" stroke-width="2.4"/><path d="M710.6,1164.7Q712.3,1160.1 716.1,1157.0" stroke-width="2.4"/></g>
<text x="1003.8" y="570.7" font-size="25.6" fill="#12718f" font-weight="bold" textLength="335.5" lengthAdjust="spacingAndGlyphs" >MPAs CAN PUMP FISH INTO ADJACENT AREAS</text>
<path d="M1455,580.5 L1000,580.5 Q994,580.5 991,585.5 L953,656.5" stroke="#1ea0c8" stroke-width="1.5" fill="none"/>
<circle cx="953" cy="656.5" r="3.3" fill="#1ea0c8"/>
<text x="1001.4" y="602.7" font-size="15.2" fill="#555b62" textLength="433.5" lengthAdjust="spacingAndGlyphs" >As fish populations recover within MPAs, juveniles and adults can</text>
<text x="1001.4" y="620.6" font-size="15.2" fill="#555b62" textLength="414.0" lengthAdjust="spacingAndGlyphs" >spill over across the boundaries and replenish fishing grounds.</text>
<text x="1003.8" y="658.3" font-size="18.6" fill="#1ba3ce" font-weight="bold" textLength="311.0" lengthAdjust="spacingAndGlyphs" >EXAMPLE: APO ISLAND PROTECTED AREA, PHILIPPINES</text>
<text x="1001.4" y="681.4" font-size="15.2" fill="#555b62" textLength="433.0" lengthAdjust="spacingAndGlyphs" >Surgeonfish and jackfish represent 40-75% of local fishery yields.</text>
<g transform="translate(1017.8,711.4)"><path d="M-20,-4.5 Q-14,-4 -9,-0.5 Q-2,-6.5 6,-6 Q15,-5 20,0.5 Q15,5.5 7,6.2 Q-2,6.5 -9,1.5 Q-14,4.5 -20,5 Q-16,0.5 -20,-4.5Z" fill="#f6a81f"/><path d="M-1,-5.8 L3,-9.5 L8,-5.9Z M0,6 L2,9 L6,6.2Z" fill="#f6a81f"/><path d="M9,-3 L11,3 M10.5,-2.5 L12.5,2" stroke="#fde9c0" stroke-width="0.6"/></g>
<g transform="translate(1056.5,728.6)"><path d="M-20,-4.5 Q-14,-4 -9,-0.5 Q-2,-6.5 6,-6 Q15,-5 20,0.5 Q15,5.5 7,6.2 Q-2,6.5 -9,1.5 Q-14,4.5 -20,5 Q-16,0.5 -20,-4.5Z" fill="#f08720"/><path d="M-1,-5.8 L3,-9.5 L8,-5.9Z M0,6 L2,9 L6,6.2Z" fill="#f08720"/><path d="M9,-3 L11,3 M10.5,-2.5 L12.5,2" stroke="#fde9c0" stroke-width="0.6"/></g>
<g transform="translate(1019.3,745.5)"><path d="M-20,-4.5 Q-14,-4 -9,-0.5 Q-2,-6.5 6,-6 Q15,-5 20,0.5 Q15,5.5 7,6.2 Q-2,6.5 -9,1.5 Q-14,4.5 -20,5 Q-16,0.5 -20,-4.5Z" fill="#ea8022"/><path d="M-1,-5.8 L3,-9.5 L8,-5.9Z M0,6 L2,9 L6,6.2Z" fill="#ea8022"/><path d="M9,-3 L11,3 M10.5,-2.5 L12.5,2" stroke="#fde9c0" stroke-width="0.6"/></g>
<g transform="translate(1088.4,746.4)"><path d="M-20,-4.5 Q-14,-4 -9,-0.5 Q-2,-6.5 6,-6 Q15,-5 20,0.5 Q15,5.5 7,6.2 Q-2,6.5 -9,1.5 Q-14,4.5 -20,5 Q-16,0.5 -20,-4.5Z" fill="#f6a81f"/><path d="M-1,-5.8 L3,-9.5 L8,-5.9Z M0,6 L2,9 L6,6.2Z" fill="#f6a81f"/><path d="M9,-3 L11,3 M10.5,-2.5 L12.5,2" stroke="#fde9c0" stroke-width="0.6"/></g>
<g transform="translate(1059.2,762.7)"><path d="M-20,-4.5 Q-14,-4 -9,-0.5 Q-2,-6.5 6,-6 Q15,-5 20,0.5 Q15,5.5 7,6.2 Q-2,6.5 -9,1.5 Q-14,4.5 -20,5 Q-16,0.5 -20,-4.5Z" fill="#f08720"/><path d="M-1,-5.8 L3,-9.5 L8,-5.9Z M0,6 L2,9 L6,6.2Z" fill="#f08720"/><path d="M9,-3 L11,3 M10.5,-2.5 L12.5,2" stroke="#fde9c0" stroke-width="0.6"/></g>
<g transform="translate(1019,776.7)"><path d="M-20,-4.5 Q-14,-4 -9,-0.5 Q-2,-6.5 6,-6 Q15,-5 20,0.5 Q15,5.5 7,6.2 Q-2,6.5 -9,1.5 Q-14,4.5 -20,5 Q-16,0.5 -20,-4.5Z" fill="#f6a81f"/><path d="M-1,-5.8 L3,-9.5 L8,-5.9Z M0,6 L2,9 L6,6.2Z" fill="#f6a81f"/><path d="M9,-3 L11,3 M10.5,-2.5 L12.5,2" stroke="#fde9c0" stroke-width="0.6"/></g>
<text x="1127.0" y="721.2" font-size="14.2" fill="#555b62" textLength="91.5" lengthAdjust="spacingAndGlyphs" >Since the MPA</text>
<text x="1127.0" y="737.2" font-size="14.2" fill="#555b62" textLength="103.3" lengthAdjust="spacingAndGlyphs" >was established,</text>
<text x="1127.0" y="753.1" font-size="14.2" fill="#555b62" textLength="95.5" lengthAdjust="spacingAndGlyphs" >their population</text>
<text x="1127.0" y="769.1" font-size="14.2" fill="#555b62" textLength="75.5" lengthAdjust="spacingAndGlyphs" >has tripled...</text>
<path d="M1272,703.4 L1272,717" stroke="#f6a21e" stroke-width="1" fill="none"/>
<path d="M1272,716 L1272,772 Q1272,785 1283.5,785 Q1295,785 1295,772 L1295.8,742 L1285,763" stroke="#f6a21e" stroke-width="3.6" fill="none" stroke-linejoin="miter"/>
<path d="M1296.4,739 L1294,760 L1284,764Z" fill="#f6a21e"/>
<text x="1315.5" y="716.1" font-size="14.2" fill="#555b62" textLength="99.0" lengthAdjust="spacingAndGlyphs" >...resulting in an</text>
<text x="1315.5" y="732.1" font-size="14.2" fill="#555b62" textLength="104.5" lengthAdjust="spacingAndGlyphs" >increase in catch</text>
<text x="1315.5" y="748.0" font-size="14.2" fill="#555b62" textLength="98.0" lengthAdjust="spacingAndGlyphs" >per unit effort of</text>
<text x="1315.5" y="787.1" font-size="36" fill="#f6a21e" font-weight="bold" textLength="61.0" lengthAdjust="spacingAndGlyphs" >+50%</text>
<text x="1056.3" y="840.5" font-size="25" fill="#12718f" font-weight="bold" textLength="372.6" lengthAdjust="spacingAndGlyphs" >MPAs CAN EXPORT LARVAE INTO ADJACENT AREAS</text>
<path d="M1470,850.4 L1058,850.4 Q1052,850.4 1049,855.5 L989.8,944.5" stroke="#1ea0c8" stroke-width="1.5" fill="none"/>
<circle cx="989.8" cy="944.5" r="3.3" fill="#1ea0c8"/>
<text x="1052.7" y="872.7" font-size="15.2" fill="#555b62" textLength="412.7" lengthAdjust="spacingAndGlyphs" >Larger fish inside MPAs produce disproportionately more eggs</text>
<text x="1052.7" y="890.5" font-size="15.2" fill="#555b62" textLength="331.5" lengthAdjust="spacingAndGlyphs" >and larvae. Some larvae then drift to fished areas.</text>
<text x="1055.7" y="928.5" font-size="18.6" fill="#1ba3ce" font-weight="bold" textLength="357.0" lengthAdjust="spacingAndGlyphs" >EXAMPLE: GREAT BARRIER REEF PROTECTED AREA, AUSTRALIA</text>
<text x="1052.7" y="958.8" font-size="14.2" fill="#555b62" textLength="90.0" lengthAdjust="spacingAndGlyphs" >The coral trout</text>
<text x="1052.7" y="974.8" font-size="14.2" fill="#555b62" textLength="91.5" lengthAdjust="spacingAndGlyphs" >and the stripey</text>
<text x="1052.7" y="990.9" font-size="14.2" fill="#555b62" textLength="74.5" lengthAdjust="spacingAndGlyphs" >snapper are</text>
<text x="1052.7" y="1006.9" font-size="14.2" fill="#555b62" textLength="101.5" lengthAdjust="spacingAndGlyphs" >exploited locally.</text>
<circle cx="1229.4" cy="982.5" r="32.6" fill="#f1f0e6"/>
<path d="M1229.4,949.9 A32.6,32.6 0 0 1 1229.4,1015.1" stroke="#f6a21e" stroke-width="6" fill="none"/>
<text x="1200.3" y="992.0" font-size="30" fill="#f6a21e" font-weight="bold" textLength="52.3" lengthAdjust="spacingAndGlyphs" >± 50%</text>
<g fill="#e5187a" transform="translate(1216,1007.8) scale(0.93,0.8)"><use href="#sf"/></g>
<g fill="#e5187a" transform="translate(1188.7,1017.6) scale(0.93,0.8)"><use href="#sf"/></g>
<g fill="#e5187a" transform="translate(1212.5,1029.1) scale(0.93,0.8)"><use href="#sf"/></g>
<text x="1282.0" y="961.7" font-size="14.2" fill="#555b62" textLength="171.5" lengthAdjust="spacingAndGlyphs" >Local MPAs produce ± 50%</text>
<text x="1282.0" y="977.6" font-size="14.2" fill="#555b62" textLength="182.0" lengthAdjust="spacingAndGlyphs" >of total juvenile recruitment in</text>
<text x="1282.0" y="993.5" font-size="14.2" fill="#555b62" textLength="126.0" lengthAdjust="spacingAndGlyphs" >nearby fished areas.</text>
<rect x="1002.4" y="1067.7" width="568.6" height="93.6" fill="#5dc4ee"/>
<text x="1018.8" y="1096.2" font-size="13.2" fill="#ffffff" textLength="534.5" lengthAdjust="spacingAndGlyphs" >Globally, WWF works to support Marine Protected Areas and ensure they contribute to</text>
<text x="1018.8" y="1112.6" font-size="13.2" fill="#ffffff" textLength="525.5" lengthAdjust="spacingAndGlyphs" >securing food and livelihoods for people while conserving critical habitat and species.</text>
<line x1="1018.8" y1="1124.2" x2="1558.7" y2="1124.2" stroke="#d6eef9" stroke-width="1.4"/>
<text x="1018.8" y="1142.3" font-size="13.2" fill="#ffffff" font-weight="bold" textLength="136.0" lengthAdjust="spacingAndGlyphs" >www.panda.org/mpa</text>
<rect x="1575.2" y="1067.7" width="80.4" height="93.6" fill="#ffffff"/>
<rect x="1578.6" y="1070.8" width="74" height="88.2" fill="none" stroke="#3a3a3a" stroke-width="0.8"/>
<g fill="#0a0a0a" transform="translate(1570,1062) scale(0.0874)"><ellipse cx="498" cy="282" rx="56" ry="50" transform="rotate(-15 498 282)"/><ellipse cx="722" cy="312" rx="54" ry="48" transform="rotate(35 722 312)"/><path d="M380,312 Q280,370 268,490 Q270,600 300,665 Q330,725 400,715 Q420,690 400,640 L385,585 Q320,520 310,440 Q320,360 380,312Z"/><path d="M455,325 Q385,400 380,500 Q380,600 430,690 Q470,770 560,785 Q600,785 598,750 Q575,710 575,670 Q590,630 565,600 Q540,570 500,548 Q440,520 430,450 Q430,380 455,325Z"/><path d="M762,438 Q780,520 750,640 Q720,730 650,760 Q610,765 610,730 Q625,690 618,650 Q600,625 625,590 Q690,575 730,530 Q755,490 762,438Z"/><ellipse cx="520" cy="460" rx="38" ry="48" transform="rotate(25 520 460)"/><ellipse cx="657" cy="480" rx="34" ry="48" transform="rotate(-18 657 480)"/><ellipse cx="575" cy="548" rx="33" ry="14"/><path d="M548,585 Q572,600 598,585 Q590,610 572,612 Q555,610 548,585Z" fill="#fff"/></g>
<circle cx="1602.6" cy="1128.2" r="1.6" fill="none" stroke="#222" stroke-width="0.5"/>
<text x="1595.0" y="1147.2" font-size="15.8" fill="#0a0a0a" font-weight="bold" textLength="41.8" lengthAdjust="spacingAndGlyphs" stroke="#0a0a0a" stroke-width="0.7">WWF</text>
<circle cx="1634.8" cy="1132.6" r="1.6" fill="none" stroke="#222" stroke-width="0.5"/>
<use href="#jack" transform="translate(65.0,925.0) scale(0.845)" style="--jb:#4fbdec"/>
<use href="#surgeon" transform="translate(197.0,1000.0) scale(0.810)" />
<use href="#grouper" transform="translate(54.0,1054.0) scale(0.997)" />
<path d="M259.7,1147.1C261.7,1147.5 259.1,1157.4 262.0,1160.4C264.8,1163.3 276.8,1163.0 277.0,1164.7C277.1,1166.5 265.2,1167.5 262.7,1170.7C260.3,1173.9 264.4,1183.5 262.5,1184.2C260.6,1184.8 255.8,1175.5 251.4,1174.5C247.1,1173.6 237.6,1179.8 236.3,1178.5C235.0,1177.2 244.0,1170.4 243.7,1166.6C243.4,1162.7 233.5,1157.0 234.6,1155.5C235.6,1154.1 246.0,1159.2 250.2,1157.8C254.4,1156.4 257.7,1146.6 259.7,1147.1Z" fill="#7fcdec"/>
<use href="#larvay" transform="translate(452.0,1062.0) scale(0.950)" />
<use href="#larvab" transform="translate(337.0,1084.0) scale(0.950)" />
<use href="#larva" transform="translate(339.0,1151.5) scale(0.500)" />
<circle cx="135.4" cy="1002" r="34" fill="#fff" opacity="0.33"/><circle cx="135.4" cy="1002" r="25.2" fill="#fff" opacity="0.42"/>
<circle cx="123.4" cy="1010" r="4.2" fill="#e9f6fb"/><circle cx="124.0" cy="1010.4" r="2.3" fill="#2fb4dc"/>
<circle cx="142.4" cy="1019" r="5" fill="#e9f6fb"/><circle cx="143.2" cy="1019.5" r="2.8" fill="#2fb4dc"/>
<circle cx="128.4" cy="990" r="1.8" fill="#e9f6fb"/><circle cx="128.7" cy="990.2" r="1.0" fill="#2fb4dc"/>
<circle cx="160.4" cy="1019" r="1.6" fill="#e9f6fb"/><circle cx="160.6" cy="1019.2" r="0.9" fill="#2fb4dc"/>
<circle cx="273.7" cy="1064" r="28.5" fill="#fff" opacity="0.33"/><circle cx="273.7" cy="1064" r="21.1" fill="#fff" opacity="0.42"/>
<circle cx="269.7" cy="1064" r="3.2" fill="#f5c51a"/><circle cx="270.2" cy="1064.3" r="1.8" fill="#fbe58a"/>
<circle cx="292.7" cy="1064" r="3.5" fill="#f5c51a"/><circle cx="293.2" cy="1064.3" r="1.9" fill="#fbe58a"/>
<circle cx="281.7" cy="1079" r="3" fill="#f5c51a"/><circle cx="282.1" cy="1079.3" r="1.7" fill="#fbe58a"/>
<circle cx="309.7" cy="1076" r="3" fill="#f5c51a"/><circle cx="310.1" cy="1076.3" r="1.7" fill="#fbe58a"/>
<circle cx="125" cy="1121" r="33" fill="#fff" opacity="0.33"/><circle cx="125" cy="1121" r="24.4" fill="#fff" opacity="0.42"/>
<circle cx="133" cy="1120" r="5.2" fill="#e5127a"/><circle cx="133.8" cy="1120.5" r="2.9" fill="#f36d3c"/>
<circle cx="145" cy="1121" r="5" fill="#e5127a"/><circle cx="145.8" cy="1121.5" r="2.8" fill="#f36d3c"/>
<circle cx="138" cy="1133" r="4" fill="#e5127a"/><circle cx="138.6" cy="1133.4" r="2.2" fill="#f36d3c"/>
<circle cx="123" cy="1110" r="2.2" fill="#e5127a"/><circle cx="123.3" cy="1110.2" r="1.2" fill="#f36d3c"/>
<circle cx="185" cy="1011" r="2" fill="#e9f6fb"/>
<circle cx="185" cy="1034" r="1.2" fill="#e9f6fb"/>
<circle cx="223" cy="1061" r="2" fill="#e9f6fb"/>
<circle cx="160" cy="1015" r="1.5" fill="#e9f6fb"/>
<circle cx="325" cy="1107" r="2.2" fill="#e9f6fb"/>
<circle cx="268" cy="1105" r="1" fill="#e9f6fb"/>
<circle cx="372" cy="1064.5" r="1.8" fill="#f5c51a"/>
<circle cx="436" cy="1081" r="1.8" fill="#f5c51a"/>
<circle cx="257" cy="1047" r="1.2" fill="#f5c51a"/>
<circle cx="436" cy="1076" r="1.2" fill="#f5c51a"/>
<circle cx="246" cy="1139" r="2.6" fill="#e5127a"/>
<circle cx="203" cy="1149" r="2" fill="#e5127a"/>
<circle cx="170" cy="1141" r="1.6" fill="#e5127a"/>
<circle cx="291" cy="1156" r="1.3" fill="#e5127a"/>
<circle cx="409" cy="1145" r="1.3" fill="#e5127a"/>
<circle cx="548" cy="1148" r="1.3" fill="#e5127a"/>
<circle cx="124.5" cy="1137" r="1.2" fill="#e5127a"/>
<use href="#jack" transform="translate(667.0,932.0) scale(0.578)" style="--jb:#53b4e6"/>
<use href="#surgeon" transform="translate(517.0,1018.0) scale(0.535)" />
<use href="#grouper" transform="translate(559.0,1102.0) scale(0.540)" />
<use href="#larva" transform="translate(743.0,1057.0) scale(0.330)" />
<use href="#larva" transform="translate(458.0,1142.0) scale(0.580)" />
<use href="#larva" transform="translate(921.5,1039.5) scale(0.330)" />
<use href="#surgeon" transform="translate(704.3,794.3) scale(1.000)" />
<use href="#jack" transform="translate(781.4,633.0) scale(1.000)" />
<use href="#jack" transform="translate(1292.7,449.7) scale(0.889)" />
<use href="#grouper" transform="translate(1477.0,892.8) scale(0.542)" />
<use href="#larva" transform="translate(940.5,958.0) scale(1.000)" />
<rect x="19.9" y="790" width="27.1" height="371" rx="4" fill="#e3f0f2" opacity="0.92"/>
<text transform="translate(39.5,1155.5) rotate(-90)" font-size="17" font-weight="bold" fill="#f6a21e" textLength="41.5" lengthAdjust="spacingAndGlyphs">SOURCES</text>
<text transform="translate(38.5,1108.5) rotate(-90)" font-size="14" fill="#2c9fc9" textLength="307" lengthAdjust="spacingAndGlyphs">Harrison <tspan font-style="italic">et al</tspan>., 2012, Lester <tspan font-style="italic">et al</tspan>., 2009, Russ <tspan font-style="italic">et al</tspan>., 2004</text>
<text x="20.6" y="1179.6" font-size="13.5" fill="#ffffff" textLength="105.8" lengthAdjust="spacingAndGlyphs" >Design by: Catalyze</text>
<path d="M1579.9,338.9 Q1576,370 1572.3,388 Q1562,415 1549.7,433.3 Q1532,455 1511.9,468.6 Q1490,485 1459,497.6" stroke="#1c6a6c" stroke-width="1" fill="none"/>
<path d="M113,28 L1625.6,28 L1615,40 L1625.5,35.6 Q1600,92 1526,103 L1520,103 L1508,121 Q1502,127 1496,124 Q1489,119 1492,112 L1499,103 L210,103 Q160,98 120,47.5 L108,82 Q102,93 92,91.5 Q80,89 75,80 Q71,72 78,64 L90,54 Q75,57 64,54 Q54,50 55,40 Q56,28 68,22.5 Q80,20 113,28Z" fill="#0f7191"/>
<line x1="64" y1="30" x2="88" y2="30.5" stroke="#6fb0c4" stroke-width="0.9" stroke-linecap="round"/>
<line x1="66" y1="40" x2="89" y2="38" stroke="#6fb0c4" stroke-width="0.9" stroke-linecap="round"/>
<line x1="70" y1="50" x2="91" y2="45" stroke="#6fb0c4" stroke-width="0.9" stroke-linecap="round"/>
<line x1="79" y1="75" x2="94" y2="59" stroke="#6fb0c4" stroke-width="0.9" stroke-linecap="round"/>
<line x1="88" y1="82" x2="100" y2="63" stroke="#6fb0c4" stroke-width="0.9" stroke-linecap="round"/>
<line x1="99" y1="84" x2="107" y2="66" stroke="#6fb0c4" stroke-width="0.9" stroke-linecap="round"/>
<line x1="1495" y1="113" x2="1505" y2="105" stroke="#6fb0c4" stroke-width="0.8" stroke-linecap="round"/>
<line x1="1500" y1="117" x2="1509" y2="106" stroke="#6fb0c4" stroke-width="0.8" stroke-linecap="round"/>
<line x1="1505" y1="120" x2="1513" y2="108" stroke="#6fb0c4" stroke-width="0.8" stroke-linecap="round"/>
<circle cx="1572" cy="46.3" r="4" fill="#7aaec1"/>
<path d="M1545.5,33 Q1531,62 1545.5,93" stroke="#7aaec1" stroke-width="0.9" fill="none"/>
<text y="89.7" font-size="63.8" fill="#b4dfe0" font-weight="bold" ><tspan x="243.8" textLength="99.2" lengthAdjust="spacingAndGlyphs">WELL</tspan> <tspan x="356.8" textLength="181.1" lengthAdjust="spacingAndGlyphs">MANAGED</tspan> <tspan x="550.6" textLength="140.2" lengthAdjust="spacingAndGlyphs">MARINE</tspan> <tspan x="705.6" textLength="211.3" lengthAdjust="spacingAndGlyphs">PROTECTED</tspan> <tspan x="927.1" textLength="120.2" lengthAdjust="spacingAndGlyphs">AREAS</tspan> <tspan x="1060.0" textLength="168.5" lengthAdjust="spacingAndGlyphs">SUPPORT</tspan> <tspan x="1243.0" textLength="178.2" lengthAdjust="spacingAndGlyphs">FISHERIES</tspan></text>
<text y="147.0" font-size="26.5" fill="#1ba3ce" font-weight="bold" ><tspan x="145.0" textLength="41.5" lengthAdjust="spacingAndGlyphs">MPAs</tspan> <tspan x="191.5" textLength="66.8" lengthAdjust="spacingAndGlyphs">IMPROVE</tspan> <tspan x="265.0" textLength="27.5" lengthAdjust="spacingAndGlyphs">THE</tspan> <tspan x="297.8" textLength="55.5" lengthAdjust="spacingAndGlyphs">HEALTH</tspan> <tspan x="358.7" textLength="16.9" lengthAdjust="spacingAndGlyphs">OF</tspan> <tspan x="381.0" textLength="57.8" lengthAdjust="spacingAndGlyphs">OCEANS</tspan> <tspan x="444.5" textLength="24.0" lengthAdjust="spacingAndGlyphs">BY:</tspan></text>
<circle cx="233.8" cy="190" r="22" fill="#74c8e9" stroke="#1a7a8c" stroke-width="1.6"/>
<g clip-path="url(#globe)"><path d="M203.8,224.5L203.8,184.5A6.5,6.5 0 0 0 214.8,184.5A6.5,6.5 0 0 0 225.8,184.5A6.5,6.5 0 0 0 236.8,184.5A6.5,6.5 0 0 0 247.8,184.5A6.5,6.5 0 0 0 258.8,184.5A6.5,6.5 0 0 0 269.8,184.5L269.8,224.5Z" fill="#a9dbe0"/><path d="M209.3,230.5L209.3,190.5A6.5,6.5 0 0 0 220.3,190.5A6.5,6.5 0 0 0 231.3,190.5A6.5,6.5 0 0 0 242.3,190.5A6.5,6.5 0 0 0 253.3,190.5A6.5,6.5 0 0 0 264.3,190.5L264.3,230.5Z" fill="#74c8e9"/><path d="M203.8,235L203.8,195A6.5,6.5 0 0 0 214.8,195A6.5,6.5 0 0 0 225.8,195A6.5,6.5 0 0 0 236.8,195A6.5,6.5 0 0 0 247.8,195A6.5,6.5 0 0 0 258.8,195A6.5,6.5 0 0 0 269.8,195L269.8,235Z" fill="#10a6cf"/><path d="M209.3,241L209.3,201A6.5,6.5 0 0 0 220.3,201A6.5,6.5 0 0 0 231.3,201A6.5,6.5 0 0 0 242.3,201A6.5,6.5 0 0 0 253.3,201A6.5,6.5 0 0 0 264.3,201L264.3,241Z" fill="#74c8e9"/></g>
<path d="M222.5,226 L222.5,214 Q211,210 210,200 L209.3,193 Q212,190.5 214,194 L216.5,201 Q220,205 226,206 L219,199 Q221,196 225,198 L232,206 Q232.5,210 232.5,226Z" fill="#f6a21e"/>
<path d="M245.1,226 L245.1,214 Q256.6,210 257.6,200 L258.3,193 Q255.6,190.5 253.6,194 L251.1,201 Q247.6,205 241.6,206 L248.6,199 Q246.6,196 242.6,198 L235.6,206 Q235.1,210 235.1,226Z" fill="#f6a21e"/>
<text x="233.8" y="248.6" font-size="14.2" fill="#8b8b8b" text-anchor="middle" textLength="89.3" lengthAdjust="spacingAndGlyphs" >Protecting and</text>
<text x="233.8" y="265.7" font-size="14.2" fill="#8b8b8b" text-anchor="middle" textLength="59.5" lengthAdjust="spacingAndGlyphs" >Restoring</text>
<text x="233.8" y="282.8" font-size="14.2" fill="#8b8b8b" text-anchor="middle" textLength="97.5" lengthAdjust="spacingAndGlyphs" >Marine Habitats</text>
<line x1="313" y1="196.5" x2="353.8" y2="196.5" stroke="#f6a21e" stroke-width="1.6"/>
<path d="M307,196.5 l9,-6.5 l0,13Z" fill="#f6a21e"/>
<line x1="305.5" y1="212.7" x2="346.8" y2="212.7" stroke="#f6a21e" stroke-width="1.6"/>
<path d="M352.8,212.7 l-9,-6.5 l0,13Z" fill="#f6a21e"/>
<path d="M432.4,174.5 L432.4,218.5 Q432.4,224 428.4,224 Q423.9,224 423.9,218.5" stroke="#14708f" stroke-width="1.8" fill="none"/>
<path d="M403.9,200 A28.5,22.5 0 0 1 460.9,200Z" fill="#f6a21e"/>
<text x="432.4" y="248.6" font-size="14.2" fill="#8b8b8b" text-anchor="middle" textLength="132.5" lengthAdjust="spacingAndGlyphs" >Increasing Resilience</text>
<text x="432.4" y="265.7" font-size="14.2" fill="#8b8b8b" text-anchor="middle" textLength="105.0" lengthAdjust="spacingAndGlyphs" >to Environmental</text>
<text x="432.4" y="282.8" font-size="14.2" fill="#8b8b8b" text-anchor="middle" textLength="55.5" lengthAdjust="spacingAndGlyphs" >Changes</text>
<line x1="514.5" y1="196.4" x2="555.3" y2="196.4" stroke="#f6a21e" stroke-width="1.6"/>
<path d="M508.5,196.4 l9,-6.5 l0,13Z" fill="#f6a21e"/>
<line x1="507.0" y1="212.4" x2="548.3" y2="212.4" stroke="#f6a21e" stroke-width="1.6"/>
<path d="M554.3,212.4 l-9,-6.5 l0,13Z" fill="#f6a21e"/>
<line x1="598.8" y1="180.3" x2="671.2" y2="180.3" stroke="#a5dcf2" stroke-width="0.7" stroke-dasharray="1,1.4"/>
<line x1="598.8" y1="190.3" x2="671.2" y2="190.3" stroke="#a5dcf2" stroke-width="0.7" stroke-dasharray="1,1.4"/>
<line x1="598.8" y1="201.4" x2="671.2" y2="201.4" stroke="#a5dcf2" stroke-width="0.7" stroke-dasharray="1,1.4"/>
<line x1="598.8" y1="212.1" x2="671.2" y2="212.1" stroke="#a5dcf2" stroke-width="0.7" stroke-dasharray="1,1.4"/>
<line x1="598.8" y1="222.3" x2="671.2" y2="222.3" stroke="#35b4e6" stroke-width="0.9" stroke-dasharray="1,1"/>
<path d="M608.8,225.4 L626.6,217.6 L655.6,190.7 L666,175" stroke="#f6a21e" stroke-width="1.6" fill="none"/>
<path d="M668.8,171 l-1,8.5 l-6,-4.5Z" fill="#f6a21e"/>
<path d="M611,197.5 L617.5,203.5 Q625,196 636,192.5 L640,189.5 L643,192 Q653,194 659.8,203.5 Q654,209 642,209.5 L638,211.5 L634,209.5 Q625,209 617.5,205 L612.5,211.5 Q614,204 611,197.5Z" fill="#4cbdea"/>
<path d="M628,199 Q638,194 646,197.5" stroke="#bfe6f6" stroke-width="0.7" fill="none"/>
<circle cx="608.8" cy="225.4" r="3.2" fill="#f6a21e"/>
<circle cx="626.6" cy="217.6" r="3.2" fill="#f6a21e"/>
<circle cx="655.6" cy="190.7" r="3.2" fill="#f6a21e"/>
<text x="634.4" y="249.2" font-size="14.2" fill="#8b8b8b" text-anchor="middle" textLength="116.0" lengthAdjust="spacingAndGlyphs" >Protecting Species</text>
<text x="634.4" y="266.3" font-size="14.2" fill="#8b8b8b" text-anchor="middle" textLength="93.0" lengthAdjust="spacingAndGlyphs" >and Rebuilding</text>
<text x="634.4" y="283.4" font-size="14.2" fill="#8b8b8b" text-anchor="middle" textLength="72.0" lengthAdjust="spacingAndGlyphs" >Fish Stocks</text>
<path d="M837.6,397 L837.6,118.5 A4.4,4.4 0 0 1 846.4,118.5 L846.4,397 Q842,399 837.6,397Z" fill="#f6a21e"/>
<path d="M695.5,147.5 L722.3,121 L838,121 L838,174.3 L722.3,174.3Z" fill="#f6a21e"/>
<text x="728.7" y="162.2" font-size="41.5" fill="#f1f0e6" font-weight="bold" textLength="54.6" lengthAdjust="spacingAndGlyphs" >MPA</text>
<text y="147.0" font-size="26.5" fill="#1ba3ce" font-weight="bold" ><tspan x="916.2" textLength="26.5" lengthAdjust="spacingAndGlyphs">KEY</tspan> <tspan x="948.4" textLength="84.1" lengthAdjust="spacingAndGlyphs">PRINCIPLES</tspan> <tspan x="1037.7" textLength="27.6" lengthAdjust="spacingAndGlyphs">FOR</tspan> <tspan x="1070.2" textLength="41.6" lengthAdjust="spacingAndGlyphs">MPAs</tspan> <tspan x="1116.6" textLength="18.0" lengthAdjust="spacingAndGlyphs">TO</tspan> <tspan x="1140.9" textLength="51.3" lengthAdjust="spacingAndGlyphs">WORK:</tspan></text>
<g transform="translate(938,192) rotate(24)"><rect x="-24.5" y="-4.2" width="49" height="8.4" fill="#f5c822"/><line x1="-22.0" y1="-4.2" x2="-22.0" y2="0" stroke="#f9e48f" stroke-width="0.8"/><line x1="-18.9" y1="-4.2" x2="-18.9" y2="-1.4" stroke="#f9e48f" stroke-width="0.8"/><line x1="-15.8" y1="-4.2" x2="-15.8" y2="0" stroke="#f9e48f" stroke-width="0.8"/><line x1="-12.7" y1="-4.2" x2="-12.7" y2="-1.4" stroke="#f9e48f" stroke-width="0.8"/><line x1="-9.6" y1="-4.2" x2="-9.6" y2="0" stroke="#f9e48f" stroke-width="0.8"/><line x1="-6.5" y1="-4.2" x2="-6.5" y2="-1.4" stroke="#f9e48f" stroke-width="0.8"/><line x1="-3.4" y1="-4.2" x2="-3.4" y2="0" stroke="#f9e48f" stroke-width="0.8"/><line x1="-0.3" y1="-4.2" x2="-0.3" y2="-1.4" stroke="#f9e48f" stroke-width="0.8"/><line x1="2.8" y1="-4.2" x2="2.8" y2="0" stroke="#f9e48f" stroke-width="0.8"/><line x1="5.9" y1="-4.2" x2="5.9" y2="-1.4" stroke="#f9e48f" stroke-width="0.8"/><line x1="9.0" y1="-4.2" x2="9.0" y2="0" stroke="#f9e48f" stroke-width="0.8"/><line x1="12.1" y1="-4.2" x2="12.1" y2="-1.4" stroke="#f9e48f" stroke-width="0.8"/><line x1="15.2" y1="-4.2" x2="15.2" y2="0" stroke="#f9e48f" stroke-width="0.8"/><line x1="18.3" y1="-4.2" x2="18.3" y2="-1.4" stroke="#f9e48f" stroke-width="0.8"/><line x1="21.4" y1="-4.2" x2="21.4" y2="0" stroke="#f9e48f" stroke-width="0.8"/></g>
<g transform="translate(941.5,192.5) rotate(-52)"><rect x="-19" y="-2.7" width="41" height="5.4" rx="2" fill="#14708f"/><path d="M-19,-2.7 L-25.5,0 L-19,2.7Z" fill="#4fb6e8"/><path d="M-23.3,-0.9 L-25.5,0 L-23.3,0.9Z" fill="#14708f"/></g>
<text x="983.0" y="194.0" font-size="14.2" fill="#8b8b8b" textLength="90.0" lengthAdjust="spacingAndGlyphs" >Well Designed</text>
<text x="983.0" y="211.2" font-size="14.2" fill="#8b8b8b" textLength="114.0" lengthAdjust="spacingAndGlyphs" >Networks of MPAs</text>
<path d="M924.8,267.4 L954.4,267.4 L939.6,286.7Z" fill="#f6a21e" stroke="#f6a21e" stroke-width="1" stroke-linejoin="round"/>
<text x="983.0" y="271.8" font-size="14.2" fill="#8b8b8b" textLength="108.0" lengthAdjust="spacingAndGlyphs" >Local Community</text>
<text x="983.0" y="288.7" font-size="14.2" fill="#8b8b8b" textLength="79.5" lengthAdjust="spacingAndGlyphs" >Engagement</text>
<path d="M1167.2,171.5 Q1160,175.5 1154,173.5 Q1151,176 1148.3,176.5 L1149.5,193 Q1151,205 1167.2,210.6 Q1183.5,205 1185,193 L1186.2,176.5 Q1183.5,176 1180.5,173.5 Q1174.5,175.5 1167.2,171.5Z" fill="#14708f"/>
<polygon points="1167.2,181.0 1169.8,187.0 1176.3,186.2 1172.4,191.5 1176.3,196.8 1169.8,196.0 1167.2,202.0 1164.6,196.0 1158.1,196.8 1162.0,191.5 1158.1,186.2 1164.6,187.0" fill="#f7e26b"/>
<text x="1217.0" y="191.2" font-size="14.2" fill="#8b8b8b" textLength="83.0" lengthAdjust="spacingAndGlyphs" >Enforced and</text>
<text x="1217.0" y="208.3" font-size="14.2" fill="#8b8b8b" textLength="90.5" lengthAdjust="spacingAndGlyphs" >Complied With</text>
<path d="M1137.4,260.5 L1137.4,292.3 L1159,292.3 Q1163,294.5 1167,292.3 L1189.3,292.3 L1189.3,260.5Z" fill="#14708f"/>
<path d="M1139.2,259.7 Q1152,258.2 1163,260.5 L1163,291.2 Q1152,288 1139.2,290.8Z" fill="#ffffff"/>
<path d="M1187.5,259.7 Q1174.7,258.2 1163.6,260.5 L1163.6,291.2 Q1174.7,288 1187.5,290.8Z" fill="#ffffff"/>
<path d="M1139.2,290.8 Q1152,288 1163,291.2 Q1174.7,288 1187.5,290.8" stroke="#c9d3d6" stroke-width="0.8" fill="none"/>
<line x1="1163.3" y1="260.5" x2="1163.3" y2="291" stroke="#c9d3d6" stroke-width="0.8"/>
<text x="1215.8" y="272.5" font-size="14.2" fill="#8b8b8b" textLength="127.0" lengthAdjust="spacingAndGlyphs" >Part of an Integrated</text>
<text x="1215.8" y="289.3" font-size="14.2" fill="#8b8b8b" textLength="113.5" lengthAdjust="spacingAndGlyphs" >Management Plan</text>
<path d="M1133.2,362.5 L1143,350.5 L1190,350.5 L1197.8,362.5Z" fill="#8cc63f"/>
<path d="M1136.5,360.8 L1144.3,352 L1188.7,352 L1194.8,360.8Z" fill="none" stroke="#b8dc7a" stroke-width="0.7"/>
<rect x="1133.2" y="362.5" width="64.6" height="5.3" fill="#76b43a"/>
<line x1="1133.2" y1="365.2" x2="1197.8" y2="365.2" stroke="#5e9c30" stroke-width="0.6"/>
<ellipse cx="1165.5" cy="356.2" rx="9.5" ry="3.9" fill="#b5d96b"/>
<text x="1165.5" y="359.2" font-size="8" fill="#5e9c30" text-anchor="middle" font-weight="bold" >$</text>
<ellipse cx="1151.5" cy="349.3" rx="6" ry="2.1" fill="#f5cf2e" stroke="#e0ae1a" stroke-width="0.5"/>
<ellipse cx="1151.5" cy="347.1" rx="6" ry="2.1" fill="#f5cf2e" stroke="#e0ae1a" stroke-width="0.5"/>
<ellipse cx="1165.5" cy="349.3" rx="6" ry="2.1" fill="#f5cf2e" stroke="#e0ae1a" stroke-width="0.5"/>
<ellipse cx="1165.5" cy="347.1" rx="6" ry="2.1" fill="#f5cf2e" stroke="#e0ae1a" stroke-width="0.5"/>
<ellipse cx="1165.5" cy="344.9" rx="6" ry="2.1" fill="#f5cf2e" stroke="#e0ae1a" stroke-width="0.5"/>
<ellipse cx="1165.5" cy="342.7" rx="6" ry="2.1" fill="#f5cf2e" stroke="#e0ae1a" stroke-width="0.5"/>
<ellipse cx="1179.5" cy="349.3" rx="6" ry="2.1" fill="#f5cf2e" stroke="#e0ae1a" stroke-width="0.5"/>
<ellipse cx="1179.5" cy="347.1" rx="6" ry="2.1" fill="#f5cf2e" stroke="#e0ae1a" stroke-width="0.5"/>
<ellipse cx="1179.5" cy="344.9" rx="6" ry="2.1" fill="#f5cf2e" stroke="#e0ae1a" stroke-width="0.5"/>
<ellipse cx="1179.5" cy="342.7" rx="6" ry="2.1" fill="#f5cf2e" stroke="#e0ae1a" stroke-width="0.5"/>
<ellipse cx="1179.5" cy="340.5" rx="6" ry="2.1" fill="#f5cf2e" stroke="#e0ae1a" stroke-width="0.5"/>
<ellipse cx="1179.5" cy="338.3" rx="6" ry="2.1" fill="#f5cf2e" stroke="#e0ae1a" stroke-width="0.5"/>
<text x="1215.8" y="356.6" font-size="14.2" fill="#8b8b8b" textLength="71.5" lengthAdjust="spacingAndGlyphs" >Sustainably</text>
<text x="1215.8" y="372.8" font-size="14.2" fill="#8b8b8b" textLength="57.0" lengthAdjust="spacingAndGlyphs" >Financed</text>
<line x1="1369.5" y1="163" x2="1369.5" y2="319" stroke="#f6a21e" stroke-width="1.6"/>
<text x="1396.0" y="183.0" font-size="28.5" fill="#f6a21e" font-weight="bold" textLength="124.0" lengthAdjust="spacingAndGlyphs" >MPAs SUPPORT</text>
<text x="1396.0" y="215.5" font-size="28.5" fill="#f6a21e" font-weight="bold" textLength="102.5" lengthAdjust="spacingAndGlyphs" >LIVELIHOODS</text>
<text x="1395.5" y="243.0" font-size="15" fill="#8b8b8b" textLength="179.0" lengthAdjust="spacingAndGlyphs" >In Apo Islands, Philippines,</text>
<text x="1395.5" y="261.0" font-size="15" fill="#8b8b8b" textLength="211.5" lengthAdjust="spacingAndGlyphs" >fishers have doubled their catch</text>
<text x="1395.5" y="279.0" font-size="15" fill="#8b8b8b" textLength="212.0" lengthAdjust="spacingAndGlyphs" >rate 18 years after the MPA was</text>
<text x="1395.5" y="297.0" font-size="15" fill="#8b8b8b" textLength="227.5" lengthAdjust="spacingAndGlyphs" >created. As a result, they go out to</text>
<text x="1395.5" y="315.0" font-size="15" fill="#8b8b8b" textLength="221.0" lengthAdjust="spacingAndGlyphs" >sea less, saving on fuel and time.</text>
<rect x="733.7" y="327" width="24.7" height="37" rx="4" fill="#f5b61f"/>
<path d="M740,338 L722.5,361.5" stroke="#0d566e" stroke-width="8" stroke-linecap="round"/>
<path d="M753,338 L770,361.5" stroke="#0f7393" stroke-width="8" stroke-linecap="round"/>
<circle cx="721.8" cy="363" r="3.6" fill="#c8974a"/><circle cx="770.8" cy="363" r="3.6" fill="#c8974a"/>
<path d="M736.6,340 Q736.6,333.5 746.5,333.5 L746.5,395 A4.5,4.5 0 0 1 736.6,395Z" fill="#0d566e"/>
<path d="M756.5,340 Q756.5,333.5 746.5,333.5 L746.5,372 L747.6,372 L747.6,395 A4.5,4.5 0 0 0 756.5,395Z" fill="#0f7393"/>
<circle cx="746" cy="319" r="14" fill="#0f7393"/>
<path d="M746,305 A14,14 0 0 0 746,333Z" fill="#0d566e"/>
<path d="M736,308.5 Q746,304.5 756,308.5" stroke="#4fa3c4" stroke-width="1" fill="none"/>
<rect x="732.6" y="311.6" width="27.4" height="11" rx="4.5" fill="#e3e3e8" stroke="#8ccbea" stroke-width="1.6"/>
<rect x="733.6" y="312.5" width="12" height="9.2" rx="4" fill="#cfcfd6"/>
<circle cx="746" cy="327.6" r="4" fill="#f6a21e"/><path d="M746,326.8 L759.5,326" stroke="#f6a21e" stroke-width="2" stroke-linecap="round"/>
<path d="M803,339 L787.5,363" stroke="url(#armL)" stroke-width="6.5" stroke-linecap="round"/>
<path d="M820,340 Q830,336 835.6,321.5" stroke="url(#armL)" stroke-width="6.5" stroke-linecap="round" fill="none"/>
<circle cx="806.3" cy="395" r="4.3" fill="#edd58b"/><circle cx="817" cy="395" r="4.3" fill="#edd58b"/>
<path d="M802.5,334 L811.7,334 L811.7,392.5 Q803,392.5 797.7,389.5Z" fill="#3a0d05"/>
<path d="M821,334 L811.7,334 L811.7,392.5 Q820.5,392.5 825.6,389.5Z" fill="#5a2d22"/>
<path d="M807,334 Q811.7,339 816.5,334Z" fill="#edd58b"/>
<path d="M797,329.5 Q795,305 811.7,304.5 Q828.5,305 826.5,329.5 L820,327 L803.5,327Z" fill="#1d1d1b"/>
<path d="M800.5,320 Q806,314 811.5,310 Q817,314 823,320 Q822.5,332.5 811.7,332.5 Q801,332.5 800.5,320Z" fill="#edd58b"/>
<path d="M861,341 Q852,334 848.3,321" stroke="url(#armL)" stroke-width="6.5" stroke-linecap="round" fill="none"/>
<path d="M890,346 L899,361" stroke="url(#armL)" stroke-width="6.5" stroke-linecap="round"/>
<circle cx="868.5" cy="395" r="4.3" fill="#edd58b"/><circle cx="880.5" cy="395" r="4.3" fill="#edd58b"/>
<rect x="863.4" y="365" width="11.4" height="27.5" fill="#5a2d22"/><rect x="874.8" y="365" width="11.4" height="27.5" fill="#3a0d05"/>
<path d="M855,340 L861,334 L874.8,334 L874.8,366.5 L863.4,366.5 L863.4,348 L858.5,350Z" fill="#b07030"/>
<path d="M874.8,334 L887,334 L898,349.5 L890,353.5 L886.2,349 L886.2,366.5 L874.8,366.5Z" fill="#d4a02e"/>
<path d="M869.5,334 Q874.8,339 880,334Z" fill="#edd58b"/>
<circle cx="874.4" cy="321" r="13.5" fill="#edd58b"/>
<path d="M860.9,321 A13.5,13.5 0 0 1 887.9,321 Q880,319 874.4,312 Q869,319 860.9,321Z" fill="#1d1d1b"/>
<path d="M928,343 L916,361" stroke="url(#armL)" stroke-width="6.5" stroke-linecap="round"/>
<ellipse cx="957.5" cy="358" rx="11.5" ry="21" fill="#d9ecf8" stroke="#7cc4ea" stroke-width="0.7" transform="rotate(-8 957.5 358)"/>
<g clip-path="url(#netc)" stroke="#7cc4ea" stroke-width="0.5" fill="none"><path d="M947.1,337 Q943.1,358 948.7,379" /><path d="M949.7,337 Q946.7,358 950.9,379" /><path d="M952.3,337 Q950.3,358 953.1,379" /><path d="M954.9,337 Q953.9,358 955.3,379" /><path d="M957.5,337 Q957.5,358 957.5,379" /><path d="M960.1,337 Q961.1,358 959.7,379" /><path d="M962.7,337 Q964.7,358 961.9,379" /><path d="M965.3,337 Q968.3,358 964.1,379" /><path d="M967.9,337 Q971.9,358 966.3,379" /><path d="M946,340 Q957.5,343 969,340"/><path d="M946,345 Q957.5,348 969,345"/><path d="M946,350 Q957.5,353 969,350"/><path d="M946,355 Q957.5,358 969,355"/><path d="M946,360 Q957.5,363 969,360"/><path d="M946,365 Q957.5,368 969,365"/><path d="M946,370 Q957.5,373 969,370"/><path d="M946,375 Q957.5,378 969,375"/></g>
<circle cx="933" cy="395" r="4.3" fill="#edd58b"/><circle cx="944.5" cy="395" r="4.3" fill="#edd58b"/>
<rect x="927.6" y="364" width="11" height="28.5" fill="#f9b957"/><rect x="938.6" y="364" width="11" height="28.5" fill="#f59d3d"/>
<path d="M919,349 L927,334 L938.6,334 L938.6,365.5 L927.6,365.5 L927.6,348 L924,352Z" fill="#8b8f3a"/>
<path d="M938.6,334 L950,334 L957,346 L949.5,350 L949.5,365.5 L938.6,365.5Z" fill="#b5b13a"/>
<path d="M933.5,334 Q938.6,339 944,334Z" fill="#e0c97e"/>
<path d="M945.5,351.5 L957.5,355.5" stroke="url(#armL)" stroke-width="6.5" stroke-linecap="round"/>
<circle cx="939" cy="320.5" r="13.5" fill="#e3cd83"/>
<path d="M925.5,320.5 A13.5,13.5 0 0 1 952.5,320.5 Q945,318.5 939,311.5 Q933,318.5 925.5,320.5Z" fill="#1d1d1b"/>
<g stroke="url(#rootg)" fill="none" stroke-linecap="butt"><path d="M24,389 Q62,386 100,403 Q127,422 145,453" stroke-width="9.5"/><path d="M80,394 Q90,420 95,453" stroke-width="7"/><path d="M46,390 Q48,420 48,453" stroke-width="6.5"/><path d="M29,393 L30,453" stroke-width="6"/><path d="M12,390 Q1,415 -3,453" stroke-width="9"/><path d="M0,377 Q9,372 17,377" stroke-width="5"/></g>
<g fill="url(#trunk2)"><path d="M25.5,455.0L25.4,452.4L25.4,449.1L25.3,445.2L25.2,440.9L25.2,436.2L25.1,431.3L25.0,426.1L24.9,420.7L24.9,415.4L24.8,410.1L24.7,404.9L24.6,400.0L24.5,395.1L24.4,390.2L24.3,385.1L24.2,380.0L24.2,374.8L24.1,369.7L24.0,364.5L23.8,359.4L23.7,354.3L23.6,349.4L23.4,344.5L23.2,339.8L23.0,335.3L22.7,330.7L22.4,326.3L22.2,321.9L21.8,317.7L21.5,313.4L21.2,309.3L20.9,305.3L20.6,301.3L20.3,297.4L20.0,293.6L19.8,289.8L19.6,286.1L19.4,282.6L19.2,279.1L19.0,275.7L18.8,272.4L18.7,269.1L18.5,265.9L18.4,262.7L18.2,259.6L18.1,256.4L18.0,253.2L17.9,250.0L17.8,246.6L17.8,243.1L17.7,239.5L17.7,235.8L17.7,232.2L17.6,228.6L17.6,225.1L17.6,221.8L17.6,218.8L17.6,216.2L17.5,213.9L17.5,212.0L11.5,212.0L11.4,213.8L11.3,216.1L11.2,218.7L11.0,221.7L10.9,225.0L10.7,228.4L10.6,232.0L10.5,235.7L10.4,239.4L10.3,243.1L10.2,246.6L10.1,250.0L10.1,253.3L10.0,256.5L10.0,259.7L10.0,262.9L10.0,266.1L10.0,269.4L10.0,272.6L10.0,276.0L10.0,279.4L10.1,282.9L10.1,286.5L10.2,290.2L10.3,294.0L10.4,297.9L10.5,301.8L10.7,305.9L10.9,309.9L11.0,314.1L11.2,318.3L11.4,322.5L11.5,326.8L11.6,331.2L11.7,335.6L11.8,340.2L11.8,344.8L11.9,349.6L11.9,354.5L11.8,359.5L11.8,364.6L11.8,369.7L11.7,374.9L11.6,380.0L11.6,385.1L11.5,390.2L11.5,395.2L11.4,400.0L11.3,405.0L11.3,410.1L11.2,415.4L11.1,420.7L11.1,426.1L11.0,431.2L10.9,436.2L10.8,440.9L10.7,445.2L10.7,449.1L10.6,452.4L10.5,455.0Z"/><path d="M26.1,353.8L26.6,352.7L27.1,351.3L27.7,349.6L28.4,347.9L29.2,345.9L30.0,343.9L30.8,341.8L31.7,339.8L32.6,337.7L33.6,335.7L34.6,333.9L35.5,332.2L36.5,330.5L37.7,328.8L38.9,327.1L40.1,325.3L41.5,323.6L42.8,321.9L44.2,320.2L45.5,318.5L46.9,316.9L48.2,315.4L49.5,313.9L50.7,312.6L51.9,311.3L53.1,310.0L54.2,308.9L55.3,307.8L56.4,306.7L57.5,305.7L58.6,304.8L59.6,303.9L60.7,303.0L61.7,302.3L62.7,301.6L63.7,300.9L64.6,300.4L65.7,299.9L66.7,299.4L67.8,299.0L69.0,298.7L70.1,298.3L71.2,298.1L72.3,297.8L73.3,297.6L74.2,297.3L75.1,297.1L75.8,296.9L74.2,291.1L73.7,291.2L73.0,291.3L72.1,291.5L71.0,291.7L69.9,291.9L68.6,292.2L67.3,292.5L65.9,292.8L64.5,293.3L63.1,293.8L61.7,294.4L60.3,295.1L59.0,295.8L57.8,296.6L56.6,297.5L55.3,298.4L54.1,299.3L52.9,300.3L51.6,301.4L50.4,302.5L49.1,303.6L47.8,304.8L46.6,306.1L45.3,307.4L43.9,308.8L42.5,310.3L41.1,311.8L39.7,313.5L38.2,315.1L36.7,316.9L35.2,318.7L33.8,320.5L32.4,322.3L31.0,324.1L29.7,326.0L28.5,327.8L27.3,329.8L26.1,331.9L25.0,334.0L24.0,336.2L23.0,338.4L22.0,340.6L21.1,342.6L20.3,344.6L19.6,346.4L18.9,347.9L18.3,349.2L17.9,350.2Z"/><path d="M49.4,312.9L49.7,311.5L50.1,309.9L50.7,308.1L51.4,305.9L52.1,303.5L52.9,300.9L53.6,298.0L54.4,294.9L55.1,291.6L55.8,288.1L56.3,284.3L56.7,280.3L57.1,275.8L57.3,270.6L57.5,264.9L57.7,258.7L57.8,252.4L57.9,246.0L57.9,239.8L58.0,233.8L58.0,228.3L58.0,223.4L58.0,219.2L58.0,216.0L54.0,216.0L53.9,219.2L53.7,223.3L53.6,228.2L53.5,233.7L53.3,239.7L53.1,246.0L52.9,252.3L52.7,258.6L52.4,264.6L52.1,270.3L51.7,275.4L51.3,279.7L50.7,283.5L50.1,287.0L49.4,290.4L48.6,293.5L47.7,296.4L46.9,299.1L46.0,301.6L45.2,303.9L44.4,305.9L43.7,307.8L43.1,309.6L42.6,311.1Z"/><path d="M22.2,324.1L23.0,323.1L24.0,322.0L25.3,320.6L26.7,319.1L28.3,317.5L30.0,315.7L31.7,313.8L33.5,311.8L35.2,309.7L36.9,307.6L38.5,305.4L39.9,303.2L41.3,300.8L42.6,298.2L44.0,295.4L45.3,292.5L46.6,289.5L47.8,286.5L49.0,283.6L50.1,280.8L51.1,278.3L52.0,276.0L52.8,274.1L53.4,272.6L50.6,271.4L49.9,272.9L49.0,274.7L48.0,277.0L46.9,279.5L45.7,282.2L44.4,285.0L43.1,287.9L41.7,290.8L40.3,293.6L38.8,296.2L37.5,298.7L36.1,300.8L34.7,302.7L33.2,304.7L31.5,306.6L29.8,308.5L28.0,310.3L26.2,312.0L24.5,313.7L22.9,315.2L21.4,316.6L20.0,317.9L18.8,319.0L17.8,319.9Z"/><path d="M31.0,357.8L32.0,356.1L33.4,353.8L35.0,351.2L36.8,348.2L38.7,345.0L40.8,341.6L42.9,338.1L45.0,334.6L47.1,331.1L49.1,327.7L51.0,324.5L52.6,321.5L54.2,318.8L55.7,316.2L57.2,313.5L58.7,311.0L60.2,308.4L61.6,305.9L63.0,303.4L64.2,300.9L65.4,298.4L66.6,295.9L67.6,293.4L68.5,290.9L69.2,288.3L69.9,285.9L70.4,283.4L70.8,281.0L71.1,278.6L71.4,276.3L71.6,273.9L71.7,271.6L71.9,269.2L72.0,266.9L72.1,264.5L72.2,262.1L72.3,259.6L72.3,256.8L72.4,254.0L72.3,251.0L72.3,248.1L72.2,245.2L72.1,242.4L72.0,239.8L72.0,237.4L71.9,235.2L71.8,233.4L71.7,232.0L68.3,232.0L68.2,233.5L68.2,235.3L68.2,237.5L68.3,239.9L68.3,242.5L68.3,245.3L68.3,248.1L68.3,251.0L68.2,253.9L68.1,256.7L68.0,259.4L67.8,261.9L67.6,264.3L67.4,266.6L67.3,268.9L67.1,271.2L66.9,273.5L66.6,275.7L66.3,278.0L65.9,280.2L65.5,282.4L64.9,284.6L64.3,286.9L63.5,289.1L62.6,291.4L61.6,293.7L60.5,296.0L59.3,298.4L58.0,300.7L56.7,303.1L55.2,305.5L53.7,308.0L52.2,310.5L50.6,313.1L49.0,315.8L47.4,318.5L45.6,321.3L43.7,324.5L41.7,327.8L39.6,331.2L37.4,334.7L35.2,338.1L33.1,341.5L31.1,344.7L29.2,347.6L27.6,350.2L26.1,352.4L25.0,354.2Z"/><path d="M67.2,293.6L67.8,293.1L68.5,292.5L69.3,291.9L70.3,291.1L71.4,290.3L72.6,289.4L73.7,288.4L74.9,287.4L76.1,286.4L77.2,285.3L78.3,284.1L79.2,282.9L80.0,281.6L80.9,280.2L81.7,278.7L82.5,277.1L83.2,275.5L83.9,273.9L84.5,272.3L85.1,270.8L85.7,269.5L86.2,268.2L86.6,267.2L86.9,266.4L85.1,265.6L84.7,266.4L84.2,267.4L83.6,268.6L83.0,269.9L82.3,271.3L81.6,272.9L80.9,274.4L80.1,275.9L79.3,277.4L78.4,278.8L77.6,280.0L76.8,281.1L76.0,282.0L75.0,283.0L73.9,283.9L72.8,284.9L71.6,285.8L70.4,286.6L69.3,287.4L68.2,288.1L67.2,288.8L66.2,289.4L65.4,290.0L64.8,290.4Z"/><path d="M29.4,375.7L30.5,375.9L32.1,376.3L33.9,376.8L36.0,377.4L38.3,378.1L40.8,378.7L43.3,379.3L45.8,379.9L48.4,380.3L50.8,380.5L53.2,380.6L55.4,380.3L57.4,379.8L59.2,379.1L61.0,378.2L62.6,377.2L64.1,376.1L65.6,374.9L67.0,373.6L68.3,372.3L69.6,371.1L70.8,369.8L72.1,368.6L73.3,367.5L74.6,366.4L75.8,365.3L77.1,364.2L78.4,363.1L79.7,362.0L80.9,360.8L82.1,359.6L83.3,358.4L84.4,357.1L85.5,355.7L86.5,354.3L87.4,352.8L88.2,351.2L89.0,349.4L89.7,347.4L90.3,345.5L90.8,343.5L91.3,341.5L91.7,339.5L92.1,337.7L92.4,336.0L92.7,334.5L93.0,333.3L93.2,332.3L90.8,331.7L90.5,332.7L90.2,334.0L89.8,335.4L89.4,337.1L89.0,338.9L88.5,340.8L88.0,342.7L87.4,344.6L86.8,346.5L86.1,348.2L85.4,349.8L84.6,351.2L83.8,352.5L82.8,353.7L81.8,354.9L80.8,356.0L79.6,357.1L78.5,358.2L77.2,359.2L76.0,360.3L74.7,361.3L73.4,362.4L72.0,363.4L70.7,364.5L69.4,365.6L68.0,366.8L66.7,368.0L65.4,369.2L64.1,370.4L62.8,371.5L61.5,372.5L60.1,373.5L58.8,374.2L57.4,374.9L56.0,375.4L54.6,375.7L53.1,375.8L51.2,375.7L49.1,375.4L46.8,375.0L44.5,374.4L42.1,373.8L39.8,373.1L37.5,372.4L35.4,371.8L33.6,371.2L31.9,370.7L30.6,370.3Z"/><path d="M61.4,374.0L62.1,373.0L63.1,371.7L64.3,370.1L65.6,368.3L67.0,366.4L68.5,364.4L70.0,362.3L71.5,360.2L72.9,358.2L74.1,356.2L75.2,354.3L76.1,352.5L76.8,350.9L77.3,349.2L77.8,347.5L78.1,345.9L78.3,344.3L78.4,342.8L78.5,341.4L78.6,340.0L78.6,338.8L78.6,337.7L78.7,336.8L78.7,336.1L77.3,335.9L77.1,336.7L77.0,337.6L76.9,338.7L76.8,339.9L76.6,341.2L76.4,342.6L76.2,344.0L75.9,345.5L75.6,347.0L75.1,348.5L74.6,350.0L73.9,351.5L73.0,353.0L71.9,354.7L70.6,356.6L69.2,358.6L67.7,360.6L66.1,362.6L64.6,364.5L63.1,366.4L61.7,368.1L60.5,369.6L59.4,370.9L58.6,372.0Z"/></g>
<use href="#leafb" transform="translate(20.5,127.3) rotate(-10) scale(1.09)"/><use href="#leaf" transform="translate(42.9,127.0) rotate(5) scale(0.94)"/><use href="#leaf" transform="translate(52.4,134.8) rotate(10) scale(0.88)"/><use href="#leafb" transform="translate(28.1,137.8) rotate(20) scale(0.88)"/><use href="#leaf" transform="translate(57.9,144.7) rotate(40) scale(0.77)"/><use href="#leaf" transform="translate(10.6,156.0) rotate(10) scale(1.00)"/><use href="#leafb" transform="translate(27.6,157.9) rotate(-5) scale(0.88)"/><use href="#leaf" transform="translate(40.9,153.1) rotate(15) scale(0.82)"/><use href="#leaf" transform="translate(55.2,158.0) rotate(30) scale(0.88)"/><use href="#leafb" transform="translate(40.7,164.9) rotate(10) scale(0.65)"/><use href="#leaf" transform="translate(21.4,178.3) rotate(20) scale(1.00)"/><use href="#leaf" transform="translate(44.1,173.0) rotate(0) scale(0.59)"/><use href="#leafb" transform="translate(59.2,180.8) rotate(10) scale(0.65)"/><use href="#leaf" transform="translate(68.7,170.3) rotate(60) scale(0.82)"/><use href="#leaf" transform="translate(78.1,186.7) rotate(60) scale(0.65)"/><use href="#leafb" transform="translate(11.3,182.5) rotate(-20) scale(1.18)"/><use href="#leaf" transform="translate(12.9,197.2) rotate(-15) scale(1.06)"/><use href="#leaf" transform="translate(16.7,191.7) rotate(55) scale(0.94)"/><use href="#leafb" transform="translate(63.0,204.2) rotate(15) scale(1.06)"/><use href="#leaf" transform="translate(77.3,206.7) rotate(20) scale(0.77)"/><use href="#leaf" transform="translate(50.6,214.2) rotate(-10) scale(1.12)"/><use href="#leafb" transform="translate(13.4,211.9) rotate(-20) scale(0.88)"/><use href="#leaf" transform="translate(15.1,215.1) rotate(55) scale(1.00)"/><use href="#leaf" transform="translate(55.5,212.9) rotate(55) scale(0.94)"/><use href="#leafb" transform="translate(15.1,224.5) rotate(85) scale(0.88)"/><use href="#leaf" transform="translate(49.1,242.5) rotate(-10) scale(0.88)"/><use href="#leaf" transform="translate(47.2,251.6) rotate(-55) scale(0.82)"/><use href="#leafb" transform="translate(66.5,235.3) rotate(-15) scale(0.77)"/><use href="#leaf" transform="translate(97.6,233.4) rotate(15) scale(1.00)"/><use href="#leaf" transform="translate(69.6,225.2) rotate(55) scale(0.94)"/><use href="#leafb" transform="translate(98.6,240.6) rotate(55) scale(0.88)"/><use href="#leaf" transform="translate(88.9,256.8) rotate(-5) scale(1.12)"/><use href="#leaf" transform="translate(90.1,257.5) rotate(55) scale(1.00)"/><use href="#leafb" transform="translate(85.6,259.3) rotate(-55) scale(1.00)"/><use href="#leaf" transform="translate(97.2,262.3) rotate(85) scale(0.82)"/><use href="#leaf" transform="translate(38.8,272.8) rotate(70) scale(0.88)"/><use href="#leafb" transform="translate(111.8,277.1) rotate(-65) scale(0.82)"/><use href="#leaf" transform="translate(71.9,290.1) rotate(30) scale(1.00)"/><use href="#leaf" transform="translate(63.2,293.3) rotate(-65) scale(0.88)"/><use href="#leafb" transform="translate(77.2,298.9) rotate(75) scale(0.82)"/><use href="#leaf" transform="translate(66.9,265.1) rotate(-20) scale(0.65)"/><use href="#leaf" transform="translate(28.0,316.3) rotate(-30) scale(0.67)"/><use href="#leaf" transform="translate(44.7,324.6) rotate(10) scale(0.73)"/><use href="#leaf" transform="translate(61.6,336.7) rotate(40) scale(0.67)"/><use href="#leaf" transform="translate(88.7,329.8) rotate(-10) scale(0.67)"/><use href="#leaf" transform="translate(95.5,331.4) rotate(40) scale(0.73)"/><use href="#leaf" transform="translate(78.7,349.3) rotate(-20) scale(0.53)"/><use href="#leaf" transform="translate(91.5,355.8) rotate(30) scale(0.60)"/><use href="#leaf" transform="translate(101.0,361.5) rotate(85) scale(0.73)"/><use href="#leaf" transform="translate(61.9,377.2) rotate(-10) scale(0.50)"/><use href="#leaf" transform="translate(68.3,378.1) rotate(75) scale(0.53)"/><use href="#leaf" transform="translate(12.3,344.1) rotate(-40) scale(0.47)"/><use href="#leaf" transform="translate(30.5,350.4) rotate(-140) scale(0.47)"/><use href="#leaf" transform="translate(89.2,302.3) rotate(20) scale(0.73)"/><use href="#leaf" transform="translate(57.1,297.4) rotate(-40) scale(0.73)"/><use href="#leaf" transform="translate(95.5,341.1) rotate(70) scale(0.60)"/><use href="#leaf" transform="translate(88.0,358.9) rotate(-30) scale(0.53)"/><use href="#leaf" transform="translate(55.9,356.5) rotate(60) scale(0.47)"/>
<path d="M30.7,352.1C33.5,349.4 39.8,350.4 42.9,350.7C46.0,351.1 48.0,352.0 49.3,354.3C50.5,356.5 50.9,361.0 50.3,364.3C49.7,367.6 47.7,371.4 45.7,374.3C43.8,377.1 41.7,379.0 38.6,381.4C35.5,383.8 29.6,388.3 27.1,388.6C24.7,388.8 24.1,386.4 24.0,382.9C23.9,379.3 25.3,372.3 26.4,367.1C27.5,362.0 28.0,354.9 30.7,352.1Z" fill="#e8772b"/>
<path d="M24.6,385.7C25.4,384.7 29.9,384.0 32.9,382.9C35.8,381.7 41.4,378.4 42.1,378.9C42.9,379.3 39.8,383.8 37.4,385.4C35.0,387.1 30.0,388.8 27.9,388.9C25.7,388.9 23.7,386.7 24.6,385.7Z" fill="#e9c77c"/>
<path d="M24.0,384.6C23.3,382.7 24.0,374.1 25.1,370.0C26.3,365.9 28.5,362.5 30.7,360.0C33.0,357.5 36.4,355.8 38.6,355.0C40.8,354.2 43.0,353.9 44.0,355.0C45.0,356.1 45.4,358.7 44.3,361.4C43.2,364.2 39.9,368.1 37.4,371.4C34.9,374.8 31.5,379.2 29.3,381.4C27.0,383.6 24.7,386.5 24.0,384.6Z" fill="#5a2a16"/>
<path d="M32.6,353.6C31.4,352.9 33.3,349.3 35.7,347.9C38.1,346.4 42.8,345.0 47.1,344.7C51.5,344.5 59.0,345.5 61.7,346.4C64.4,347.3 64.6,348.9 63.1,350.0C61.7,351.1 56.2,352.9 52.9,353.1C49.5,353.4 46.2,351.6 42.9,351.7C39.5,351.8 33.8,354.2 32.6,353.6Z" fill="#f0d58a"/>
<path d="M34.0,347.9C34.2,346.4 35.5,342.0 37.9,340.3C40.2,338.6 44.6,337.8 47.9,337.7C51.1,337.6 54.8,338.3 57.1,339.7C59.5,341.1 63.3,345.1 61.7,346.0C60.2,346.9 52.1,344.4 47.9,344.9C43.6,345.3 38.7,348.4 36.4,348.9C34.1,349.4 33.8,349.3 34.0,347.9Z" fill="#5a2a16"/>
<path d="M57.9,346.0 L78.9,352.9 L78.0,354.6 L56.9,348.9Z" fill="#f5f1e8"/>
<path d="M57.9,346.0 L78.9,352.9 L78.3,353.6 L57.4,347.1Z" fill="#4a2414"/>
<circle cx="54.0" cy="342.9" r="1.9" fill="#fff"/>
<path d="M41.7,375.7 L49.3,382.6 L56.0,383.6" stroke="#1d1d1b" stroke-width="2.2" fill="none" stroke-linecap="round" stroke-linejoin="round"/>
<path d="M0,386 L12,383.5 L11,387 L0,389.5Z" fill="#5a2a16"/>
<g fill="#14708f"><circle cx="842" cy="119.2" r="2.5"/><circle cx="842" cy="135.0" r="2.5"/><circle cx="842" cy="150.8" r="2.5"/><circle cx="842" cy="166.6" r="2.5"/><circle cx="842" cy="182.4" r="2.5"/><circle cx="842" cy="198.2" r="2.5"/><circle cx="842" cy="214.0" r="2.5"/><circle cx="842" cy="229.8" r="2.5"/><circle cx="842" cy="245.6" r="2.5"/><circle cx="842" cy="261.4" r="2.5"/><circle cx="842" cy="277.2" r="2.5"/><circle cx="842" cy="293.0" r="2.5"/><circle cx="842" cy="308.8" r="2.5"/><circle cx="842" cy="324.6" r="2.5"/><circle cx="842" cy="340.4" r="2.5"/><circle cx="842" cy="356.2" r="2.5"/><circle cx="842" cy="372.0" r="2.5"/><circle cx="842" cy="387.8" r="2.5"/><circle cx="842" cy="403.6" r="2.5"/><circle cx="842" cy="419.4" r="2.5"/><circle cx="842" cy="435.2" r="2.5"/><circle cx="842" cy="451.0" r="2.5"/><circle cx="842" cy="466.8" r="2.5"/><circle cx="842" cy="482.6" r="2.5"/><circle cx="842" cy="498.4" r="2.5"/><circle cx="842" cy="514.2" r="2.5"/><circle cx="842" cy="530.0" r="2.5"/><circle cx="842" cy="545.8" r="2.5"/><circle cx="842" cy="561.6" r="2.5"/><circle cx="842" cy="577.4" r="2.5"/><circle cx="842" cy="593.2" r="2.5"/><circle cx="842" cy="609.0" r="2.5"/><circle cx="842" cy="624.8" r="2.5"/><circle cx="842" cy="640.6" r="2.5"/><circle cx="842" cy="656.4" r="2.5"/><circle cx="842" cy="672.2" r="2.5"/><circle cx="842" cy="688.0" r="2.5"/><circle cx="842" cy="703.8" r="2.5"/><circle cx="842" cy="719.6" r="2.5"/><circle cx="842" cy="735.4" r="2.5"/><circle cx="842" cy="751.2" r="2.5"/><circle cx="842" cy="767.0" r="2.5"/><circle cx="842" cy="782.8" r="2.5"/><circle cx="842" cy="798.6" r="2.5"/><circle cx="842" cy="814.4" r="2.5"/><circle cx="842" cy="830.2" r="2.5"/><circle cx="842" cy="846.0" r="2.5"/><circle cx="842" cy="861.8" r="2.5"/><circle cx="842" cy="877.6" r="2.5"/><circle cx="842" cy="893.4" r="2.5"/><circle cx="842" cy="909.2" r="2.5"/><circle cx="842" cy="925.0" r="2.5"/><circle cx="842" cy="940.8" r="2.5"/><circle cx="842" cy="956.6" r="2.5"/><circle cx="842" cy="972.4" r="2.5"/><circle cx="842" cy="988.2" r="2.5"/><circle cx="842" cy="1004.0" r="2.5"/><circle cx="842" cy="1019.8" r="2.5"/><circle cx="842" cy="1035.6" r="2.5"/><circle cx="842" cy="1051.4" r="2.5"/><circle cx="842" cy="1067.2" r="2.5"/><circle cx="842" cy="1083.0" r="2.5"/><circle cx="842" cy="1098.8" r="2.5"/><circle cx="842" cy="1114.6" r="2.5"/><circle cx="842" cy="1130.4" r="2.5"/><circle cx="842" cy="1146.2" r="2.5"/><circle cx="842" cy="1162.0" r="2.5"/><circle cx="842" cy="1177.8" r="2.5"/><circle cx="842" cy="1193.6" r="2.5"/></g>
</svg>
</body></html>
